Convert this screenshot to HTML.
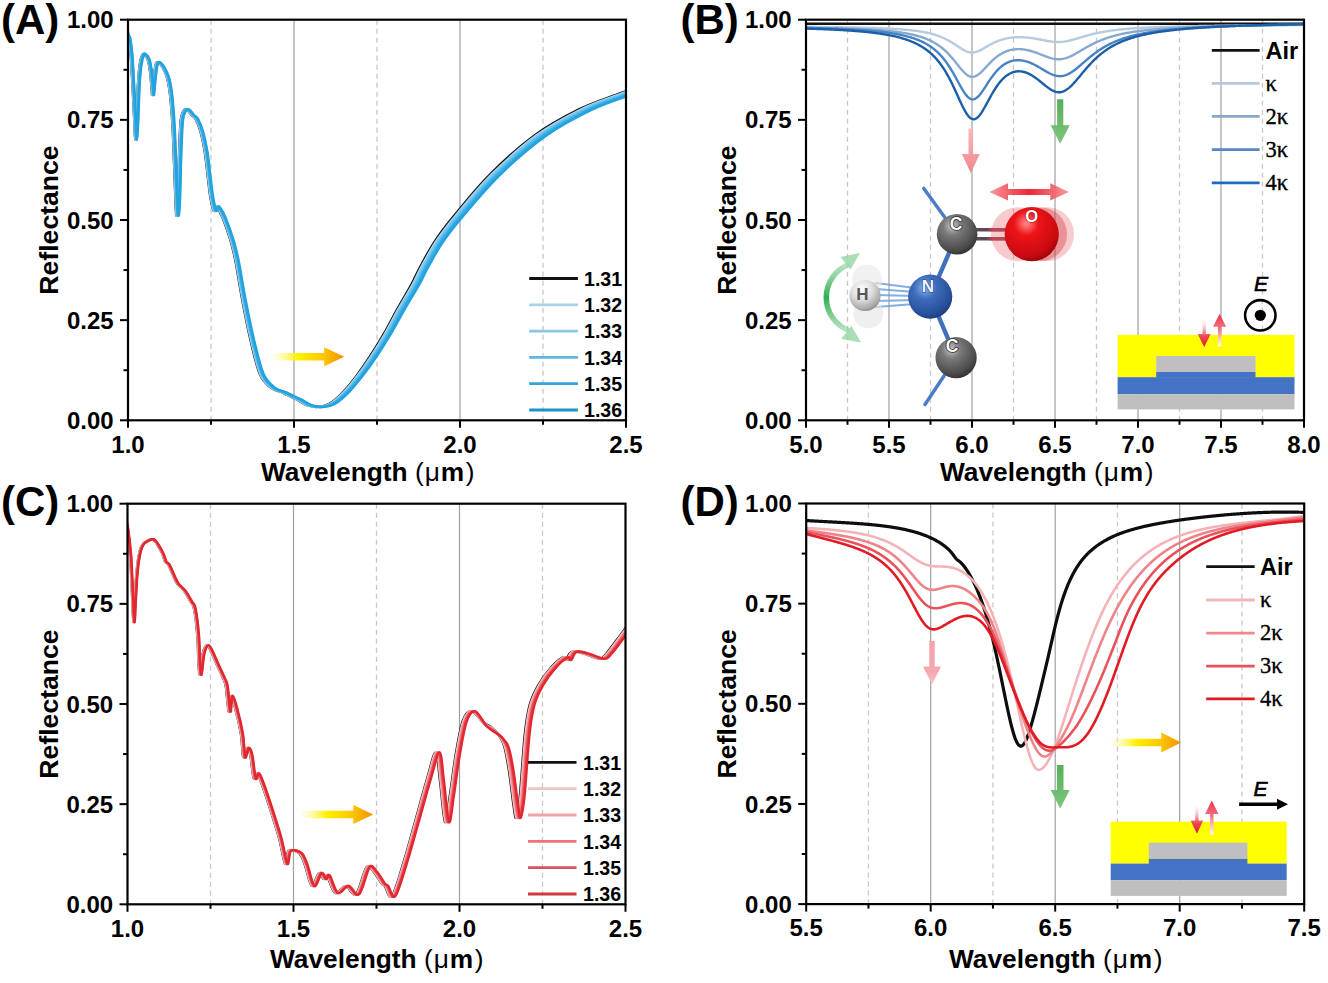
<!DOCTYPE html>
<html><head><meta charset="utf-8"><style>
html,body{margin:0;padding:0;background:#fff;}
svg{display:block;font-family:"Liberation Sans", sans-serif;}
</style></head><body>
<svg width="1328" height="983" viewBox="0 0 1328 983">
<rect width="1328" height="983" fill="#fff"/>
<line x1="211.00" y1="19.7" x2="211.00" y2="420.3" stroke="#c8c8c8" stroke-width="1.3" stroke-dasharray="5,4"/>
<line x1="377.00" y1="19.7" x2="377.00" y2="420.3" stroke="#c8c8c8" stroke-width="1.3" stroke-dasharray="5,4"/>
<line x1="543.00" y1="19.7" x2="543.00" y2="420.3" stroke="#c8c8c8" stroke-width="1.3" stroke-dasharray="5,4"/>
<line x1="294.00" y1="19.7" x2="294.00" y2="420.3" stroke="#a0a0a0" stroke-width="1.2"/>
<line x1="460.00" y1="19.7" x2="460.00" y2="420.3" stroke="#a0a0a0" stroke-width="1.2"/>
<line x1="847.50" y1="19.7" x2="847.50" y2="420.3" stroke="#c8c8c8" stroke-width="1.3" stroke-dasharray="5,4"/>
<line x1="930.50" y1="19.7" x2="930.50" y2="420.3" stroke="#c8c8c8" stroke-width="1.3" stroke-dasharray="5,4"/>
<line x1="1013.50" y1="19.7" x2="1013.50" y2="420.3" stroke="#c8c8c8" stroke-width="1.3" stroke-dasharray="5,4"/>
<line x1="1096.50" y1="19.7" x2="1096.50" y2="420.3" stroke="#c8c8c8" stroke-width="1.3" stroke-dasharray="5,4"/>
<line x1="1179.50" y1="19.7" x2="1179.50" y2="420.3" stroke="#c8c8c8" stroke-width="1.3" stroke-dasharray="5,4"/>
<line x1="1262.50" y1="19.7" x2="1262.50" y2="420.3" stroke="#c8c8c8" stroke-width="1.3" stroke-dasharray="5,4"/>
<line x1="889.00" y1="19.7" x2="889.00" y2="420.3" stroke="#a0a0a0" stroke-width="1.2"/>
<line x1="972.00" y1="19.7" x2="972.00" y2="420.3" stroke="#a0a0a0" stroke-width="1.2"/>
<line x1="1055.00" y1="19.7" x2="1055.00" y2="420.3" stroke="#a0a0a0" stroke-width="1.2"/>
<line x1="1138.00" y1="19.7" x2="1138.00" y2="420.3" stroke="#a0a0a0" stroke-width="1.2"/>
<line x1="1221.00" y1="19.7" x2="1221.00" y2="420.3" stroke="#a0a0a0" stroke-width="1.2"/>
<line x1="210.50" y1="503.7" x2="210.50" y2="904.3" stroke="#c8c8c8" stroke-width="1.3" stroke-dasharray="5,4"/>
<line x1="376.50" y1="503.7" x2="376.50" y2="904.3" stroke="#c8c8c8" stroke-width="1.3" stroke-dasharray="5,4"/>
<line x1="542.50" y1="503.7" x2="542.50" y2="904.3" stroke="#c8c8c8" stroke-width="1.3" stroke-dasharray="5,4"/>
<line x1="293.50" y1="503.7" x2="293.50" y2="904.3" stroke="#a0a0a0" stroke-width="1.2"/>
<line x1="459.50" y1="503.7" x2="459.50" y2="904.3" stroke="#a0a0a0" stroke-width="1.2"/>
<line x1="868.45" y1="503.5" x2="868.45" y2="904.1" stroke="#c8c8c8" stroke-width="1.3" stroke-dasharray="5,4"/>
<line x1="992.95" y1="503.5" x2="992.95" y2="904.1" stroke="#c8c8c8" stroke-width="1.3" stroke-dasharray="5,4"/>
<line x1="1117.45" y1="503.5" x2="1117.45" y2="904.1" stroke="#c8c8c8" stroke-width="1.3" stroke-dasharray="5,4"/>
<line x1="1241.95" y1="503.5" x2="1241.95" y2="904.1" stroke="#c8c8c8" stroke-width="1.3" stroke-dasharray="5,4"/>
<line x1="930.70" y1="503.5" x2="930.70" y2="904.1" stroke="#a0a0a0" stroke-width="1.2"/>
<line x1="1055.20" y1="503.5" x2="1055.20" y2="904.1" stroke="#a0a0a0" stroke-width="1.2"/>
<line x1="1179.70" y1="503.5" x2="1179.70" y2="904.1" stroke="#a0a0a0" stroke-width="1.2"/>
<defs><clipPath id="cA"><rect x="128" y="19.7" width="498" height="400.6"/></clipPath><clipPath id="cB"><rect x="806" y="19.7" width="498" height="400.6"/></clipPath><clipPath id="cC"><rect x="127.5" y="503.7" width="498" height="400.6"/></clipPath><clipPath id="cD"><rect x="806.2" y="503.5" width="498" height="400.6"/></clipPath></defs>
<g clip-path="url(#cA)" fill="none" stroke-linejoin="round" stroke-linecap="round">
<path d="M124.34,22.00 C124.81,24.33 126.46,33.35 127.14,36.00 C127.83,38.65 127.88,34.83 128.44,37.90 C129.01,40.97 129.89,46.57 130.54,54.40 C131.18,62.23 131.71,73.72 132.33,84.90 C132.94,96.08 133.76,112.35 134.22,121.50 C134.68,130.65 134.75,139.80 135.12,139.80 C135.48,139.80 135.96,130.65 136.41,121.50 C136.86,112.35 137.26,94.47 137.80,84.90 C138.35,75.33 138.98,69.08 139.69,64.10 C140.40,59.12 141.32,56.62 142.08,55.00 C142.84,53.38 143.35,53.68 144.26,54.40 C145.17,55.12 146.60,56.45 147.54,59.30 C148.48,62.15 149.26,66.63 149.92,71.50 C150.59,76.37 151.15,84.65 151.51,88.50 C151.88,92.35 151.76,96.22 152.11,94.60 C152.45,92.98 153.05,83.67 153.60,78.80 C154.14,73.93 154.69,68.15 155.38,65.40 C156.08,62.65 156.56,61.90 157.76,62.30 C158.97,62.70 161.10,65.25 162.62,67.80 C164.14,70.35 165.66,73.07 166.88,77.60 C168.10,82.13 169.04,87.10 169.95,95.00 C170.86,102.90 171.65,113.33 172.33,125.00 C173.01,136.67 173.48,151.67 174.01,165.00 C174.54,178.33 175.09,196.60 175.50,205.00 C175.91,213.40 176.11,216.63 176.49,215.40 C176.87,214.17 177.38,207.35 177.78,197.60 C178.17,187.85 178.40,169.65 178.86,156.90 C179.33,144.15 179.74,128.82 180.55,121.10 C181.35,113.38 182.64,112.48 183.71,110.60 C184.79,108.72 185.63,109.00 186.98,109.80 C188.33,110.60 190.36,113.78 191.82,115.40 C193.29,117.02 194.31,116.65 195.78,119.50 C197.25,122.35 199.14,127.08 200.62,132.50 C202.11,137.92 203.47,144.42 204.67,152.00 C205.88,159.58 206.90,170.40 207.84,178.00 C208.77,185.60 209.37,192.17 210.31,197.60 C211.24,203.03 212.54,209.12 213.47,210.60 C214.39,212.08 214.77,206.23 215.84,206.50 C216.90,206.77 218.40,209.35 219.88,212.20 C221.36,215.05 222.84,218.45 224.72,223.60 C226.59,228.75 229.31,236.58 231.13,243.10 C232.96,249.62 233.81,253.10 235.67,262.70 C237.53,272.30 239.70,287.27 242.28,300.70 C244.86,314.13 248.21,330.98 251.15,343.30 C254.09,355.62 256.62,367.15 259.92,374.60 C263.22,382.05 267.27,385.02 270.95,388.00 C274.63,390.98 279.40,391.37 281.98,392.50 C284.55,393.63 283.93,393.62 286.40,394.80 C288.88,395.98 293.46,397.85 296.83,399.60 C300.21,401.35 303.23,404.07 306.67,405.30 C310.11,406.53 313.71,407.25 317.48,407.00 C321.25,406.75 325.10,406.22 329.27,403.80 C333.45,401.38 338.15,397.00 342.53,392.50 C346.92,388.00 351.09,382.73 355.59,376.80 C360.09,370.87 364.87,364.02 369.53,356.90 C374.19,349.78 378.89,342.17 383.55,334.10 C388.21,326.03 392.84,316.80 397.47,308.50 C402.11,300.20 407.70,291.10 411.39,284.30 C415.08,277.50 415.82,274.75 419.62,267.70 C423.43,260.65 428.63,250.48 434.22,242.00 C439.80,233.52 443.85,228.05 453.11,216.80 C462.37,205.55 476.25,188.07 489.79,174.50 C503.33,160.93 519.51,146.27 534.36,135.40 C549.20,124.53 565.28,116.08 578.87,109.30 C592.47,102.52 606.67,98.17 615.93,94.70 C625.20,91.23 628.12,90.45 634.46,88.50 C640.79,86.55 650.70,83.92 653.94,83.00" stroke="#111111" stroke-width="2.2"/>
<path d="M124.66,22.00 C125.13,24.33 126.78,33.35 127.46,36.00 C128.14,38.65 128.19,34.83 128.76,37.90 C129.32,40.97 130.20,46.57 130.85,54.40 C131.50,62.23 132.03,73.72 132.65,84.90 C133.26,96.08 134.08,112.35 134.54,121.50 C135.01,130.65 135.07,139.80 135.44,139.80 C135.80,139.80 136.29,130.65 136.73,121.50 C137.18,112.35 137.58,94.47 138.13,84.90 C138.68,75.33 139.31,69.08 140.02,64.10 C140.73,59.12 141.65,56.62 142.41,55.00 C143.17,53.38 143.69,53.68 144.60,54.40 C145.51,55.12 146.94,56.45 147.88,59.30 C148.83,62.15 149.61,66.63 150.27,71.50 C150.93,76.37 151.50,84.65 151.86,88.50 C152.23,92.35 152.11,96.22 152.46,94.60 C152.81,92.98 153.40,83.67 153.95,78.80 C154.50,73.93 155.04,68.15 155.74,65.40 C156.44,62.65 156.92,61.90 158.13,62.30 C159.34,62.70 161.47,65.25 163.00,67.80 C164.52,70.35 166.04,73.07 167.27,77.60 C168.49,82.13 169.44,87.10 170.35,95.00 C171.26,102.90 172.05,113.33 172.73,125.00 C173.41,136.67 173.89,151.67 174.42,165.00 C174.95,178.33 175.49,196.60 175.91,205.00 C176.32,213.40 176.52,216.63 176.90,215.40 C177.28,214.17 177.79,207.35 178.19,197.60 C178.59,187.85 178.82,169.65 179.28,156.90 C179.75,144.15 180.16,128.82 180.97,121.10 C181.78,113.38 183.07,112.48 184.15,110.60 C185.22,108.72 186.06,109.00 187.42,109.80 C188.78,110.60 190.81,113.78 192.28,115.40 C193.75,117.02 194.78,116.65 196.25,119.50 C197.72,122.35 199.62,127.08 201.11,132.50 C202.59,137.92 203.97,144.42 205.17,152.00 C206.38,159.58 207.40,170.40 208.34,178.00 C209.29,185.60 209.88,192.17 210.82,197.60 C211.76,203.03 213.07,209.12 213.99,210.60 C214.92,212.08 215.30,206.23 216.37,206.50 C217.44,206.77 218.95,209.35 220.43,212.20 C221.92,215.05 223.41,218.45 225.29,223.60 C227.17,228.75 229.89,236.58 231.72,243.10 C233.56,249.62 234.41,253.10 236.28,262.70 C238.14,272.30 240.32,287.27 242.91,300.70 C245.50,314.13 248.87,330.98 251.82,343.30 C254.77,355.62 257.31,367.15 260.62,374.60 C263.94,382.05 268.01,385.02 271.70,388.00 C275.39,390.98 280.19,391.37 282.77,392.50 C285.36,393.63 284.73,393.62 287.22,394.80 C289.71,395.98 294.30,397.85 297.70,399.60 C301.09,401.35 304.12,404.07 307.58,405.30 C311.03,406.53 314.66,407.25 318.44,407.00 C322.23,406.75 326.09,406.22 330.29,403.80 C334.49,401.38 339.21,397.00 343.62,392.50 C348.02,388.00 352.22,382.73 356.74,376.80 C361.26,370.87 366.06,364.02 370.75,356.90 C375.43,349.78 380.16,342.17 384.85,334.10 C389.53,326.03 394.18,316.80 398.85,308.50 C403.51,300.20 409.13,291.10 412.84,284.30 C416.55,277.50 417.29,274.75 421.12,267.70 C424.94,260.65 430.18,250.48 435.79,242.00 C441.41,233.52 445.48,228.05 454.80,216.80 C464.12,205.55 478.08,188.07 491.70,174.50 C505.33,160.93 521.61,146.27 536.55,135.40 C551.49,124.53 567.67,116.08 581.36,109.30 C595.05,102.52 609.35,98.17 618.68,94.70 C628.01,91.23 630.95,90.45 637.33,88.50 C643.71,86.55 653.69,83.92 656.96,83.00" stroke="#9fd2ee" stroke-width="2.6"/>
<path d="M125.01,22.00 C125.48,24.33 127.13,33.35 127.81,36.00 C128.49,38.65 128.54,34.83 129.11,37.90 C129.67,40.97 130.56,46.57 131.21,54.40 C131.86,62.23 132.39,73.72 133.00,84.90 C133.62,96.08 134.43,112.35 134.90,121.50 C135.37,130.65 135.43,139.80 135.80,139.80 C136.16,139.80 136.65,130.65 137.09,121.50 C137.54,112.35 137.94,94.47 138.49,84.90 C139.04,75.33 139.67,69.08 140.39,64.10 C141.10,59.12 142.02,56.62 142.78,55.00 C143.55,53.38 144.06,53.68 144.98,54.40 C145.89,55.12 147.32,56.45 148.27,59.30 C149.21,62.15 149.99,66.63 150.66,71.50 C151.32,76.37 151.89,84.65 152.25,88.50 C152.62,92.35 152.50,96.22 152.85,94.60 C153.20,92.98 153.80,83.67 154.35,78.80 C154.89,73.93 155.44,68.15 156.14,65.40 C156.84,62.65 157.32,61.90 158.53,62.30 C159.74,62.70 161.89,65.25 163.41,67.80 C164.94,70.35 166.47,73.07 167.70,77.60 C168.93,82.13 169.87,87.10 170.79,95.00 C171.70,102.90 172.50,113.33 173.18,125.00 C173.86,136.67 174.34,151.67 174.87,165.00 C175.40,178.33 175.95,196.60 176.36,205.00 C176.78,213.40 176.98,216.63 177.36,215.40 C177.74,214.17 178.25,207.35 178.65,197.60 C179.05,187.85 179.28,169.65 179.75,156.90 C180.21,144.15 180.63,128.82 181.44,121.10 C182.25,113.38 183.55,112.48 184.63,110.60 C185.71,108.72 186.55,109.00 187.91,109.80 C189.27,110.60 191.31,113.78 192.79,115.40 C194.27,117.02 195.29,116.65 196.77,119.50 C198.25,122.35 200.15,127.08 201.65,132.50 C203.14,137.92 204.51,144.42 205.73,152.00 C206.94,159.58 207.96,170.40 208.91,178.00 C209.85,185.60 210.45,192.17 211.40,197.60 C212.34,203.03 213.65,209.12 214.58,210.60 C215.51,212.08 215.89,206.23 216.97,206.50 C218.04,206.77 219.55,209.35 221.04,212.20 C222.54,215.05 224.03,218.45 225.92,223.60 C227.81,228.75 230.54,236.58 232.38,243.10 C234.22,249.62 235.08,253.10 236.95,262.70 C238.83,272.30 241.01,287.27 243.61,300.70 C246.22,314.13 249.60,330.98 252.56,343.30 C255.53,355.62 258.08,367.15 261.41,374.60 C264.73,382.05 268.82,385.02 272.53,388.00 C276.24,390.98 281.06,391.37 283.66,392.50 C286.26,393.63 285.63,393.62 288.13,394.80 C290.63,395.98 295.25,397.85 298.66,399.60 C302.07,401.35 305.11,404.07 308.59,405.30 C312.06,406.53 315.70,407.25 319.51,407.00 C323.31,406.75 327.20,406.22 331.42,403.80 C335.64,401.38 340.38,397.00 344.82,392.50 C349.25,388.00 353.47,382.73 358.01,376.80 C362.56,370.87 367.39,364.02 372.10,356.90 C376.81,349.78 381.57,342.17 386.29,334.10 C391.00,326.03 395.67,316.80 400.37,308.50 C405.06,300.20 410.71,291.10 414.45,284.30 C418.18,277.50 418.93,274.75 422.78,267.70 C426.63,260.65 431.90,250.48 437.55,242.00 C443.20,233.52 447.29,228.05 456.67,216.80 C466.05,205.55 480.11,188.07 493.83,174.50 C507.55,160.93 523.94,146.27 538.99,135.40 C554.04,124.53 570.34,116.08 584.13,109.30 C597.92,102.52 612.33,98.17 621.73,94.70 C631.13,91.23 634.10,90.45 640.53,88.50 C646.96,86.55 657.01,83.92 660.31,83.00" stroke="#7cc6ec" stroke-width="2.6"/>
<path d="M125.36,22.00 C125.83,24.33 127.48,33.35 128.16,36.00 C128.84,38.65 128.89,34.83 129.46,37.90 C130.03,40.97 130.91,46.57 131.56,54.40 C132.21,62.23 132.74,73.72 133.36,84.90 C133.97,96.08 134.79,112.35 135.26,121.50 C135.72,130.65 135.79,139.80 136.16,139.80 C136.52,139.80 137.01,130.65 137.46,121.50 C137.91,112.35 138.31,94.47 138.85,84.90 C139.40,75.33 140.04,69.08 140.75,64.10 C141.47,59.12 142.39,56.62 143.15,55.00 C143.92,53.38 144.43,53.68 145.35,54.40 C146.27,55.12 147.70,56.45 148.65,59.30 C149.60,62.15 150.38,66.63 151.05,71.50 C151.71,76.37 152.28,84.65 152.64,88.50 C153.01,92.35 152.89,96.22 153.24,94.60 C153.59,92.98 154.19,83.67 154.74,78.80 C155.29,73.93 155.84,68.15 156.54,65.40 C157.24,62.65 157.72,61.90 158.94,62.30 C160.15,62.70 162.30,65.25 163.83,67.80 C165.36,70.35 166.90,73.07 168.13,77.60 C169.36,82.13 170.31,87.10 171.22,95.00 C172.14,102.90 172.94,113.33 173.62,125.00 C174.30,136.67 174.79,151.67 175.32,165.00 C175.85,178.33 176.40,196.60 176.82,205.00 C177.23,213.40 177.43,216.63 177.82,215.40 C178.20,214.17 178.72,207.35 179.12,197.60 C179.51,187.85 179.75,169.65 180.21,156.90 C180.68,144.15 181.10,128.82 181.91,121.10 C182.73,113.38 184.03,112.48 185.11,110.60 C186.19,108.72 187.04,109.00 188.40,109.80 C189.77,110.60 191.82,113.78 193.30,115.40 C194.78,117.02 195.81,116.65 197.29,119.50 C198.77,122.35 200.69,127.08 202.18,132.50 C203.68,137.92 205.06,144.42 206.28,152.00 C207.49,159.58 208.53,170.40 209.47,178.00 C210.42,185.60 211.02,192.17 211.97,197.60 C212.92,203.03 214.23,209.12 215.17,210.60 C216.10,212.08 216.48,206.23 217.56,206.50 C218.64,206.77 220.16,209.35 221.66,212.20 C223.15,215.05 224.65,218.45 226.55,223.60 C228.44,228.75 231.19,236.58 233.04,243.10 C234.88,249.62 235.75,253.10 237.63,262.70 C239.51,272.30 241.71,287.27 244.32,300.70 C246.93,314.13 250.32,330.98 253.30,343.30 C256.28,355.62 258.84,367.15 262.19,374.60 C265.53,382.05 269.64,385.02 273.37,388.00 C277.09,390.98 281.93,391.37 284.55,392.50 C287.16,393.63 286.53,393.62 289.04,394.80 C291.55,395.98 296.19,397.85 299.62,399.60 C303.04,401.35 306.10,404.07 309.60,405.30 C313.09,406.53 316.75,407.25 320.57,407.00 C324.40,406.75 328.31,406.22 332.55,403.80 C336.79,401.38 341.56,397.00 346.02,392.50 C350.48,388.00 354.72,382.73 359.29,376.80 C363.86,370.87 368.72,364.02 373.46,356.90 C378.20,349.78 382.99,342.17 387.72,334.10 C392.46,326.03 397.17,316.80 401.89,308.50 C406.61,300.20 412.30,291.10 416.06,284.30 C419.81,277.50 420.56,274.75 424.44,267.70 C428.31,260.65 433.61,250.48 439.30,242.00 C444.98,233.52 449.11,228.05 458.55,216.80 C467.99,205.55 482.14,188.07 495.95,174.50 C509.76,160.93 526.27,146.27 541.42,135.40 C556.58,124.53 573.00,116.08 586.89,109.30 C600.79,102.52 615.31,98.17 624.78,94.70 C634.25,91.23 637.24,90.45 643.72,88.50 C650.20,86.55 660.34,83.92 663.66,83.00" stroke="#55b8e8" stroke-width="2.6"/>
<path d="M125.71,22.00 C126.18,24.33 127.83,33.35 128.51,36.00 C129.19,38.65 129.24,34.83 129.81,37.90 C130.38,40.97 131.26,46.57 131.91,54.40 C132.56,62.23 133.10,73.72 133.71,84.90 C134.33,96.08 135.15,112.35 135.61,121.50 C136.08,130.65 136.15,139.80 136.52,139.80 C136.88,139.80 137.37,130.65 137.82,121.50 C138.27,112.35 138.67,94.47 139.22,84.90 C139.77,75.33 140.40,69.08 141.12,64.10 C141.84,59.12 142.75,56.62 143.52,55.00 C144.29,53.38 144.81,53.68 145.72,54.40 C146.64,55.12 148.08,56.45 149.03,59.30 C149.98,62.15 150.76,66.63 151.43,71.50 C152.10,76.37 152.67,84.65 153.03,88.50 C153.40,92.35 153.28,96.22 153.64,94.60 C153.99,92.98 154.59,83.67 155.14,78.80 C155.69,73.93 156.24,68.15 156.94,65.40 C157.64,62.65 158.12,61.90 159.34,62.30 C160.56,62.70 162.72,65.25 164.25,67.80 C165.79,70.35 167.32,73.07 168.56,77.60 C169.79,82.13 170.74,87.10 171.66,95.00 C172.58,102.90 173.38,113.33 174.07,125.00 C174.75,136.67 175.24,151.67 175.77,165.00 C176.30,178.33 176.86,196.60 177.27,205.00 C177.69,213.40 177.89,216.63 178.27,215.40 C178.66,214.17 179.18,207.35 179.58,197.60 C179.98,187.85 180.21,169.65 180.68,156.90 C181.15,144.15 181.56,128.82 182.38,121.10 C183.20,113.38 184.50,112.48 185.59,110.60 C186.67,108.72 187.53,109.00 188.89,109.80 C190.26,110.60 192.32,113.78 193.80,115.40 C195.29,117.02 196.33,116.65 197.81,119.50 C199.30,122.35 201.22,127.08 202.72,132.50 C204.23,137.92 205.61,144.42 206.83,152.00 C208.05,159.58 209.09,170.40 210.04,178.00 C210.99,185.60 211.59,192.17 212.54,197.60 C213.50,203.03 214.82,209.12 215.75,210.60 C216.69,212.08 217.07,206.23 218.16,206.50 C219.24,206.77 220.76,209.35 222.27,212.20 C223.77,215.05 225.27,218.45 227.18,223.60 C229.08,228.75 231.84,236.58 233.69,243.10 C235.55,249.62 236.42,253.10 238.31,262.70 C240.19,272.30 242.40,287.27 245.02,300.70 C247.65,314.13 251.05,330.98 254.05,343.30 C257.04,355.62 259.61,367.15 262.97,374.60 C266.33,382.05 270.46,385.02 274.20,388.00 C277.94,390.98 282.81,391.37 285.43,392.50 C288.06,393.63 287.42,393.62 289.94,394.80 C292.47,395.98 297.13,397.85 300.58,399.60 C304.02,401.35 307.10,404.07 310.61,405.30 C314.12,406.53 317.79,407.25 321.64,407.00 C325.49,406.75 329.41,406.22 333.68,403.80 C337.94,401.38 342.74,397.00 347.22,392.50 C351.70,388.00 355.97,382.73 360.57,376.80 C365.16,370.87 370.05,364.02 374.81,356.90 C379.58,349.78 384.40,342.17 389.16,334.10 C393.93,326.03 398.66,316.80 403.41,308.50 C408.16,300.20 413.88,291.10 417.67,284.30 C421.45,277.50 422.20,274.75 426.10,267.70 C429.99,260.65 435.33,250.48 441.05,242.00 C446.77,233.52 450.92,228.05 460.43,216.80 C469.93,205.55 484.17,188.07 498.07,174.50 C511.98,160.93 528.60,146.27 543.86,135.40 C559.13,124.53 575.67,116.08 589.66,109.30 C603.65,102.52 618.29,98.17 627.83,94.70 C637.37,91.23 640.39,90.45 646.92,88.50 C653.45,86.55 663.66,83.92 667.01,83.00" stroke="#35ace6" stroke-width="2.6"/>
<path d="M126.06,22.00 C126.53,24.33 128.18,33.35 128.86,36.00 C129.54,38.65 129.59,34.83 130.16,37.90 C130.73,40.97 131.61,46.57 132.26,54.40 C132.92,62.23 133.45,73.72 134.07,84.90 C134.69,96.08 135.50,112.35 135.97,121.50 C136.44,130.65 136.51,139.80 136.87,139.80 C137.24,139.80 137.73,130.65 138.18,121.50 C138.63,112.35 139.03,94.47 139.58,84.90 C140.13,75.33 140.77,69.08 141.49,64.10 C142.20,59.12 143.12,56.62 143.89,55.00 C144.66,53.38 145.18,53.68 146.10,54.40 C147.02,55.12 148.46,56.45 149.41,59.30 C150.36,62.15 151.15,66.63 151.82,71.50 C152.49,76.37 153.06,84.65 153.42,88.50 C153.79,92.35 153.68,96.22 154.03,94.60 C154.38,92.98 154.98,83.67 155.53,78.80 C156.08,73.93 156.64,68.15 157.34,65.40 C158.04,62.65 158.53,61.90 159.75,62.30 C160.97,62.70 163.13,65.25 164.67,67.80 C166.21,70.35 167.75,73.07 168.99,77.60 C170.23,82.13 171.18,87.10 172.10,95.00 C173.02,102.90 173.83,113.33 174.51,125.00 C175.20,136.67 175.69,151.67 176.22,165.00 C176.76,178.33 177.31,196.60 177.73,205.00 C178.15,213.40 178.35,216.63 178.73,215.40 C179.12,214.17 179.64,207.35 180.04,197.60 C180.44,187.85 180.68,169.65 181.14,156.90 C181.61,144.15 182.03,128.82 182.85,121.10 C183.67,113.38 184.98,112.48 186.07,110.60 C187.16,108.72 188.01,109.00 189.39,109.80 C190.76,110.60 192.82,113.78 194.31,115.40 C195.80,117.02 196.84,116.65 198.33,119.50 C199.83,122.35 201.75,127.08 203.26,132.50 C204.77,137.92 206.16,144.42 207.39,152.00 C208.61,159.58 209.65,170.40 210.60,178.00 C211.56,185.60 212.16,192.17 213.12,197.60 C214.07,203.03 215.40,209.12 216.34,210.60 C217.28,212.08 217.66,206.23 218.75,206.50 C219.84,206.77 221.37,209.35 222.88,212.20 C224.39,215.05 225.90,218.45 227.81,223.60 C229.72,228.75 232.49,236.58 234.35,243.10 C236.21,249.62 237.09,253.10 238.98,262.70 C240.88,272.30 243.09,287.27 245.73,300.70 C248.36,314.13 251.78,330.98 254.79,343.30 C257.79,355.62 260.38,367.15 263.75,374.60 C267.13,382.05 271.27,385.02 275.03,388.00 C278.79,390.98 283.68,391.37 286.32,392.50 C288.95,393.63 288.32,393.62 290.85,394.80 C293.39,395.98 298.07,397.85 301.54,399.60 C305.00,401.35 308.09,404.07 311.62,405.30 C315.14,406.53 318.84,407.25 322.71,407.00 C326.57,406.75 330.52,406.22 334.81,403.80 C339.09,401.38 343.92,397.00 348.42,392.50 C352.93,388.00 357.22,382.73 361.84,376.80 C366.47,370.87 371.38,364.02 376.17,356.90 C380.96,349.78 385.81,342.17 390.60,334.10 C395.40,326.03 400.16,316.80 404.94,308.50 C409.72,300.20 415.47,291.10 419.27,284.30 C423.08,277.50 423.83,274.75 427.76,267.70 C431.68,260.65 437.05,250.48 442.80,242.00 C448.56,233.52 452.74,228.05 462.30,216.80 C471.87,205.55 486.20,188.07 500.20,174.50 C514.20,160.93 530.93,146.27 546.30,135.40 C561.67,124.53 578.33,116.08 592.43,109.30 C606.52,102.52 621.27,98.17 630.88,94.70 C640.49,91.23 643.53,90.45 650.11,88.50 C656.69,86.55 666.99,83.92 670.36,83.00" stroke="#22a3e0" stroke-width="2.6"/>
</g>
<g clip-path="url(#cC)" fill="none" stroke-linejoin="round" stroke-linecap="round">
<path d="M124.17,516.00 C124.64,518.17 126.03,522.53 126.97,529.00 C127.92,535.47 129.08,544.63 129.86,554.80 C130.64,564.97 131.08,578.82 131.65,590.00 C132.21,601.18 132.74,620.23 133.24,621.90 C133.73,623.57 134.18,607.45 134.63,600.00 C135.07,592.55 135.34,584.20 135.92,577.20 C136.50,570.20 137.18,563.23 138.11,558.00 C139.03,552.77 139.81,548.77 141.48,545.80 C143.16,542.83 146.11,541.13 148.14,540.20 C150.18,539.27 151.49,538.15 153.71,540.20 C155.93,542.25 159.60,548.95 161.46,552.50 C163.31,556.05 163.73,559.45 164.84,561.50 C165.95,563.55 166.82,562.57 168.12,564.80 C169.41,567.03 171.10,571.72 172.59,574.90 C174.08,578.08 175.20,581.28 177.06,583.90 C178.91,586.52 181.50,587.62 183.72,590.60 C185.94,593.58 188.70,598.82 190.37,601.80 C192.05,604.78 192.63,602.90 193.75,608.50 C194.88,614.10 196.39,626.45 197.13,635.40 C197.88,644.35 197.79,655.68 198.22,662.20 C198.66,668.72 198.99,675.98 199.72,674.50 C200.44,673.02 201.37,658.15 202.60,653.30 C203.82,648.45 205.40,645.03 207.07,645.40 C208.74,645.77 211.14,652.52 212.63,655.50 C214.12,658.48 214.34,659.57 216.01,663.30 C217.68,667.03 221.08,674.12 222.67,677.90 C224.26,681.68 224.59,680.40 225.55,686.00 C226.51,691.60 227.64,709.83 228.43,711.50 C229.23,713.17 229.25,696.57 230.32,696.00 C231.40,695.43 233.17,701.80 234.89,708.10 C236.62,714.40 239.30,725.62 240.66,733.80 C242.01,741.98 242.06,754.85 243.04,757.20 C244.02,759.55 245.36,748.28 246.52,747.90 C247.68,747.52 248.84,749.83 250.00,754.90 C251.16,759.97 252.32,775.18 253.47,778.30 C254.63,781.42 255.40,772.03 256.95,773.60 C258.51,775.17 260.30,780.67 262.82,787.70 C265.33,794.73 269.34,807.22 272.06,815.80 C274.77,824.38 276.98,831.20 279.11,839.20 C281.25,847.20 283.34,861.85 284.88,863.80 C286.42,865.75 286.02,852.67 288.35,850.90 C290.69,849.13 296.17,850.87 298.89,853.20 C301.60,855.53 302.53,859.43 304.65,864.90 C306.77,870.37 309.27,884.63 311.61,886.00 C313.94,887.37 316.72,874.27 318.66,873.10 C320.60,871.93 321.89,878.60 323.23,879.00 C324.57,879.40 324.77,873.17 326.71,875.50 C328.65,877.83 331.75,891.25 334.86,893.00 C337.97,894.75 341.90,885.80 345.39,886.00 C348.89,886.20 352.35,897.32 355.83,894.20 C359.30,891.08 363.30,871.00 366.26,867.30 C369.22,863.60 371.08,869.27 373.61,872.00 C376.15,874.73 379.63,881.35 381.46,883.70 C383.30,886.05 382.94,884.03 384.64,886.10 C386.35,888.17 388.64,899.88 391.70,896.10 C394.76,892.32 399.25,875.50 403.03,863.40 C406.80,851.30 410.35,837.73 414.36,823.50 C418.36,809.27 423.55,789.85 427.08,778.00 C430.60,766.15 433.40,751.93 435.52,752.40 C437.64,752.87 438.24,769.18 439.79,780.80 C441.35,792.42 443.21,819.73 444.86,822.10 C446.52,824.47 447.98,806.15 449.73,795.00 C451.49,783.85 453.28,767.52 455.40,755.20 C457.52,742.88 459.87,728.49 462.45,721.10 C465.03,713.71 467.60,710.80 470.90,710.88 C474.19,710.97 478.93,718.97 482.23,721.60 C485.52,724.22 488.07,724.57 490.67,726.62 C493.27,728.68 495.62,730.75 497.83,733.94 C500.03,737.13 502.07,739.62 503.89,745.78 C505.71,751.93 507.13,760.55 508.76,770.87 C510.38,781.19 512.42,799.95 513.63,807.70 C514.84,815.45 515.00,819.43 516.01,817.40 C517.02,815.37 518.26,809.33 519.69,795.50 C521.11,781.67 522.93,749.48 524.56,734.40 C526.18,719.32 527.21,713.15 529.43,705.00 C531.65,696.85 534.44,691.60 537.87,685.50 C541.30,679.40 545.91,673.07 550.00,668.40 C554.09,663.73 559.77,658.90 562.42,657.50 C565.07,656.10 564.74,660.67 565.90,660.00 C567.06,659.33 568.13,654.92 569.37,653.50 C570.62,652.08 570.91,651.45 573.35,651.50 C575.78,651.55 579.77,652.62 583.98,653.80 C588.19,654.98 594.94,658.60 598.59,658.60 C602.23,658.60 601.93,658.15 605.84,653.80 C609.75,649.45 617.02,639.13 622.04,632.50 C627.06,625.87 631.15,620.25 635.95,614.00 C640.75,607.75 648.37,598.17 650.86,595.00" stroke="#111111" stroke-width="2.0"/>
<path d="M124.40,516.00 C124.87,518.17 126.25,522.53 127.20,529.00 C128.15,535.47 129.31,544.63 130.09,554.80 C130.87,564.97 131.32,578.82 131.88,590.00 C132.44,601.18 132.97,620.23 133.47,621.90 C133.97,623.57 134.42,607.45 134.87,600.00 C135.31,592.55 135.58,584.20 136.16,577.20 C136.74,570.20 137.42,563.23 138.35,558.00 C139.28,552.77 140.06,548.77 141.73,545.80 C143.41,542.83 146.36,541.13 148.40,540.20 C150.44,539.27 151.75,538.15 153.98,540.20 C156.20,542.25 159.88,548.95 161.74,552.50 C163.60,556.05 164.01,559.45 165.13,561.50 C166.24,563.55 167.12,562.57 168.41,564.80 C169.71,567.03 171.40,571.72 172.89,574.90 C174.38,578.08 175.51,581.28 177.37,583.90 C179.23,586.52 181.82,587.62 184.04,590.60 C186.26,593.58 189.03,598.82 190.71,601.80 C192.38,604.78 192.97,602.90 194.09,608.50 C195.22,614.10 196.73,626.45 197.48,635.40 C198.22,644.35 198.14,655.68 198.57,662.20 C199.00,668.72 199.34,675.98 200.07,674.50 C200.80,673.02 201.72,658.15 202.95,653.30 C204.18,648.45 205.76,645.03 207.43,645.40 C209.11,645.77 211.51,652.52 213.01,655.50 C214.50,658.48 214.72,659.57 216.39,663.30 C218.07,667.03 221.47,674.12 223.06,677.90 C224.65,681.68 224.98,680.40 225.95,686.00 C226.91,691.60 228.04,709.83 228.83,711.50 C229.63,713.17 229.65,696.57 230.72,696.00 C231.80,695.43 233.58,701.80 235.30,708.10 C237.03,714.40 239.72,725.62 241.08,733.80 C242.44,741.98 242.49,754.85 243.47,757.20 C244.44,759.55 245.79,748.28 246.95,747.90 C248.11,747.52 249.27,749.83 250.43,754.90 C251.60,759.97 252.76,775.18 253.92,778.30 C255.08,781.42 255.84,772.03 257.40,773.60 C258.96,775.17 260.75,780.67 263.28,787.70 C265.80,794.73 269.81,807.22 272.53,815.80 C275.25,824.38 277.46,831.20 279.60,839.20 C281.74,847.20 283.83,861.85 285.37,863.80 C286.92,865.75 286.52,852.67 288.86,850.90 C291.20,849.13 296.69,850.87 299.41,853.20 C302.13,855.53 303.06,859.43 305.18,864.90 C307.31,870.37 309.81,884.63 312.15,886.00 C314.49,887.37 317.28,874.27 319.22,873.10 C321.16,871.93 322.45,878.60 323.80,879.00 C325.14,879.40 325.34,873.17 327.28,875.50 C329.22,877.83 332.32,891.25 335.44,893.00 C338.56,894.75 342.49,885.80 345.99,886.00 C349.50,886.20 352.96,897.32 356.45,894.20 C359.93,891.08 363.93,871.00 366.90,867.30 C369.87,863.60 371.73,869.27 374.26,872.00 C376.80,874.73 380.29,881.35 382.13,883.70 C383.97,886.05 383.60,884.03 385.31,886.10 C387.02,888.17 389.31,899.88 392.38,896.10 C395.45,892.32 399.95,875.50 403.73,863.40 C407.51,851.30 411.06,837.73 415.08,823.50 C419.09,809.27 424.28,789.85 427.82,778.00 C431.35,766.15 434.16,751.93 436.28,752.40 C438.40,752.87 439.00,769.18 440.56,780.80 C442.12,792.42 443.98,819.73 445.64,822.10 C447.30,824.47 448.76,806.15 450.51,795.00 C452.27,783.85 454.06,767.52 456.19,755.20 C458.31,742.88 460.67,728.47 463.26,721.10 C465.84,713.73 468.41,710.73 471.72,710.97 C475.02,711.21 479.76,719.71 483.06,722.52 C486.37,725.33 488.92,725.77 491.53,727.81 C494.13,729.86 496.49,731.71 498.69,734.76 C500.90,737.81 502.94,740.08 504.76,746.11 C506.59,752.13 508.02,760.66 509.64,770.92 C511.27,781.19 513.31,799.95 514.52,807.70 C515.73,815.45 515.90,819.43 516.91,817.40 C517.92,815.37 519.16,809.33 520.59,795.50 C522.02,781.67 523.84,749.48 525.47,734.40 C527.09,719.32 528.12,713.15 530.35,705.00 C532.57,696.85 535.37,691.60 538.81,685.50 C542.24,679.40 546.85,673.07 550.95,668.40 C555.05,663.73 560.74,658.90 563.39,657.50 C566.05,656.10 565.72,660.67 566.88,660.00 C568.04,659.33 569.12,654.92 570.36,653.50 C571.61,652.08 571.91,651.45 574.34,651.50 C576.78,651.55 580.78,652.62 585.00,653.80 C589.21,654.98 595.98,658.60 599.63,658.60 C603.28,658.60 602.98,658.15 606.89,653.80 C610.81,649.45 618.09,639.13 623.12,632.50 C628.15,625.87 632.24,620.25 637.06,614.00 C641.87,607.75 649.50,598.17 651.99,595.00" stroke="#f2c2c4" stroke-width="2.4"/>
<path d="M124.65,516.00 C125.12,518.17 126.50,522.53 127.45,529.00 C128.40,535.47 129.56,544.63 130.34,554.80 C131.12,564.97 131.57,578.82 132.14,590.00 C132.70,601.18 133.24,620.23 133.73,621.90 C134.23,623.57 134.68,607.45 135.13,600.00 C135.58,592.55 135.84,584.20 136.43,577.20 C137.01,570.20 137.69,563.23 138.62,558.00 C139.55,552.77 140.33,548.77 142.01,545.80 C143.69,542.83 146.65,541.13 148.69,540.20 C150.74,539.27 152.05,538.15 154.28,540.20 C156.51,542.25 160.20,548.95 162.06,552.50 C163.92,556.05 164.34,559.45 165.45,561.50 C166.56,563.55 167.44,562.57 168.74,564.80 C170.04,567.03 171.73,571.72 173.23,574.90 C174.72,578.08 175.85,581.28 177.72,583.90 C179.58,586.52 182.17,587.62 184.40,590.60 C186.63,593.58 189.40,598.82 191.08,601.80 C192.76,604.78 193.34,602.90 194.47,608.50 C195.60,614.10 197.11,626.45 197.86,635.40 C198.61,644.35 198.53,655.68 198.96,662.20 C199.39,668.72 199.72,675.98 200.46,674.50 C201.19,673.02 202.12,658.15 203.35,653.30 C204.58,648.45 206.16,645.03 207.84,645.40 C209.51,645.77 211.92,652.52 213.42,655.50 C214.92,658.48 215.13,659.57 216.81,663.30 C218.49,667.03 221.90,674.12 223.49,677.90 C225.09,681.68 225.42,680.40 226.39,686.00 C227.35,691.60 228.48,709.83 229.28,711.50 C230.08,713.17 230.09,696.57 231.17,696.00 C232.25,695.43 234.03,701.80 235.76,708.10 C237.49,714.40 240.18,725.62 241.55,733.80 C242.91,741.98 242.96,754.85 243.94,757.20 C244.92,759.55 246.27,748.28 247.43,747.90 C248.59,747.52 249.76,749.83 250.92,754.90 C252.08,759.97 253.25,775.18 254.41,778.30 C255.57,781.42 256.34,772.03 257.90,773.60 C259.46,775.17 261.26,780.67 263.79,787.70 C266.31,794.73 270.33,807.22 273.06,815.80 C275.79,824.38 278.00,831.20 280.14,839.20 C282.29,847.20 284.38,861.85 285.93,863.80 C287.47,865.75 287.07,852.67 289.42,850.90 C291.76,849.13 297.26,850.87 299.99,853.20 C302.71,855.53 303.65,859.43 305.77,864.90 C307.90,870.37 310.41,884.63 312.75,886.00 C315.10,887.37 317.89,874.27 319.84,873.10 C321.78,871.93 323.08,878.60 324.42,879.00 C325.77,879.40 325.97,873.17 327.91,875.50 C329.86,877.83 332.97,891.25 336.09,893.00 C339.22,894.75 343.16,885.80 346.66,886.00 C350.17,886.20 353.64,897.32 357.14,894.20 C360.63,891.08 364.63,871.00 367.61,867.30 C370.58,863.60 372.44,869.27 374.99,872.00 C377.53,874.73 381.02,881.35 382.87,883.70 C384.71,886.05 384.35,884.03 386.06,886.10 C387.77,888.17 390.06,899.88 393.14,896.10 C396.21,892.32 400.72,875.50 404.51,863.40 C408.30,851.30 411.86,837.73 415.88,823.50 C419.90,809.27 425.10,789.85 428.64,778.00 C432.18,766.15 434.99,751.93 437.12,752.40 C439.25,752.87 439.85,769.18 441.41,780.80 C442.97,792.42 444.83,819.73 446.50,822.10 C448.16,824.47 449.62,806.15 451.38,795.00 C453.15,783.85 454.94,767.52 457.07,755.20 C459.20,742.88 461.56,728.46 464.15,721.10 C466.74,713.74 469.32,710.67 472.63,711.06 C475.93,711.45 480.69,720.45 484.00,723.44 C487.30,726.43 489.86,726.98 492.47,729.00 C495.08,731.03 497.44,732.68 499.65,735.59 C501.86,738.49 503.91,740.54 505.74,746.44 C507.57,752.33 509.00,760.76 510.62,770.97 C512.25,781.18 514.30,799.96 515.51,807.70 C516.72,815.44 516.89,819.43 517.90,817.40 C518.92,815.37 520.17,809.33 521.60,795.50 C523.02,781.67 524.85,749.48 526.48,734.40 C528.11,719.32 529.14,713.15 531.37,705.00 C533.60,696.85 536.41,691.60 539.85,685.50 C543.29,679.40 547.91,673.07 552.01,668.40 C556.12,663.73 561.82,658.90 564.48,657.50 C567.14,656.10 566.81,660.67 567.97,660.00 C569.13,659.33 570.21,654.92 571.46,653.50 C572.71,652.08 573.01,651.45 575.45,651.50 C577.89,651.55 581.90,652.62 586.12,653.80 C590.34,654.98 597.13,658.60 600.78,658.60 C604.44,658.60 604.14,658.15 608.06,653.80 C611.99,649.45 619.28,639.13 624.32,632.50 C629.36,625.87 633.46,620.25 638.28,614.00 C643.10,607.75 650.75,598.17 653.24,595.00" stroke="#f3a0a6" stroke-width="2.4"/>
<path d="M124.90,516.00 C125.37,518.17 126.75,522.53 127.70,529.00 C128.65,535.47 129.82,544.63 130.60,554.80 C131.38,564.97 131.83,578.82 132.40,590.00 C132.96,601.18 133.50,620.23 134.00,621.90 C134.49,623.57 134.94,607.45 135.39,600.00 C135.84,592.55 136.11,584.20 136.69,577.20 C137.28,570.20 137.96,563.23 138.89,558.00 C139.82,552.77 140.61,548.77 142.29,545.80 C143.97,542.83 146.94,541.13 148.98,540.20 C151.03,539.27 152.35,538.15 154.58,540.20 C156.81,542.25 160.51,548.95 162.37,552.50 C164.24,556.05 164.66,559.45 165.77,561.50 C166.89,563.55 167.77,562.57 169.07,564.80 C170.37,567.03 172.07,571.72 173.57,574.90 C175.06,578.08 176.20,581.28 178.06,583.90 C179.93,586.52 182.52,587.62 184.76,590.60 C186.99,593.58 189.77,598.82 191.45,601.80 C193.13,604.78 193.72,602.90 194.85,608.50 C195.98,614.10 197.50,626.45 198.25,635.40 C199.00,644.35 198.91,655.68 199.35,662.20 C199.78,668.72 200.11,675.98 200.84,674.50 C201.58,673.02 202.51,658.15 203.74,653.30 C204.97,648.45 206.56,645.03 208.24,645.40 C209.92,645.77 212.34,652.52 213.83,655.50 C215.33,658.48 215.55,659.57 217.23,663.30 C218.91,667.03 222.33,674.12 223.93,677.90 C225.53,681.68 225.86,680.40 226.82,686.00 C227.79,691.60 228.92,709.83 229.72,711.50 C230.52,713.17 230.54,696.57 231.62,696.00 C232.70,695.43 234.49,701.80 236.22,708.10 C237.95,714.40 240.65,725.62 242.01,733.80 C243.38,741.98 243.43,754.85 244.41,757.20 C245.39,759.55 246.74,748.28 247.91,747.90 C249.07,747.52 250.24,749.83 251.41,754.90 C252.57,759.97 253.74,775.18 254.90,778.30 C256.07,781.42 256.83,772.03 258.40,773.60 C259.97,775.17 261.76,780.67 264.30,787.70 C266.83,794.73 270.86,807.22 273.59,815.80 C276.32,824.38 278.53,831.20 280.68,839.20 C282.83,847.20 284.93,861.85 286.48,863.80 C288.03,865.75 287.63,852.67 289.98,850.90 C292.32,849.13 297.84,850.87 300.57,853.20 C303.30,855.53 304.23,859.43 306.36,864.90 C308.50,870.37 311.01,884.63 313.36,886.00 C315.71,887.37 318.50,874.27 320.45,873.10 C322.40,871.93 323.70,878.60 325.05,879.00 C326.40,879.40 326.60,873.17 328.55,875.50 C330.50,877.83 333.61,891.25 336.74,893.00 C339.87,894.75 343.82,885.80 347.33,886.00 C350.85,886.20 354.33,897.32 357.82,894.20 C361.32,891.08 365.34,871.00 368.32,867.30 C371.30,863.60 373.16,869.27 375.71,872.00 C378.26,874.73 381.76,881.35 383.60,883.70 C385.45,886.05 385.09,884.03 386.80,886.10 C388.52,888.17 390.82,899.88 393.90,896.10 C396.98,892.32 401.49,875.50 405.29,863.40 C409.09,851.30 412.65,837.73 416.68,823.50 C420.71,809.27 425.92,789.85 429.47,778.00 C433.02,766.15 435.83,751.93 437.96,752.40 C440.09,752.87 440.69,769.18 442.26,780.80 C443.83,792.42 445.69,819.73 447.36,822.10 C449.02,824.47 450.49,806.15 452.25,795.00 C454.02,783.85 455.82,767.52 457.95,755.20 C460.08,742.88 462.44,728.44 465.04,721.10 C467.64,713.76 470.22,710.60 473.54,711.14 C476.85,711.69 481.61,721.19 484.93,724.36 C488.24,727.54 490.81,728.19 493.42,730.20 C496.04,732.20 498.40,733.65 500.62,736.41 C502.83,739.17 504.88,741.00 506.71,746.76 C508.54,752.53 509.97,760.87 511.61,771.03 C513.24,781.18 515.29,799.97 516.50,807.70 C517.72,815.43 517.89,819.43 518.90,817.40 C519.92,815.37 521.17,809.33 522.60,795.50 C524.03,781.67 525.86,749.48 527.49,734.40 C529.13,719.32 530.16,713.15 532.39,705.00 C534.62,696.85 537.44,691.60 540.88,685.50 C544.33,679.40 548.96,673.07 553.08,668.40 C557.19,663.73 562.90,658.90 565.57,657.50 C568.23,656.10 567.90,660.67 569.06,660.00 C570.23,659.33 571.31,654.92 572.56,653.50 C573.81,652.08 574.11,651.45 576.56,651.50 C579.01,651.55 583.02,652.62 587.25,653.80 C591.48,654.98 598.27,658.60 601.94,658.60 C605.60,658.60 605.30,658.15 609.23,653.80 C613.16,649.45 620.47,639.13 625.52,632.50 C630.57,625.87 634.68,620.25 639.51,614.00 C644.34,607.75 652.00,598.17 654.50,595.00" stroke="#ef7379" stroke-width="2.4"/>
<path d="M125.15,516.00 C125.62,518.17 127.00,522.53 127.95,529.00 C128.90,535.47 130.07,544.63 130.85,554.80 C131.64,564.97 132.09,578.82 132.66,590.00 C133.22,601.18 133.76,620.23 134.26,621.90 C134.76,623.57 135.21,607.45 135.66,600.00 C136.11,592.55 136.38,584.20 136.96,577.20 C137.54,570.20 138.23,563.23 139.16,558.00 C140.10,552.77 140.88,548.77 142.57,545.80 C144.25,542.83 147.22,541.13 149.27,540.20 C151.33,539.27 152.64,538.15 154.88,540.20 C157.12,542.25 160.82,548.95 162.69,552.50 C164.56,556.05 164.98,559.45 166.09,561.50 C167.21,563.55 168.10,562.57 169.40,564.80 C170.70,567.03 172.40,571.72 173.90,574.90 C175.40,578.08 176.54,581.28 178.41,583.90 C180.28,586.52 182.88,587.62 185.12,590.60 C187.35,593.58 190.14,598.82 191.82,601.80 C193.51,604.78 194.09,602.90 195.23,608.50 C196.36,614.10 197.88,626.45 198.63,635.40 C199.38,644.35 199.30,655.68 199.73,662.20 C200.17,668.72 200.50,675.98 201.23,674.50 C201.97,673.02 202.90,658.15 204.14,653.30 C205.37,648.45 206.96,645.03 208.64,645.40 C210.33,645.77 212.75,652.52 214.25,655.50 C215.75,658.48 215.97,659.57 217.65,663.30 C219.34,667.03 222.76,674.12 224.36,677.90 C225.96,681.68 226.30,680.40 227.26,686.00 C228.23,691.60 229.37,709.83 230.17,711.50 C230.97,713.17 230.98,696.57 232.07,696.00 C233.15,695.43 234.94,701.80 236.67,708.10 C238.41,714.40 241.11,725.62 242.48,733.80 C243.85,741.98 243.90,754.85 244.88,757.20 C245.87,759.55 247.22,748.28 248.39,747.90 C249.56,747.52 250.72,749.83 251.89,754.90 C253.06,759.97 254.23,775.18 255.40,778.30 C256.56,781.42 257.33,772.03 258.90,773.60 C260.47,775.17 262.27,780.67 264.81,787.70 C267.34,794.73 271.38,807.22 274.12,815.80 C276.85,824.38 279.07,831.20 281.23,839.20 C283.38,847.20 285.48,861.85 287.03,863.80 C288.58,865.75 288.18,852.67 290.54,850.90 C292.89,849.13 298.41,850.87 301.15,853.20 C303.88,855.53 304.82,859.43 306.95,864.90 C309.09,870.37 311.61,884.63 313.96,886.00 C316.32,887.37 319.12,874.27 321.07,873.10 C323.02,871.93 324.32,878.60 325.68,879.00 C327.03,879.40 327.23,873.17 329.18,875.50 C331.13,877.83 334.25,891.25 337.39,893.00 C340.53,894.75 344.48,885.80 348.00,886.00 C351.52,886.20 355.01,897.32 358.51,894.20 C362.02,891.08 366.04,871.00 369.03,867.30 C372.01,863.60 373.88,869.27 376.43,872.00 C378.99,874.73 382.49,881.35 384.34,883.70 C386.20,886.05 385.83,884.03 387.55,886.10 C389.27,888.17 391.57,899.88 394.65,896.10 C397.74,892.32 402.26,875.50 406.07,863.40 C409.87,851.30 413.44,837.73 417.48,823.50 C421.52,809.27 426.74,789.85 430.30,778.00 C433.85,766.15 436.67,751.93 438.81,752.40 C440.94,752.87 441.54,769.18 443.11,780.80 C444.68,792.42 446.55,819.73 448.22,822.10 C449.88,824.47 451.35,806.15 453.12,795.00 C454.89,783.85 456.69,767.52 458.83,755.20 C460.96,742.88 463.33,728.43 465.94,721.10 C468.54,713.77 471.13,710.53 474.45,711.23 C477.77,711.93 482.54,721.92 485.86,725.28 C489.18,728.64 491.75,729.39 494.37,731.39 C496.99,733.38 499.36,734.62 501.58,737.24 C503.80,739.86 505.85,741.45 507.68,747.09 C509.52,752.73 510.95,760.98 512.59,771.08 C514.22,781.18 516.28,799.98 517.50,807.70 C518.71,815.42 518.88,819.43 519.90,817.40 C520.92,815.37 522.17,809.33 523.60,795.50 C525.04,781.67 526.87,749.48 528.51,734.40 C530.14,719.32 531.18,713.15 533.41,705.00 C535.65,696.85 538.47,691.60 541.92,685.50 C545.38,679.40 550.02,673.07 554.14,668.40 C558.26,663.73 563.98,658.90 566.65,657.50 C569.32,656.10 568.99,660.67 570.16,660.00 C571.32,659.33 572.41,654.92 573.66,653.50 C574.91,652.08 575.21,651.45 577.66,651.50 C580.12,651.55 584.14,652.62 588.38,653.80 C592.61,654.98 599.42,658.60 603.09,658.60 C606.76,658.60 606.46,658.15 610.40,653.80 C614.34,649.45 621.66,639.13 626.72,632.50 C631.78,625.87 635.90,620.25 640.74,614.00 C645.57,607.75 653.25,598.17 655.75,595.00" stroke="#e5474f" stroke-width="2.4"/>
<path d="M125.40,516.00 C125.87,518.17 127.25,522.53 128.20,529.00 C129.15,535.47 130.32,544.63 131.11,554.80 C131.89,564.97 132.35,578.82 132.91,590.00 C133.48,601.18 134.02,620.23 134.52,621.90 C135.02,623.57 135.47,607.45 135.92,600.00 C136.37,592.55 136.64,584.20 137.23,577.20 C137.81,570.20 138.50,563.23 139.43,558.00 C140.37,552.77 141.16,548.77 142.84,545.80 C144.53,542.83 147.51,541.13 149.56,540.20 C151.62,539.27 152.94,538.15 155.18,540.20 C157.42,542.25 161.13,548.95 163.01,552.50 C164.88,556.05 165.30,559.45 166.42,561.50 C167.54,563.55 168.42,562.57 169.73,564.80 C171.03,567.03 172.73,571.72 174.24,574.90 C175.74,578.08 176.88,581.28 178.75,583.90 C180.63,586.52 183.23,587.62 185.47,590.60 C187.71,593.58 190.51,598.82 192.19,601.80 C193.88,604.78 194.47,602.90 195.60,608.50 C196.74,614.10 198.26,626.45 199.01,635.40 C199.77,644.35 199.68,655.68 200.12,662.20 C200.55,668.72 200.89,675.98 201.62,674.50 C202.36,673.02 203.29,658.15 204.53,653.30 C205.77,648.45 207.36,645.03 209.05,645.40 C210.73,645.77 213.16,652.52 214.66,655.50 C216.17,658.48 216.38,659.57 218.07,663.30 C219.76,667.03 223.19,674.12 224.79,677.90 C226.40,681.68 226.73,680.40 227.70,686.00 C228.67,691.60 229.81,709.83 230.61,711.50 C231.41,713.17 231.43,696.57 232.52,696.00 C233.60,695.43 235.39,701.80 237.13,708.10 C238.87,714.40 241.58,725.62 242.95,733.80 C244.32,741.98 244.37,754.85 245.36,757.20 C246.34,759.55 247.70,748.28 248.87,747.90 C250.04,747.52 251.21,749.83 252.38,754.90 C253.55,759.97 254.72,775.18 255.89,778.30 C257.06,781.42 257.83,772.03 259.40,773.60 C260.97,775.17 262.78,780.67 265.32,787.70 C267.86,794.73 271.90,807.22 274.65,815.80 C277.39,824.38 279.61,831.20 281.77,839.20 C283.92,847.20 286.03,861.85 287.58,863.80 C289.14,865.75 288.74,852.67 291.10,850.90 C293.45,849.13 298.99,850.87 301.73,853.20 C304.47,855.53 305.41,859.43 307.55,864.90 C309.68,870.37 312.21,884.63 314.57,886.00 C316.92,887.37 319.73,874.27 321.69,873.10 C323.64,871.93 324.95,878.60 326.30,879.00 C327.66,879.40 327.86,873.17 329.81,875.50 C331.77,877.83 334.90,891.25 338.04,893.00 C341.18,894.75 345.14,885.80 348.67,886.00 C352.20,886.20 355.69,897.32 359.20,894.20 C362.71,891.08 366.74,871.00 369.73,867.30 C372.73,863.60 374.60,869.27 377.16,872.00 C379.71,874.73 383.23,881.35 385.08,883.70 C386.94,886.05 386.57,884.03 388.29,886.10 C390.01,888.17 392.32,899.88 395.41,896.10 C398.51,892.32 403.04,875.50 406.85,863.40 C410.66,851.30 414.24,837.73 418.28,823.50 C422.33,809.27 427.56,789.85 431.12,778.00 C434.68,766.15 437.51,751.93 439.65,752.40 C441.79,752.87 442.39,769.18 443.96,780.80 C445.53,792.42 447.40,819.73 449.08,822.10 C450.75,824.47 452.22,806.15 453.99,795.00 C455.76,783.85 457.57,767.52 459.71,755.20 C461.85,742.88 464.22,728.41 466.83,721.10 C469.44,713.79 472.03,710.47 475.36,711.32 C478.68,712.17 483.46,722.66 486.79,726.20 C490.12,729.75 492.69,730.60 495.32,732.58 C497.94,734.55 500.32,735.59 502.54,738.06 C504.76,740.54 506.82,741.91 508.66,747.42 C510.50,752.93 511.93,761.08 513.57,771.13 C515.21,781.18 517.27,799.99 518.49,807.70 C519.71,815.41 519.87,819.43 520.89,817.40 C521.91,815.37 523.17,809.33 524.61,795.50 C526.04,781.67 527.88,749.48 529.52,734.40 C531.16,719.32 532.20,713.15 534.44,705.00 C536.68,696.85 539.50,691.60 542.96,685.50 C546.42,679.40 551.07,673.07 555.20,668.40 C559.33,663.73 565.06,658.90 567.74,657.50 C570.41,656.10 570.08,660.67 571.25,660.00 C572.42,659.33 573.50,654.92 574.76,653.50 C576.01,652.08 576.31,651.45 578.77,651.50 C581.23,651.55 585.26,652.62 589.50,653.80 C593.75,654.98 600.57,658.60 604.25,658.60 C607.93,658.60 607.62,658.15 611.57,653.80 C615.52,649.45 622.85,639.13 627.92,632.50 C632.99,625.87 637.11,620.25 641.96,614.00 C646.81,607.75 654.50,598.17 657.01,595.00" stroke="#e32730" stroke-width="2.4"/>
</g>
<g clip-path="url(#cB)" fill="none" stroke-linejoin="round">
<line x1="806" y1="23.8" x2="1304" y2="23.8" stroke="#111" stroke-width="2.4"/>
<path d="M806.00,27.00 L807.00,27.01 L808.00,27.01 L809.00,27.02 L810.00,27.02 L811.00,27.03 L812.00,27.04 L813.00,27.04 L814.00,27.05 L815.00,27.06 L816.00,27.06 L817.00,27.07 L818.00,27.08 L819.00,27.09 L820.00,27.09 L821.00,27.10 L822.00,27.11 L823.00,27.12 L824.00,27.13 L825.00,27.13 L826.00,27.14 L827.00,27.15 L828.00,27.16 L829.00,27.17 L830.00,27.18 L831.00,27.19 L832.00,27.20 L833.00,27.21 L834.00,27.22 L835.00,27.24 L836.00,27.25 L837.00,27.26 L838.00,27.27 L839.00,27.28 L840.00,27.30 L841.00,27.31 L842.00,27.32 L843.00,27.34 L844.00,27.35 L845.00,27.37 L846.00,27.38 L847.00,27.40 L848.00,27.41 L849.00,27.43 L850.00,27.44 L851.00,27.46 L852.00,27.48 L853.00,27.50 L854.00,27.51 L855.00,27.53 L856.00,27.55 L857.00,27.57 L858.00,27.59 L859.00,27.61 L860.00,27.63 L861.00,27.66 L862.00,27.68 L863.00,27.70 L864.00,27.72 L865.00,27.75 L866.00,27.77 L867.00,27.80 L868.00,27.83 L869.00,27.85 L870.00,27.88 L871.00,27.91 L872.00,27.94 L873.00,27.97 L874.00,28.00 L875.00,28.03 L876.00,28.07 L877.00,28.10 L878.00,28.14 L879.00,28.17 L880.00,28.21 L881.00,28.25 L882.00,28.29 L883.00,28.33 L884.00,28.37 L885.00,28.42 L886.00,28.46 L887.00,28.51 L888.00,28.56 L889.00,28.61 L890.00,28.66 L891.00,28.71 L892.00,28.77 L893.00,28.82 L894.00,28.88 L895.00,28.94 L896.00,29.00 L897.00,29.07 L898.00,29.13 L899.00,29.20 L900.00,29.28 L901.00,29.35 L902.00,29.43 L903.00,29.51 L904.00,29.59 L905.00,29.68 L906.00,29.76 L907.00,29.86 L908.00,29.95 L909.00,30.05 L910.00,30.16 L911.00,30.26 L912.00,30.38 L913.00,30.49 L914.00,30.61 L915.00,30.74 L916.00,30.87 L917.00,31.01 L918.00,31.15 L919.00,31.30 L920.00,31.45 L921.00,31.62 L922.00,31.78 L923.00,31.96 L924.00,32.15 L925.00,32.34 L926.00,32.54 L927.00,32.75 L928.00,32.97 L929.00,33.20 L930.00,33.44 L931.00,33.69 L932.00,33.95 L933.00,34.23 L934.00,34.52 L935.00,34.82 L936.00,35.14 L937.00,35.47 L938.00,35.81 L939.00,36.18 L940.00,36.56 L941.00,36.95 L942.00,37.37 L943.00,37.80 L944.00,38.26 L945.00,38.73 L946.00,39.22 L947.00,39.73 L948.00,40.27 L949.00,40.82 L950.00,41.39 L951.00,41.98 L952.00,42.59 L953.00,43.21 L954.00,43.85 L955.00,44.50 L956.00,45.15 L957.00,45.82 L958.00,46.48 L959.00,47.14 L960.00,47.79 L961.00,48.42 L962.00,49.04 L963.00,49.62 L964.00,50.17 L965.00,50.68 L966.00,51.13 L967.00,51.53 L968.00,51.87 L969.00,52.14 L970.00,52.34 L971.00,52.46 L972.00,52.50 L973.00,52.47 L974.00,52.36 L975.00,52.18 L976.00,51.93 L977.00,51.62 L978.00,51.25 L979.00,50.83 L980.00,50.36 L981.00,49.86 L982.00,49.33 L983.00,48.77 L984.00,48.20 L985.00,47.62 L986.00,47.04 L987.00,46.46 L988.00,45.88 L989.00,45.31 L990.00,44.75 L991.00,44.21 L992.00,43.69 L993.00,43.18 L994.00,42.70 L995.00,42.23 L996.00,41.79 L997.00,41.37 L998.00,40.97 L999.00,40.60 L1000.00,40.24 L1001.00,39.91 L1002.00,39.60 L1003.00,39.31 L1004.00,39.04 L1005.00,38.80 L1006.00,38.57 L1007.00,38.36 L1008.00,38.17 L1009.00,37.99 L1010.00,37.84 L1011.00,37.70 L1012.00,37.58 L1013.00,37.48 L1014.00,37.39 L1015.00,37.31 L1016.00,37.26 L1017.00,37.21 L1018.00,37.18 L1019.00,37.17 L1020.00,37.17 L1021.00,37.18 L1022.00,37.21 L1023.00,37.25 L1024.00,37.30 L1025.00,37.36 L1026.00,37.44 L1027.00,37.52 L1028.00,37.62 L1029.00,37.73 L1030.00,37.85 L1031.00,37.98 L1032.00,38.12 L1033.00,38.27 L1034.00,38.43 L1035.00,38.60 L1036.00,38.77 L1037.00,38.95 L1038.00,39.14 L1039.00,39.33 L1040.00,39.53 L1041.00,39.73 L1042.00,39.93 L1043.00,40.13 L1044.00,40.33 L1045.00,40.52 L1046.00,40.71 L1047.00,40.90 L1048.00,41.08 L1049.00,41.25 L1050.00,41.40 L1051.00,41.55 L1052.00,41.68 L1053.00,41.79 L1054.00,41.89 L1055.00,41.97 L1056.00,42.02 L1057.00,42.06 L1058.00,42.07 L1059.00,42.06 L1060.00,42.03 L1061.00,41.98 L1062.00,41.90 L1063.00,41.80 L1064.00,41.67 L1065.00,41.52 L1066.00,41.36 L1067.00,41.17 L1068.00,40.97 L1069.00,40.75 L1070.00,40.51 L1071.00,40.26 L1072.00,40.00 L1073.00,39.73 L1074.00,39.45 L1075.00,39.16 L1076.00,38.86 L1077.00,38.57 L1078.00,38.27 L1079.00,37.96 L1080.00,37.66 L1081.00,37.36 L1082.00,37.06 L1083.00,36.76 L1084.00,36.46 L1085.00,36.17 L1086.00,35.89 L1087.00,35.60 L1088.00,35.33 L1089.00,35.06 L1090.00,34.79 L1091.00,34.53 L1092.00,34.28 L1093.00,34.03 L1094.00,33.79 L1095.00,33.56 L1096.00,33.33 L1097.00,33.11 L1098.00,32.90 L1099.00,32.69 L1100.00,32.49 L1101.00,32.30 L1102.00,32.11 L1103.00,31.92 L1104.00,31.75 L1105.00,31.57 L1106.00,31.41 L1107.00,31.25 L1108.00,31.09 L1109.00,30.94 L1110.00,30.79 L1111.00,30.65 L1112.00,30.51 L1113.00,30.38 L1114.00,30.25 L1115.00,30.13 L1116.00,30.01 L1117.00,29.89 L1118.00,29.78 L1119.00,29.67 L1120.00,29.56 L1121.00,29.46 L1122.00,29.36 L1123.00,29.26 L1124.00,29.17 L1125.00,29.07 L1126.00,28.99 L1127.00,28.90 L1128.00,28.82 L1129.00,28.74 L1130.00,28.66 L1131.00,28.58 L1132.00,28.51 L1133.00,28.43 L1134.00,28.36 L1135.00,28.30 L1136.00,28.23 L1137.00,28.16 L1138.00,28.10 L1139.00,28.04 L1140.00,27.98 L1141.00,27.92 L1142.00,27.87 L1143.00,27.81 L1144.00,27.76 L1145.00,27.70 L1146.00,27.65 L1147.00,27.60 L1148.00,27.56 L1149.00,27.51 L1150.00,27.46 L1151.00,27.42 L1152.00,27.37 L1153.00,27.33 L1154.00,27.29 L1155.00,27.25 L1156.00,27.21 L1157.00,27.17 L1158.00,27.13 L1159.00,27.09 L1160.00,27.06 L1161.00,27.02 L1162.00,26.99 L1163.00,26.95 L1164.00,26.92 L1165.00,26.89 L1166.00,26.85 L1167.00,26.82 L1168.00,26.79 L1169.00,26.76 L1170.00,26.73 L1171.00,26.70 L1172.00,26.67 L1173.00,26.65 L1174.00,26.62 L1175.00,26.59 L1176.00,26.57 L1177.00,26.54 L1178.00,26.51 L1179.00,26.49 L1180.00,26.47 L1181.00,26.44 L1182.00,26.42 L1183.00,26.39 L1184.00,26.37 L1185.00,26.35 L1186.00,26.33 L1187.00,26.31 L1188.00,26.29 L1189.00,26.26 L1190.00,26.24 L1191.00,26.22 L1192.00,26.20 L1193.00,26.18 L1194.00,26.17 L1195.00,26.15 L1196.00,26.13 L1197.00,26.11 L1198.00,26.09 L1199.00,26.07 L1200.00,26.06 L1201.00,26.04 L1202.00,26.02 L1203.00,26.01 L1204.00,25.99 L1205.00,25.97 L1206.00,25.96 L1207.00,25.94 L1208.00,25.93 L1209.00,25.91 L1210.00,25.90 L1211.00,25.88 L1212.00,25.87 L1213.00,25.85 L1214.00,25.84 L1215.00,25.82 L1216.00,25.81 L1217.00,25.80 L1218.00,25.78 L1219.00,25.77 L1220.00,25.76 L1221.00,25.74 L1222.00,25.73 L1223.00,25.72 L1224.00,25.70 L1225.00,25.69 L1226.00,25.68 L1227.00,25.67 L1228.00,25.65 L1229.00,25.64 L1230.00,25.63 L1231.00,25.62 L1232.00,25.61 L1233.00,25.60 L1234.00,25.59 L1235.00,25.57 L1236.00,25.56 L1237.00,25.55 L1238.00,25.54 L1239.00,25.53 L1240.00,25.52 L1241.00,25.51 L1242.00,25.50 L1243.00,25.49 L1244.00,25.48 L1245.00,25.47 L1246.00,25.46 L1247.00,25.45 L1248.00,25.44 L1249.00,25.43 L1250.00,25.42 L1251.00,25.41 L1252.00,25.40 L1253.00,25.39 L1254.00,25.38 L1255.00,25.37 L1256.00,25.36 L1257.00,25.36 L1258.00,25.35 L1259.00,25.34 L1260.00,25.33 L1261.00,25.32 L1262.00,25.31 L1263.00,25.30 L1264.00,25.30 L1265.00,25.29 L1266.00,25.28 L1267.00,25.27 L1268.00,25.26 L1269.00,25.25 L1270.00,25.25 L1271.00,25.24 L1272.00,25.23 L1273.00,25.22 L1274.00,25.21 L1275.00,25.21 L1276.00,25.20 L1277.00,25.19 L1278.00,25.18 L1279.00,25.18 L1280.00,25.17 L1281.00,25.16 L1282.00,25.15 L1283.00,25.15 L1284.00,25.14 L1285.00,25.13 L1286.00,25.12 L1287.00,25.12 L1288.00,25.11 L1289.00,25.10 L1290.00,25.10 L1291.00,25.09 L1292.00,25.08 L1293.00,25.08 L1294.00,25.07 L1295.00,25.06 L1296.00,25.06 L1297.00,25.05 L1298.00,25.04 L1299.00,25.04 L1300.00,25.03 L1301.00,25.02 L1302.00,25.02 L1303.00,25.01 L1304.00,25.00" stroke="#b6cbe0" stroke-width="2.4"/>
<path d="M806.00,27.69 L807.00,27.70 L808.00,27.72 L809.00,27.73 L810.00,27.74 L811.00,27.76 L812.00,27.77 L813.00,27.79 L814.00,27.80 L815.00,27.82 L816.00,27.84 L817.00,27.85 L818.00,27.87 L819.00,27.89 L820.00,27.90 L821.00,27.92 L822.00,27.94 L823.00,27.96 L824.00,27.98 L825.00,28.00 L826.00,28.02 L827.00,28.04 L828.00,28.06 L829.00,28.08 L830.00,28.10 L831.00,28.12 L832.00,28.15 L833.00,28.17 L834.00,28.19 L835.00,28.22 L836.00,28.24 L837.00,28.27 L838.00,28.30 L839.00,28.32 L840.00,28.35 L841.00,28.38 L842.00,28.41 L843.00,28.44 L844.00,28.47 L845.00,28.50 L846.00,28.53 L847.00,28.56 L848.00,28.59 L849.00,28.63 L850.00,28.66 L851.00,28.70 L852.00,28.73 L853.00,28.77 L854.00,28.81 L855.00,28.85 L856.00,28.89 L857.00,28.93 L858.00,28.97 L859.00,29.01 L860.00,29.06 L861.00,29.10 L862.00,29.15 L863.00,29.20 L864.00,29.25 L865.00,29.30 L866.00,29.35 L867.00,29.40 L868.00,29.45 L869.00,29.51 L870.00,29.57 L871.00,29.63 L872.00,29.69 L873.00,29.75 L874.00,29.81 L875.00,29.88 L876.00,29.95 L877.00,30.01 L878.00,30.09 L879.00,30.16 L880.00,30.24 L881.00,30.31 L882.00,30.39 L883.00,30.48 L884.00,30.56 L885.00,30.65 L886.00,30.74 L887.00,30.83 L888.00,30.93 L889.00,31.03 L890.00,31.13 L891.00,31.23 L892.00,31.34 L893.00,31.45 L894.00,31.57 L895.00,31.69 L896.00,31.81 L897.00,31.94 L898.00,32.07 L899.00,32.21 L900.00,32.35 L901.00,32.50 L902.00,32.65 L903.00,32.81 L904.00,32.97 L905.00,33.14 L906.00,33.31 L907.00,33.49 L908.00,33.68 L909.00,33.88 L910.00,34.08 L911.00,34.29 L912.00,34.51 L913.00,34.74 L914.00,34.97 L915.00,35.22 L916.00,35.47 L917.00,35.74 L918.00,36.02 L919.00,36.30 L920.00,36.61 L921.00,36.92 L922.00,37.25 L923.00,37.59 L924.00,37.94 L925.00,38.31 L926.00,38.70 L927.00,39.11 L928.00,39.53 L929.00,39.97 L930.00,40.43 L931.00,40.92 L932.00,41.42 L933.00,41.95 L934.00,42.51 L935.00,43.08 L936.00,43.69 L937.00,44.32 L938.00,44.99 L939.00,45.68 L940.00,46.40 L941.00,47.16 L942.00,47.95 L943.00,48.78 L944.00,49.64 L945.00,50.54 L946.00,51.48 L947.00,52.45 L948.00,53.46 L949.00,54.51 L950.00,55.59 L951.00,56.71 L952.00,57.86 L953.00,59.04 L954.00,60.25 L955.00,61.48 L956.00,62.72 L957.00,63.98 L958.00,65.23 L959.00,66.48 L960.00,67.72 L961.00,68.92 L962.00,70.09 L963.00,71.20 L964.00,72.25 L965.00,73.22 L966.00,74.11 L967.00,74.88 L968.00,75.54 L969.00,76.08 L970.00,76.49 L971.00,76.75 L972.00,76.87 L973.00,76.85 L974.00,76.69 L975.00,76.40 L976.00,75.97 L977.00,75.43 L978.00,74.77 L979.00,74.02 L980.00,73.18 L981.00,72.27 L982.00,71.30 L983.00,70.29 L984.00,69.25 L985.00,68.18 L986.00,67.11 L987.00,66.03 L988.00,64.97 L989.00,63.92 L990.00,62.89 L991.00,61.88 L992.00,60.91 L993.00,59.97 L994.00,59.07 L995.00,58.21 L996.00,57.39 L997.00,56.62 L998.00,55.88 L999.00,55.19 L1000.00,54.53 L1001.00,53.92 L1002.00,53.35 L1003.00,52.83 L1004.00,52.34 L1005.00,51.89 L1006.00,51.47 L1007.00,51.10 L1008.00,50.76 L1009.00,50.45 L1010.00,50.18 L1011.00,49.94 L1012.00,49.74 L1013.00,49.57 L1014.00,49.42 L1015.00,49.31 L1016.00,49.22 L1017.00,49.17 L1018.00,49.14 L1019.00,49.14 L1020.00,49.16 L1021.00,49.22 L1022.00,49.29 L1023.00,49.39 L1024.00,49.52 L1025.00,49.67 L1026.00,49.84 L1027.00,50.03 L1028.00,50.25 L1029.00,50.48 L1030.00,50.74 L1031.00,51.01 L1032.00,51.30 L1033.00,51.61 L1034.00,51.94 L1035.00,52.28 L1036.00,52.63 L1037.00,53.00 L1038.00,53.37 L1039.00,53.75 L1040.00,54.14 L1041.00,54.53 L1042.00,54.93 L1043.00,55.32 L1044.00,55.71 L1045.00,56.10 L1046.00,56.47 L1047.00,56.84 L1048.00,57.19 L1049.00,57.52 L1050.00,57.83 L1051.00,58.12 L1052.00,58.38 L1053.00,58.61 L1054.00,58.81 L1055.00,58.97 L1056.00,59.10 L1057.00,59.19 L1058.00,59.23 L1059.00,59.24 L1060.00,59.20 L1061.00,59.12 L1062.00,58.99 L1063.00,58.82 L1064.00,58.61 L1065.00,58.36 L1066.00,58.07 L1067.00,57.74 L1068.00,57.38 L1069.00,56.98 L1070.00,56.55 L1071.00,56.09 L1072.00,55.61 L1073.00,55.10 L1074.00,54.58 L1075.00,54.03 L1076.00,53.48 L1077.00,52.91 L1078.00,52.33 L1079.00,51.75 L1080.00,51.16 L1081.00,50.57 L1082.00,49.98 L1083.00,49.39 L1084.00,48.80 L1085.00,48.22 L1086.00,47.65 L1087.00,47.08 L1088.00,46.52 L1089.00,45.97 L1090.00,45.43 L1091.00,44.91 L1092.00,44.39 L1093.00,43.88 L1094.00,43.38 L1095.00,42.90 L1096.00,42.43 L1097.00,41.97 L1098.00,41.52 L1099.00,41.09 L1100.00,40.66 L1101.00,40.25 L1102.00,39.85 L1103.00,39.46 L1104.00,39.09 L1105.00,38.72 L1106.00,38.37 L1107.00,38.02 L1108.00,37.69 L1109.00,37.36 L1110.00,37.05 L1111.00,36.74 L1112.00,36.45 L1113.00,36.16 L1114.00,35.88 L1115.00,35.61 L1116.00,35.35 L1117.00,35.10 L1118.00,34.85 L1119.00,34.62 L1120.00,34.38 L1121.00,34.16 L1122.00,33.94 L1123.00,33.73 L1124.00,33.53 L1125.00,33.33 L1126.00,33.13 L1127.00,32.95 L1128.00,32.76 L1129.00,32.59 L1130.00,32.42 L1131.00,32.25 L1132.00,32.09 L1133.00,31.93 L1134.00,31.77 L1135.00,31.63 L1136.00,31.48 L1137.00,31.34 L1138.00,31.20 L1139.00,31.07 L1140.00,30.94 L1141.00,30.81 L1142.00,30.69 L1143.00,30.57 L1144.00,30.45 L1145.00,30.34 L1146.00,30.23 L1147.00,30.12 L1148.00,30.01 L1149.00,29.91 L1150.00,29.81 L1151.00,29.71 L1152.00,29.62 L1153.00,29.52 L1154.00,29.43 L1155.00,29.34 L1156.00,29.26 L1157.00,29.17 L1158.00,29.09 L1159.00,29.01 L1160.00,28.93 L1161.00,28.85 L1162.00,28.78 L1163.00,28.70 L1164.00,28.63 L1165.00,28.56 L1166.00,28.49 L1167.00,28.42 L1168.00,28.36 L1169.00,28.29 L1170.00,28.23 L1171.00,28.17 L1172.00,28.10 L1173.00,28.04 L1174.00,27.99 L1175.00,27.93 L1176.00,27.87 L1177.00,27.82 L1178.00,27.76 L1179.00,27.71 L1180.00,27.66 L1181.00,27.61 L1182.00,27.56 L1183.00,27.51 L1184.00,27.46 L1185.00,27.41 L1186.00,27.37 L1187.00,27.32 L1188.00,27.28 L1189.00,27.23 L1190.00,27.19 L1191.00,27.15 L1192.00,27.11 L1193.00,27.07 L1194.00,27.03 L1195.00,26.99 L1196.00,26.95 L1197.00,26.91 L1198.00,26.87 L1199.00,26.84 L1200.00,26.80 L1201.00,26.76 L1202.00,26.73 L1203.00,26.69 L1204.00,26.66 L1205.00,26.63 L1206.00,26.59 L1207.00,26.56 L1208.00,26.53 L1209.00,26.50 L1210.00,26.47 L1211.00,26.43 L1212.00,26.40 L1213.00,26.38 L1214.00,26.35 L1215.00,26.32 L1216.00,26.29 L1217.00,26.26 L1218.00,26.23 L1219.00,26.21 L1220.00,26.18 L1221.00,26.15 L1222.00,26.13 L1223.00,26.10 L1224.00,26.08 L1225.00,26.05 L1226.00,26.03 L1227.00,26.00 L1228.00,25.98 L1229.00,25.95 L1230.00,25.93 L1231.00,25.91 L1232.00,25.88 L1233.00,25.86 L1234.00,25.84 L1235.00,25.82 L1236.00,25.79 L1237.00,25.77 L1238.00,25.75 L1239.00,25.73 L1240.00,25.71 L1241.00,25.69 L1242.00,25.67 L1243.00,25.65 L1244.00,25.63 L1245.00,25.61 L1246.00,25.59 L1247.00,25.57 L1248.00,25.55 L1249.00,25.53 L1250.00,25.51 L1251.00,25.50 L1252.00,25.48 L1253.00,25.46 L1254.00,25.44 L1255.00,25.42 L1256.00,25.41 L1257.00,25.39 L1258.00,25.37 L1259.00,25.36 L1260.00,25.34 L1261.00,25.32 L1262.00,25.31 L1263.00,25.29 L1264.00,25.27 L1265.00,25.26 L1266.00,25.24 L1267.00,25.23 L1268.00,25.21 L1269.00,25.20 L1270.00,25.18 L1271.00,25.16 L1272.00,25.15 L1273.00,25.13 L1274.00,25.12 L1275.00,25.11 L1276.00,25.09 L1277.00,25.08 L1278.00,25.06 L1279.00,25.05 L1280.00,25.03 L1281.00,25.02 L1282.00,25.01 L1283.00,24.99 L1284.00,24.98 L1285.00,24.97 L1286.00,24.95 L1287.00,24.94 L1288.00,24.93 L1289.00,24.91 L1290.00,24.90 L1291.00,24.89 L1292.00,24.88 L1293.00,24.86 L1294.00,24.85 L1295.00,24.84 L1296.00,24.83 L1297.00,24.81 L1298.00,24.80 L1299.00,24.79 L1300.00,24.78 L1301.00,24.77 L1302.00,24.76 L1303.00,24.74 L1304.00,24.73" stroke="#86a9cf" stroke-width="2.4"/>
<path d="M806.00,27.93 L807.00,27.95 L808.00,27.97 L809.00,27.99 L810.00,28.02 L811.00,28.04 L812.00,28.06 L813.00,28.08 L814.00,28.11 L815.00,28.13 L816.00,28.16 L817.00,28.18 L818.00,28.21 L819.00,28.23 L820.00,28.26 L821.00,28.29 L822.00,28.32 L823.00,28.34 L824.00,28.37 L825.00,28.40 L826.00,28.43 L827.00,28.46 L828.00,28.50 L829.00,28.53 L830.00,28.56 L831.00,28.60 L832.00,28.63 L833.00,28.66 L834.00,28.70 L835.00,28.74 L836.00,28.77 L837.00,28.81 L838.00,28.85 L839.00,28.89 L840.00,28.93 L841.00,28.97 L842.00,29.02 L843.00,29.06 L844.00,29.11 L845.00,29.15 L846.00,29.20 L847.00,29.24 L848.00,29.29 L849.00,29.34 L850.00,29.39 L851.00,29.45 L852.00,29.50 L853.00,29.56 L854.00,29.61 L855.00,29.67 L856.00,29.73 L857.00,29.79 L858.00,29.85 L859.00,29.91 L860.00,29.98 L861.00,30.04 L862.00,30.11 L863.00,30.18 L864.00,30.25 L865.00,30.33 L866.00,30.40 L867.00,30.48 L868.00,30.56 L869.00,30.64 L870.00,30.72 L871.00,30.81 L872.00,30.89 L873.00,30.98 L874.00,31.08 L875.00,31.17 L876.00,31.27 L877.00,31.37 L878.00,31.47 L879.00,31.58 L880.00,31.69 L881.00,31.80 L882.00,31.92 L883.00,32.04 L884.00,32.16 L885.00,32.28 L886.00,32.41 L887.00,32.55 L888.00,32.69 L889.00,32.83 L890.00,32.97 L891.00,33.13 L892.00,33.28 L893.00,33.44 L894.00,33.61 L895.00,33.78 L896.00,33.96 L897.00,34.14 L898.00,34.33 L899.00,34.52 L900.00,34.73 L901.00,34.94 L902.00,35.15 L903.00,35.38 L904.00,35.61 L905.00,35.85 L906.00,36.10 L907.00,36.36 L908.00,36.62 L909.00,36.90 L910.00,37.19 L911.00,37.49 L912.00,37.80 L913.00,38.12 L914.00,38.46 L915.00,38.81 L916.00,39.17 L917.00,39.55 L918.00,39.94 L919.00,40.35 L920.00,40.78 L921.00,41.22 L922.00,41.69 L923.00,42.17 L924.00,42.67 L925.00,43.20 L926.00,43.75 L927.00,44.32 L928.00,44.92 L929.00,45.55 L930.00,46.20 L931.00,46.89 L932.00,47.60 L933.00,48.35 L934.00,49.14 L935.00,49.96 L936.00,50.82 L937.00,51.71 L938.00,52.65 L939.00,53.64 L940.00,54.67 L941.00,55.74 L942.00,56.87 L943.00,58.04 L944.00,59.27 L945.00,60.55 L946.00,61.88 L947.00,63.27 L948.00,64.71 L949.00,66.21 L950.00,67.76 L951.00,69.37 L952.00,71.02 L953.00,72.72 L954.00,74.46 L955.00,76.24 L956.00,78.04 L957.00,79.86 L958.00,81.70 L959.00,83.53 L960.00,85.34 L961.00,87.12 L962.00,88.84 L963.00,90.50 L964.00,92.08 L965.00,93.54 L966.00,94.88 L967.00,96.08 L968.00,97.11 L969.00,97.96 L970.00,98.63 L971.00,99.09 L972.00,99.35 L973.00,99.39 L974.00,99.23 L975.00,98.87 L976.00,98.31 L977.00,97.58 L978.00,96.68 L979.00,95.63 L980.00,94.45 L981.00,93.17 L982.00,91.79 L983.00,90.35 L984.00,88.86 L985.00,87.33 L986.00,85.78 L987.00,84.24 L988.00,82.70 L989.00,81.18 L990.00,79.70 L991.00,78.25 L992.00,76.85 L993.00,75.50 L994.00,74.21 L995.00,72.97 L996.00,71.79 L997.00,70.67 L998.00,69.61 L999.00,68.62 L1000.00,67.69 L1001.00,66.81 L1002.00,66.00 L1003.00,65.25 L1004.00,64.56 L1005.00,63.92 L1006.00,63.34 L1007.00,62.81 L1008.00,62.33 L1009.00,61.91 L1010.00,61.53 L1011.00,61.21 L1012.00,60.93 L1013.00,60.69 L1014.00,60.50 L1015.00,60.36 L1016.00,60.26 L1017.00,60.19 L1018.00,60.17 L1019.00,60.19 L1020.00,60.24 L1021.00,60.34 L1022.00,60.47 L1023.00,60.63 L1024.00,60.83 L1025.00,61.06 L1026.00,61.33 L1027.00,61.63 L1028.00,61.96 L1029.00,62.31 L1030.00,62.70 L1031.00,63.12 L1032.00,63.56 L1033.00,64.02 L1034.00,64.51 L1035.00,65.02 L1036.00,65.55 L1037.00,66.10 L1038.00,66.66 L1039.00,67.23 L1040.00,67.82 L1041.00,68.41 L1042.00,69.01 L1043.00,69.61 L1044.00,70.20 L1045.00,70.79 L1046.00,71.37 L1047.00,71.93 L1048.00,72.48 L1049.00,73.01 L1050.00,73.51 L1051.00,73.97 L1052.00,74.41 L1053.00,74.80 L1054.00,75.15 L1055.00,75.46 L1056.00,75.71 L1057.00,75.92 L1058.00,76.06 L1059.00,76.15 L1060.00,76.18 L1061.00,76.14 L1062.00,76.04 L1063.00,75.89 L1064.00,75.66 L1065.00,75.38 L1066.00,75.04 L1067.00,74.64 L1068.00,74.19 L1069.00,73.68 L1070.00,73.12 L1071.00,72.51 L1072.00,71.87 L1073.00,71.18 L1074.00,70.46 L1075.00,69.71 L1076.00,68.93 L1077.00,68.12 L1078.00,67.30 L1079.00,66.46 L1080.00,65.61 L1081.00,64.75 L1082.00,63.89 L1083.00,63.02 L1084.00,62.15 L1085.00,61.29 L1086.00,60.43 L1087.00,59.57 L1088.00,58.73 L1089.00,57.89 L1090.00,57.07 L1091.00,56.26 L1092.00,55.46 L1093.00,54.68 L1094.00,53.91 L1095.00,53.16 L1096.00,52.43 L1097.00,51.71 L1098.00,51.01 L1099.00,50.33 L1100.00,49.66 L1101.00,49.02 L1102.00,48.38 L1103.00,47.77 L1104.00,47.17 L1105.00,46.59 L1106.00,46.03 L1107.00,45.48 L1108.00,44.95 L1109.00,44.43 L1110.00,43.93 L1111.00,43.44 L1112.00,42.97 L1113.00,42.51 L1114.00,42.06 L1115.00,41.63 L1116.00,41.21 L1117.00,40.80 L1118.00,40.40 L1119.00,40.02 L1120.00,39.65 L1121.00,39.29 L1122.00,38.94 L1123.00,38.59 L1124.00,38.26 L1125.00,37.94 L1126.00,37.63 L1127.00,37.33 L1128.00,37.03 L1129.00,36.75 L1130.00,36.47 L1131.00,36.20 L1132.00,35.94 L1133.00,35.68 L1134.00,35.44 L1135.00,35.20 L1136.00,34.96 L1137.00,34.73 L1138.00,34.51 L1139.00,34.30 L1140.00,34.09 L1141.00,33.88 L1142.00,33.68 L1143.00,33.49 L1144.00,33.30 L1145.00,33.12 L1146.00,32.94 L1147.00,32.76 L1148.00,32.59 L1149.00,32.43 L1150.00,32.26 L1151.00,32.11 L1152.00,31.95 L1153.00,31.80 L1154.00,31.66 L1155.00,31.51 L1156.00,31.37 L1157.00,31.24 L1158.00,31.10 L1159.00,30.98 L1160.00,30.85 L1161.00,30.72 L1162.00,30.60 L1163.00,30.48 L1164.00,30.37 L1165.00,30.26 L1166.00,30.15 L1167.00,30.04 L1168.00,29.93 L1169.00,29.83 L1170.00,29.73 L1171.00,29.63 L1172.00,29.53 L1173.00,29.43 L1174.00,29.34 L1175.00,29.25 L1176.00,29.16 L1177.00,29.07 L1178.00,28.99 L1179.00,28.90 L1180.00,28.82 L1181.00,28.74 L1182.00,28.66 L1183.00,28.58 L1184.00,28.51 L1185.00,28.43 L1186.00,28.36 L1187.00,28.29 L1188.00,28.22 L1189.00,28.15 L1190.00,28.08 L1191.00,28.01 L1192.00,27.95 L1193.00,27.88 L1194.00,27.82 L1195.00,27.76 L1196.00,27.70 L1197.00,27.64 L1198.00,27.58 L1199.00,27.52 L1200.00,27.46 L1201.00,27.41 L1202.00,27.35 L1203.00,27.30 L1204.00,27.25 L1205.00,27.19 L1206.00,27.14 L1207.00,27.09 L1208.00,27.04 L1209.00,26.99 L1210.00,26.94 L1211.00,26.90 L1212.00,26.85 L1213.00,26.80 L1214.00,26.76 L1215.00,26.71 L1216.00,26.67 L1217.00,26.63 L1218.00,26.58 L1219.00,26.54 L1220.00,26.50 L1221.00,26.46 L1222.00,26.42 L1223.00,26.38 L1224.00,26.34 L1225.00,26.30 L1226.00,26.26 L1227.00,26.23 L1228.00,26.19 L1229.00,26.15 L1230.00,26.12 L1231.00,26.08 L1232.00,26.05 L1233.00,26.01 L1234.00,25.98 L1235.00,25.94 L1236.00,25.91 L1237.00,25.88 L1238.00,25.85 L1239.00,25.81 L1240.00,25.78 L1241.00,25.75 L1242.00,25.72 L1243.00,25.69 L1244.00,25.66 L1245.00,25.63 L1246.00,25.60 L1247.00,25.57 L1248.00,25.54 L1249.00,25.52 L1250.00,25.49 L1251.00,25.46 L1252.00,25.43 L1253.00,25.41 L1254.00,25.38 L1255.00,25.35 L1256.00,25.33 L1257.00,25.30 L1258.00,25.28 L1259.00,25.25 L1260.00,25.23 L1261.00,25.20 L1262.00,25.18 L1263.00,25.15 L1264.00,25.13 L1265.00,25.10 L1266.00,25.08 L1267.00,25.06 L1268.00,25.03 L1269.00,25.01 L1270.00,24.99 L1271.00,24.97 L1272.00,24.95 L1273.00,24.92 L1274.00,24.90 L1275.00,24.88 L1276.00,24.86 L1277.00,24.84 L1278.00,24.82 L1279.00,24.80 L1280.00,24.78 L1281.00,24.76 L1282.00,24.74 L1283.00,24.72 L1284.00,24.70 L1285.00,24.68 L1286.00,24.66 L1287.00,24.64 L1288.00,24.62 L1289.00,24.60 L1290.00,24.58 L1291.00,24.56 L1292.00,24.55 L1293.00,24.53 L1294.00,24.51 L1295.00,24.49 L1296.00,24.47 L1297.00,24.46 L1298.00,24.44 L1299.00,24.42 L1300.00,24.40 L1301.00,24.39 L1302.00,24.37 L1303.00,24.35 L1304.00,24.34" stroke="#4a83c2" stroke-width="2.4"/>
<path d="M806.00,28.60 L807.00,28.63 L808.00,28.66 L809.00,28.69 L810.00,28.72 L811.00,28.75 L812.00,28.78 L813.00,28.81 L814.00,28.84 L815.00,28.88 L816.00,28.91 L817.00,28.94 L818.00,28.98 L819.00,29.01 L820.00,29.05 L821.00,29.09 L822.00,29.12 L823.00,29.16 L824.00,29.20 L825.00,29.24 L826.00,29.28 L827.00,29.33 L828.00,29.37 L829.00,29.41 L830.00,29.46 L831.00,29.50 L832.00,29.55 L833.00,29.59 L834.00,29.64 L835.00,29.69 L836.00,29.74 L837.00,29.79 L838.00,29.85 L839.00,29.90 L840.00,29.95 L841.00,30.01 L842.00,30.07 L843.00,30.13 L844.00,30.19 L845.00,30.25 L846.00,30.31 L847.00,30.37 L848.00,30.44 L849.00,30.51 L850.00,30.57 L851.00,30.64 L852.00,30.72 L853.00,30.79 L854.00,30.86 L855.00,30.94 L856.00,31.02 L857.00,31.10 L858.00,31.18 L859.00,31.27 L860.00,31.36 L861.00,31.44 L862.00,31.53 L863.00,31.63 L864.00,31.72 L865.00,31.82 L866.00,31.92 L867.00,32.03 L868.00,32.13 L869.00,32.24 L870.00,32.35 L871.00,32.47 L872.00,32.58 L873.00,32.70 L874.00,32.83 L875.00,32.95 L876.00,33.08 L877.00,33.22 L878.00,33.36 L879.00,33.50 L880.00,33.64 L881.00,33.79 L882.00,33.95 L883.00,34.11 L884.00,34.27 L885.00,34.44 L886.00,34.61 L887.00,34.79 L888.00,34.97 L889.00,35.16 L890.00,35.36 L891.00,35.56 L892.00,35.77 L893.00,35.98 L894.00,36.20 L895.00,36.43 L896.00,36.66 L897.00,36.91 L898.00,37.16 L899.00,37.42 L900.00,37.69 L901.00,37.96 L902.00,38.25 L903.00,38.55 L904.00,38.85 L905.00,39.17 L906.00,39.50 L907.00,39.84 L908.00,40.19 L909.00,40.56 L910.00,40.94 L911.00,41.33 L912.00,41.74 L913.00,42.17 L914.00,42.61 L915.00,43.06 L916.00,43.54 L917.00,44.03 L918.00,44.55 L919.00,45.08 L920.00,45.64 L921.00,46.22 L922.00,46.82 L923.00,47.45 L924.00,48.10 L925.00,48.78 L926.00,49.49 L927.00,50.23 L928.00,51.01 L929.00,51.81 L930.00,52.65 L931.00,53.53 L932.00,54.45 L933.00,55.40 L934.00,56.40 L935.00,57.45 L936.00,58.54 L937.00,59.67 L938.00,60.86 L939.00,62.10 L940.00,63.39 L941.00,64.74 L942.00,66.15 L943.00,67.61 L944.00,69.14 L945.00,70.73 L946.00,72.38 L947.00,74.09 L948.00,75.87 L949.00,77.71 L950.00,79.61 L951.00,81.57 L952.00,83.59 L953.00,85.65 L954.00,87.77 L955.00,89.92 L956.00,92.11 L957.00,94.31 L958.00,96.53 L959.00,98.74 L960.00,100.94 L961.00,103.10 L962.00,105.21 L963.00,107.24 L964.00,109.18 L965.00,111.01 L966.00,112.70 L967.00,114.24 L968.00,115.60 L969.00,116.76 L970.00,117.72 L971.00,118.45 L972.00,118.95 L973.00,119.21 L974.00,119.23 L975.00,119.01 L976.00,118.57 L977.00,117.90 L978.00,117.03 L979.00,115.97 L980.00,114.73 L981.00,113.35 L982.00,111.84 L983.00,110.22 L984.00,108.51 L985.00,106.74 L986.00,104.93 L987.00,103.09 L988.00,101.23 L989.00,99.38 L990.00,97.55 L991.00,95.75 L992.00,93.99 L993.00,92.28 L994.00,90.62 L995.00,89.02 L996.00,87.49 L997.00,86.02 L998.00,84.62 L999.00,83.30 L1000.00,82.05 L1001.00,80.87 L1002.00,79.77 L1003.00,78.74 L1004.00,77.78 L1005.00,76.90 L1006.00,76.08 L1007.00,75.34 L1008.00,74.66 L1009.00,74.05 L1010.00,73.50 L1011.00,73.02 L1012.00,72.60 L1013.00,72.24 L1014.00,71.94 L1015.00,71.70 L1016.00,71.51 L1017.00,71.39 L1018.00,71.32 L1019.00,71.30 L1020.00,71.33 L1021.00,71.42 L1022.00,71.56 L1023.00,71.74 L1024.00,71.98 L1025.00,72.26 L1026.00,72.59 L1027.00,72.97 L1028.00,73.39 L1029.00,73.85 L1030.00,74.36 L1031.00,74.90 L1032.00,75.49 L1033.00,76.11 L1034.00,76.76 L1035.00,77.44 L1036.00,78.16 L1037.00,78.90 L1038.00,79.66 L1039.00,80.45 L1040.00,81.25 L1041.00,82.06 L1042.00,82.88 L1043.00,83.70 L1044.00,84.51 L1045.00,85.32 L1046.00,86.11 L1047.00,86.88 L1048.00,87.63 L1049.00,88.34 L1050.00,89.01 L1051.00,89.64 L1052.00,90.21 L1053.00,90.72 L1054.00,91.16 L1055.00,91.54 L1056.00,91.84 L1057.00,92.05 L1058.00,92.19 L1059.00,92.23 L1060.00,92.19 L1061.00,92.05 L1062.00,91.83 L1063.00,91.51 L1064.00,91.10 L1065.00,90.61 L1066.00,90.03 L1067.00,89.37 L1068.00,88.63 L1069.00,87.83 L1070.00,86.96 L1071.00,86.03 L1072.00,85.04 L1073.00,84.01 L1074.00,82.93 L1075.00,81.83 L1076.00,80.69 L1077.00,79.52 L1078.00,78.34 L1079.00,77.15 L1080.00,75.95 L1081.00,74.74 L1082.00,73.54 L1083.00,72.34 L1084.00,71.15 L1085.00,69.97 L1086.00,68.80 L1087.00,67.65 L1088.00,66.52 L1089.00,65.41 L1090.00,64.32 L1091.00,63.25 L1092.00,62.21 L1093.00,61.19 L1094.00,60.19 L1095.00,59.22 L1096.00,58.27 L1097.00,57.35 L1098.00,56.46 L1099.00,55.59 L1100.00,54.74 L1101.00,53.92 L1102.00,53.13 L1103.00,52.35 L1104.00,51.61 L1105.00,50.88 L1106.00,50.18 L1107.00,49.49 L1108.00,48.83 L1109.00,48.19 L1110.00,47.57 L1111.00,46.97 L1112.00,46.39 L1113.00,45.82 L1114.00,45.28 L1115.00,44.75 L1116.00,44.24 L1117.00,43.74 L1118.00,43.26 L1119.00,42.79 L1120.00,42.34 L1121.00,41.90 L1122.00,41.47 L1123.00,41.06 L1124.00,40.66 L1125.00,40.28 L1126.00,39.90 L1127.00,39.53 L1128.00,39.18 L1129.00,38.84 L1130.00,38.50 L1131.00,38.18 L1132.00,37.86 L1133.00,37.56 L1134.00,37.26 L1135.00,36.97 L1136.00,36.69 L1137.00,36.42 L1138.00,36.16 L1139.00,35.90 L1140.00,35.65 L1141.00,35.40 L1142.00,35.17 L1143.00,34.93 L1144.00,34.71 L1145.00,34.49 L1146.00,34.28 L1147.00,34.07 L1148.00,33.87 L1149.00,33.67 L1150.00,33.48 L1151.00,33.29 L1152.00,33.11 L1153.00,32.93 L1154.00,32.75 L1155.00,32.58 L1156.00,32.42 L1157.00,32.25 L1158.00,32.10 L1159.00,31.94 L1160.00,31.79 L1161.00,31.64 L1162.00,31.50 L1163.00,31.36 L1164.00,31.22 L1165.00,31.09 L1166.00,30.96 L1167.00,30.83 L1168.00,30.70 L1169.00,30.58 L1170.00,30.46 L1171.00,30.34 L1172.00,30.23 L1173.00,30.11 L1174.00,30.00 L1175.00,29.89 L1176.00,29.79 L1177.00,29.68 L1178.00,29.58 L1179.00,29.48 L1180.00,29.38 L1181.00,29.29 L1182.00,29.19 L1183.00,29.10 L1184.00,29.01 L1185.00,28.92 L1186.00,28.84 L1187.00,28.75 L1188.00,28.67 L1189.00,28.58 L1190.00,28.50 L1191.00,28.42 L1192.00,28.35 L1193.00,28.27 L1194.00,28.19 L1195.00,28.12 L1196.00,28.05 L1197.00,27.98 L1198.00,27.91 L1199.00,27.84 L1200.00,27.77 L1201.00,27.70 L1202.00,27.64 L1203.00,27.57 L1204.00,27.51 L1205.00,27.45 L1206.00,27.39 L1207.00,27.33 L1208.00,27.27 L1209.00,27.21 L1210.00,27.15 L1211.00,27.09 L1212.00,27.04 L1213.00,26.98 L1214.00,26.93 L1215.00,26.88 L1216.00,26.82 L1217.00,26.77 L1218.00,26.72 L1219.00,26.67 L1220.00,26.62 L1221.00,26.57 L1222.00,26.52 L1223.00,26.48 L1224.00,26.43 L1225.00,26.38 L1226.00,26.34 L1227.00,26.29 L1228.00,26.25 L1229.00,26.21 L1230.00,26.16 L1231.00,26.12 L1232.00,26.08 L1233.00,26.04 L1234.00,26.00 L1235.00,25.96 L1236.00,25.92 L1237.00,25.88 L1238.00,25.84 L1239.00,25.80 L1240.00,25.76 L1241.00,25.73 L1242.00,25.69 L1243.00,25.65 L1244.00,25.62 L1245.00,25.58 L1246.00,25.55 L1247.00,25.51 L1248.00,25.48 L1249.00,25.44 L1250.00,25.41 L1251.00,25.38 L1252.00,25.34 L1253.00,25.31 L1254.00,25.28 L1255.00,25.25 L1256.00,25.22 L1257.00,25.19 L1258.00,25.15 L1259.00,25.12 L1260.00,25.09 L1261.00,25.06 L1262.00,25.04 L1263.00,25.01 L1264.00,24.98 L1265.00,24.95 L1266.00,24.92 L1267.00,24.89 L1268.00,24.87 L1269.00,24.84 L1270.00,24.81 L1271.00,24.78 L1272.00,24.76 L1273.00,24.73 L1274.00,24.71 L1275.00,24.68 L1276.00,24.65 L1277.00,24.63 L1278.00,24.60 L1279.00,24.58 L1280.00,24.56 L1281.00,24.53 L1282.00,24.51 L1283.00,24.48 L1284.00,24.46 L1285.00,24.44 L1286.00,24.41 L1287.00,24.39 L1288.00,24.37 L1289.00,24.34 L1290.00,24.32 L1291.00,24.30 L1292.00,24.28 L1293.00,24.26 L1294.00,24.23 L1295.00,24.21 L1296.00,24.19 L1297.00,24.17 L1298.00,24.15 L1299.00,24.13 L1300.00,24.11 L1301.00,24.09 L1302.00,24.07 L1303.00,24.05 L1304.00,24.03" stroke="#1b5fa8" stroke-width="2.4"/>
</g>
<g clip-path="url(#cD)" fill="none" stroke-linejoin="round">
<path d="M806.00,520.57 L806.50,520.58 L807.00,520.60 L807.50,520.63 L808.00,520.65 L808.50,520.68 L809.00,520.71 L809.50,520.74 L810.00,520.77 L810.50,520.80 L811.00,520.82 L811.50,520.85 L812.00,520.88 L812.50,520.91 L813.00,520.94 L813.50,520.96 L814.00,520.99 L814.50,521.02 L815.00,521.05 L815.50,521.07 L816.00,521.10 L816.50,521.13 L817.00,521.16 L817.50,521.18 L818.00,521.21 L818.50,521.24 L819.00,521.27 L819.50,521.29 L820.00,521.32 L820.50,521.35 L821.00,521.37 L821.50,521.40 L822.00,521.43 L822.50,521.46 L823.00,521.48 L823.50,521.51 L824.00,521.54 L824.50,521.56 L825.00,521.59 L825.50,521.62 L826.00,521.64 L826.50,521.67 L827.00,521.70 L827.50,521.73 L828.00,521.75 L828.50,521.78 L829.00,521.81 L829.50,521.83 L830.00,521.86 L830.50,521.89 L831.00,521.92 L831.50,521.94 L832.00,521.97 L832.50,522.00 L833.00,522.03 L833.50,522.05 L834.00,522.08 L834.50,522.11 L835.00,522.14 L835.50,522.16 L836.00,522.19 L836.50,522.22 L837.00,522.25 L837.50,522.28 L838.00,522.30 L838.50,522.33 L839.00,522.36 L839.50,522.39 L840.00,522.42 L840.50,522.45 L841.00,522.48 L841.50,522.50 L842.00,522.53 L842.50,522.56 L843.00,522.59 L843.50,522.62 L844.00,522.65 L844.50,522.68 L845.00,522.71 L845.50,522.74 L846.00,522.77 L846.50,522.80 L847.00,522.83 L847.50,522.87 L848.00,522.90 L848.50,522.93 L849.00,522.96 L849.50,522.99 L850.00,523.02 L850.50,523.06 L851.00,523.09 L851.50,523.12 L852.00,523.15 L852.50,523.19 L853.00,523.22 L853.50,523.25 L854.00,523.29 L854.50,523.32 L855.00,523.36 L855.50,523.39 L856.00,523.43 L856.50,523.46 L857.00,523.50 L857.50,523.53 L858.00,523.57 L858.50,523.61 L859.00,523.64 L859.50,523.68 L860.00,523.72 L860.50,523.76 L861.00,523.79 L861.50,523.83 L862.00,523.87 L862.50,523.91 L863.00,523.95 L863.50,523.99 L864.00,524.03 L864.50,524.07 L865.00,524.11 L865.50,524.15 L866.00,524.20 L866.50,524.24 L867.00,524.28 L867.50,524.32 L868.00,524.37 L868.50,524.41 L869.00,524.46 L869.50,524.50 L870.00,524.55 L870.50,524.59 L871.00,524.64 L871.50,524.69 L872.00,524.73 L872.50,524.78 L873.00,524.83 L873.50,524.88 L874.00,524.93 L874.50,524.98 L875.00,525.03 L875.50,525.08 L876.00,525.13 L876.50,525.19 L877.00,525.24 L877.50,525.29 L878.00,525.35 L878.50,525.40 L879.00,525.46 L879.50,525.51 L880.00,525.57 L880.50,525.63 L881.00,525.69 L881.50,525.75 L882.00,525.81 L882.50,525.87 L883.00,525.93 L883.50,525.99 L884.00,526.05 L884.50,526.12 L885.00,526.18 L885.50,526.24 L886.00,526.31 L886.50,526.38 L887.00,526.44 L887.50,526.51 L888.00,526.58 L888.50,526.65 L889.00,526.72 L889.50,526.79 L890.00,526.87 L890.50,526.94 L891.00,527.02 L891.50,527.09 L892.00,527.17 L892.50,527.24 L893.00,527.32 L893.50,527.40 L894.00,527.48 L894.50,527.56 L895.00,527.65 L895.50,527.73 L896.00,527.82 L896.50,527.90 L897.00,527.99 L897.50,528.08 L898.00,528.17 L898.50,528.26 L899.00,528.35 L899.50,528.44 L900.00,528.54 L900.50,528.63 L901.00,528.73 L901.50,528.83 L902.00,528.93 L902.50,529.03 L903.00,529.13 L903.50,529.23 L904.00,529.34 L904.50,529.44 L905.00,529.55 L905.50,529.66 L906.00,529.77 L906.50,529.89 L907.00,530.00 L907.50,530.11 L908.00,530.23 L908.50,530.35 L909.00,530.47 L909.50,530.59 L910.00,530.72 L910.50,530.84 L911.00,530.97 L911.50,531.10 L912.00,531.23 L912.50,531.36 L913.00,531.50 L913.50,531.64 L914.00,531.78 L914.50,531.92 L915.00,532.06 L915.50,532.20 L916.00,532.35 L916.50,532.50 L917.00,532.65 L917.50,532.81 L918.00,532.96 L918.50,533.12 L919.00,533.28 L919.50,533.44 L920.00,533.61 L920.50,533.78 L921.00,533.95 L921.50,534.12 L922.00,534.30 L922.50,534.47 L923.00,534.65 L923.50,534.84 L924.00,535.02 L924.50,535.21 L925.00,535.41 L925.50,535.60 L926.00,535.80 L926.50,536.00 L927.00,536.20 L927.50,536.41 L928.00,536.62 L928.50,536.84 L929.00,537.05 L929.50,537.28 L930.00,537.50 L930.50,537.73 L931.00,537.96 L931.50,538.20 L932.00,538.43 L932.50,538.68 L933.00,538.93 L933.50,539.18 L934.00,539.43 L934.50,539.69 L935.00,539.96 L935.50,540.23 L936.00,540.50 L936.50,540.78 L937.00,541.06 L937.50,541.35 L938.00,541.64 L938.50,541.94 L939.00,542.24 L939.50,542.55 L940.00,542.87 L940.50,543.19 L941.00,543.51 L941.50,543.85 L942.00,544.19 L942.50,544.53 L943.00,544.89 L943.50,545.25 L944.00,545.62 L944.50,546.00 L945.00,546.39 L945.50,546.78 L946.00,547.19 L946.50,547.61 L947.00,548.03 L947.50,548.47 L948.00,548.93 L948.50,549.40 L949.00,549.88 L949.50,550.39 L950.00,550.91 L950.50,551.46 L951.00,552.02 L951.50,552.62 L952.00,553.24 L952.50,553.88 L953.00,554.55 L953.50,555.25 L954.00,555.95 L954.50,556.65 L955.00,557.34 L955.50,557.98 L956.00,558.57 L956.50,559.10 L957.00,559.56 L957.50,559.97 L958.00,560.35 L958.50,560.71 L959.00,561.08 L959.50,561.47 L960.00,561.88 L960.50,562.31 L961.00,562.78 L961.50,563.28 L962.00,563.81 L962.50,564.36 L963.00,564.95 L963.50,565.55 L964.00,566.18 L964.50,566.83 L965.00,567.51 L965.50,568.20 L966.00,568.91 L966.50,569.65 L967.00,570.40 L967.50,571.17 L968.00,571.96 L968.50,572.77 L969.00,573.59 L969.50,574.44 L970.00,575.30 L970.50,576.18 L971.00,577.09 L971.50,578.01 L972.00,578.95 L972.50,579.91 L973.00,580.89 L973.50,581.89 L974.00,582.91 L974.50,583.95 L975.00,585.01 L975.50,586.09 L976.00,587.20 L976.50,588.33 L977.00,589.48 L977.50,590.65 L978.00,591.85 L978.50,593.07 L979.00,594.31 L979.50,595.58 L980.00,596.88 L980.50,598.20 L981.00,599.55 L981.50,600.92 L982.00,602.32 L982.50,603.74 L983.00,605.20 L983.50,606.68 L984.00,608.19 L984.50,609.73 L985.00,611.29 L985.50,612.89 L986.00,614.51 L986.50,616.17 L987.00,617.85 L987.50,619.57 L988.00,621.32 L988.50,623.09 L989.00,624.90 L989.50,626.73 L990.00,628.60 L990.50,630.50 L991.00,632.43 L991.50,634.39 L992.00,636.38 L992.50,638.41 L993.00,640.46 L993.50,642.54 L994.00,644.65 L994.50,646.79 L995.00,648.96 L995.50,651.16 L996.00,653.39 L996.50,655.64 L997.00,657.92 L997.50,660.22 L998.00,662.54 L998.50,664.89 L999.00,667.26 L999.50,669.65 L1000.00,672.05 L1000.50,674.48 L1001.00,676.91 L1001.50,679.36 L1002.00,681.81 L1002.50,684.28 L1003.00,686.74 L1003.50,689.21 L1004.00,691.68 L1004.50,694.15 L1005.00,696.60 L1005.50,699.05 L1006.00,701.48 L1006.50,703.89 L1007.00,706.28 L1007.50,708.65 L1008.00,710.98 L1008.50,713.28 L1009.00,715.54 L1009.50,717.75 L1010.00,719.92 L1010.50,722.03 L1011.00,724.08 L1011.50,726.08 L1012.00,728.00 L1012.50,729.85 L1013.00,731.63 L1013.50,733.32 L1014.00,734.93 L1014.50,736.44 L1015.00,737.86 L1015.50,739.18 L1016.00,740.39 L1016.50,741.50 L1017.00,742.50 L1017.50,743.38 L1018.00,744.15 L1018.50,744.79 L1019.00,745.31 L1019.50,745.71 L1020.00,745.98 L1020.50,746.13 L1021.00,746.14 L1021.50,746.03 L1022.00,745.81 L1022.50,745.47 L1023.00,745.02 L1023.50,744.47 L1024.00,743.80 L1024.50,743.04 L1025.00,742.18 L1025.50,741.23 L1026.00,740.19 L1026.50,739.06 L1027.00,737.85 L1027.50,736.56 L1028.00,735.20 L1028.50,733.78 L1029.00,732.29 L1029.50,730.75 L1030.00,729.16 L1030.50,727.53 L1031.00,725.85 L1031.50,724.13 L1032.00,722.38 L1032.50,720.60 L1033.00,718.78 L1033.50,716.93 L1034.00,715.06 L1034.50,713.16 L1035.00,711.24 L1035.50,709.30 L1036.00,707.34 L1036.50,705.36 L1037.00,703.36 L1037.50,701.36 L1038.00,699.34 L1038.50,697.31 L1039.00,695.27 L1039.50,693.22 L1040.00,691.16 L1040.50,689.10 L1041.00,687.03 L1041.50,684.96 L1042.00,682.88 L1042.50,680.80 L1043.00,678.71 L1043.50,676.62 L1044.00,674.53 L1044.50,672.42 L1045.00,670.32 L1045.50,668.21 L1046.00,666.09 L1046.50,663.97 L1047.00,661.84 L1047.50,659.70 L1048.00,657.55 L1048.50,655.39 L1049.00,653.22 L1049.50,651.03 L1050.00,648.84 L1050.50,646.64 L1051.00,644.43 L1051.50,642.23 L1052.00,640.03 L1052.50,637.83 L1053.00,635.64 L1053.50,633.47 L1054.00,631.31 L1054.50,629.17 L1055.00,627.06 L1055.50,624.97 L1056.00,622.90 L1056.50,620.87 L1057.00,618.87 L1057.50,616.91 L1058.00,614.99 L1058.50,613.11 L1059.00,611.28 L1059.50,609.49 L1060.00,607.74 L1060.50,606.03 L1061.00,604.37 L1061.50,602.74 L1062.00,601.15 L1062.50,599.59 L1063.00,598.08 L1063.50,596.59 L1064.00,595.14 L1064.50,593.73 L1065.00,592.34 L1065.50,590.99 L1066.00,589.66 L1066.50,588.37 L1067.00,587.11 L1067.50,585.87 L1068.00,584.66 L1068.50,583.48 L1069.00,582.33 L1069.50,581.20 L1070.00,580.10 L1070.50,579.02 L1071.00,577.97 L1071.50,576.94 L1072.00,575.94 L1072.50,574.96 L1073.00,574.00 L1073.50,573.07 L1074.00,572.15 L1074.50,571.26 L1075.00,570.39 L1075.50,569.54 L1076.00,568.71 L1076.50,567.89 L1077.00,567.10 L1077.50,566.32 L1078.00,565.57 L1078.50,564.82 L1079.00,564.10 L1079.50,563.39 L1080.00,562.70 L1080.50,562.02 L1081.00,561.36 L1081.50,560.71 L1082.00,560.08 L1082.50,559.46 L1083.00,558.85 L1083.50,558.26 L1084.00,557.68 L1084.50,557.11 L1085.00,556.55 L1085.50,556.01 L1086.00,555.47 L1086.50,554.94 L1087.00,554.43 L1087.50,553.92 L1088.00,553.43 L1088.50,552.94 L1089.00,552.46 L1089.50,551.99 L1090.00,551.52 L1090.50,551.07 L1091.00,550.62 L1091.50,550.18 L1092.00,549.75 L1092.50,549.32 L1093.00,548.90 L1093.50,548.49 L1094.00,548.08 L1094.50,547.69 L1095.00,547.29 L1095.50,546.91 L1096.00,546.53 L1096.50,546.15 L1097.00,545.79 L1097.50,545.43 L1098.00,545.07 L1098.50,544.72 L1099.00,544.37 L1099.50,544.03 L1100.00,543.70 L1100.50,543.37 L1101.00,543.05 L1101.50,542.73 L1102.00,542.41 L1102.50,542.10 L1103.00,541.80 L1103.50,541.50 L1104.00,541.20 L1104.50,540.91 L1105.00,540.62 L1105.50,540.34 L1106.00,540.06 L1106.50,539.78 L1107.00,539.51 L1107.50,539.25 L1108.00,538.98 L1108.50,538.72 L1109.00,538.47 L1109.50,538.21 L1110.00,537.96 L1110.50,537.72 L1111.00,537.48 L1111.50,537.24 L1112.00,537.00 L1112.50,536.77 L1113.00,536.54 L1113.50,536.31 L1114.00,536.09 L1114.50,535.87 L1115.00,535.65 L1115.50,535.44 L1116.00,535.22 L1116.50,535.02 L1117.00,534.81 L1117.50,534.60 L1118.00,534.40 L1118.50,534.20 L1119.00,534.01 L1119.50,533.81 L1120.00,533.62 L1120.50,533.43 L1121.00,533.25 L1121.50,533.06 L1122.00,532.88 L1122.50,532.70 L1123.00,532.52 L1123.50,532.34 L1124.00,532.17 L1124.50,532.00 L1125.00,531.83 L1125.50,531.66 L1126.00,531.49 L1126.50,531.33 L1127.00,531.17 L1127.50,531.00 L1128.00,530.85 L1128.50,530.69 L1129.00,530.53 L1129.50,530.38 L1130.00,530.23 L1130.50,530.08 L1131.00,529.93 L1131.50,529.78 L1132.00,529.63 L1132.50,529.49 L1133.00,529.35 L1133.50,529.20 L1134.00,529.06 L1134.50,528.92 L1135.00,528.79 L1135.50,528.65 L1136.00,528.52 L1136.50,528.38 L1137.00,528.25 L1137.50,528.12 L1138.00,527.99 L1138.50,527.86 L1139.00,527.73 L1139.50,527.61 L1140.00,527.48 L1140.50,527.36 L1141.00,527.24 L1141.50,527.12 L1142.00,527.00 L1142.50,526.88 L1143.00,526.76 L1143.50,526.64 L1144.00,526.52 L1144.50,526.41 L1145.00,526.29 L1145.50,526.18 L1146.00,526.07 L1146.50,525.96 L1147.00,525.85 L1147.50,525.74 L1148.00,525.63 L1148.50,525.52 L1149.00,525.41 L1149.50,525.31 L1150.00,525.20 L1150.50,525.10 L1151.00,524.99 L1151.50,524.89 L1152.00,524.79 L1152.50,524.69 L1153.00,524.59 L1153.50,524.49 L1154.00,524.39 L1154.50,524.29 L1155.00,524.19 L1155.50,524.09 L1156.00,524.00 L1156.50,523.90 L1157.00,523.81 L1157.50,523.71 L1158.00,523.62 L1158.50,523.53 L1159.00,523.43 L1159.50,523.34 L1160.00,523.25 L1160.50,523.16 L1161.00,523.07 L1161.50,522.98 L1162.00,522.89 L1162.50,522.81 L1163.00,522.72 L1163.50,522.63 L1164.00,522.55 L1164.50,522.46 L1165.00,522.37 L1165.50,522.29 L1166.00,522.21 L1166.50,522.12 L1167.00,522.04 L1167.50,521.96 L1168.00,521.87 L1168.50,521.79 L1169.00,521.71 L1169.50,521.63 L1170.00,521.55 L1170.50,521.47 L1171.00,521.39 L1171.50,521.31 L1172.00,521.23 L1172.50,521.16 L1173.00,521.08 L1173.50,521.00 L1174.00,520.92 L1174.50,520.85 L1175.00,520.77 L1175.50,520.70 L1176.00,520.62 L1176.50,520.55 L1177.00,520.47 L1177.50,520.40 L1178.00,520.33 L1178.50,520.25 L1179.00,520.18 L1179.50,520.11 L1180.00,520.04 L1180.50,519.97 L1181.00,519.90 L1181.50,519.83 L1182.00,519.76 L1182.50,519.69 L1183.00,519.62 L1183.50,519.55 L1184.00,519.48 L1184.50,519.41 L1185.00,519.34 L1185.50,519.27 L1186.00,519.21 L1186.50,519.14 L1187.00,519.07 L1187.50,519.01 L1188.00,518.94 L1188.50,518.88 L1189.00,518.81 L1189.50,518.75 L1190.00,518.68 L1190.50,518.62 L1191.00,518.55 L1191.50,518.49 L1192.00,518.43 L1192.50,518.36 L1193.00,518.30 L1193.50,518.24 L1194.00,518.18 L1194.50,518.11 L1195.00,518.05 L1195.50,517.99 L1196.00,517.93 L1196.50,517.87 L1197.00,517.81 L1197.50,517.75 L1198.00,517.69 L1198.50,517.63 L1199.00,517.57 L1199.50,517.51 L1200.00,517.46 L1200.50,517.40 L1201.00,517.34 L1201.50,517.28 L1202.00,517.22 L1202.50,517.17 L1203.00,517.11 L1203.50,517.06 L1204.00,517.00 L1204.50,516.94 L1205.00,516.89 L1205.50,516.83 L1206.00,516.78 L1206.50,516.72 L1207.00,516.67 L1207.50,516.62 L1208.00,516.56 L1208.50,516.51 L1209.00,516.46 L1209.50,516.40 L1210.00,516.35 L1210.50,516.30 L1211.00,516.25 L1211.50,516.19 L1212.00,516.14 L1212.50,516.09 L1213.00,516.04 L1213.50,515.99 L1214.00,515.94 L1214.50,515.89 L1215.00,515.84 L1215.50,515.79 L1216.00,515.74 L1216.50,515.69 L1217.00,515.64 L1217.50,515.60 L1218.00,515.55 L1218.50,515.50 L1219.00,515.45 L1219.50,515.41 L1220.00,515.36 L1220.50,515.31 L1221.00,515.27 L1221.50,515.22 L1222.00,515.17 L1222.50,515.13 L1223.00,515.08 L1223.50,515.04 L1224.00,514.99 L1224.50,514.95 L1225.00,514.91 L1225.50,514.86 L1226.00,514.82 L1226.50,514.78 L1227.00,514.73 L1227.50,514.69 L1228.00,514.65 L1228.50,514.61 L1229.00,514.57 L1229.50,514.52 L1230.00,514.48 L1230.50,514.44 L1231.00,514.40 L1231.50,514.36 L1232.00,514.32 L1232.50,514.28 L1233.00,514.24 L1233.50,514.20 L1234.00,514.17 L1234.50,514.13 L1235.00,514.09 L1235.50,514.05 L1236.00,514.01 L1236.50,513.98 L1237.00,513.94 L1237.50,513.90 L1238.00,513.87 L1238.50,513.83 L1239.00,513.80 L1239.50,513.76 L1240.00,513.73 L1240.50,513.69 L1241.00,513.66 L1241.50,513.62 L1242.00,513.59 L1242.50,513.56 L1243.00,513.52 L1243.50,513.49 L1244.00,513.46 L1244.50,513.43 L1245.00,513.40 L1245.50,513.36 L1246.00,513.33 L1246.50,513.30 L1247.00,513.27 L1247.50,513.24 L1248.00,513.21 L1248.50,513.18 L1249.00,513.15 L1249.50,513.13 L1250.00,513.10 L1250.50,513.07 L1251.00,513.04 L1251.50,513.01 L1252.00,512.99 L1252.50,512.96 L1253.00,512.94 L1253.50,512.91 L1254.00,512.88 L1254.50,512.86 L1255.00,512.83 L1255.50,512.81 L1256.00,512.79 L1256.50,512.76 L1257.00,512.74 L1257.50,512.72 L1258.00,512.69 L1258.50,512.67 L1259.00,512.65 L1259.50,512.63 L1260.00,512.61 L1260.50,512.58 L1261.00,512.56 L1261.50,512.54 L1262.00,512.52 L1262.50,512.51 L1263.00,512.49 L1263.50,512.47 L1264.00,512.45 L1264.50,512.43 L1265.00,512.41 L1265.50,512.40 L1266.00,512.38 L1266.50,512.36 L1267.00,512.35 L1267.50,512.33 L1268.00,512.32 L1268.50,512.30 L1269.00,512.29 L1269.50,512.27 L1270.00,512.26 L1270.50,512.25 L1271.00,512.24 L1271.50,512.22 L1272.00,512.21 L1272.50,512.20 L1273.00,512.19 L1273.50,512.18 L1274.00,512.17 L1274.50,512.16 L1275.00,512.15 L1275.50,512.14 L1276.00,512.13 L1276.50,512.12 L1277.00,512.12 L1277.50,512.11 L1278.00,512.10 L1278.50,512.10 L1279.00,512.09 L1279.50,512.08 L1280.00,512.08 L1280.50,512.07 L1281.00,512.07 L1281.50,512.07 L1282.00,512.06 L1282.50,512.06 L1283.00,512.06 L1283.50,512.06 L1284.00,512.05 L1284.50,512.05 L1285.00,512.05 L1285.50,512.05 L1286.00,512.05 L1286.50,512.05 L1287.00,512.05 L1287.50,512.06 L1288.00,512.06 L1288.50,512.06 L1289.00,512.06 L1289.50,512.07 L1290.00,512.07 L1290.50,512.08 L1291.00,512.08 L1291.50,512.09 L1292.00,512.09 L1292.50,512.10 L1293.00,512.11 L1293.50,512.11 L1294.00,512.12 L1294.50,512.13 L1295.00,512.14 L1295.50,512.15 L1296.00,512.16 L1296.50,512.17 L1297.00,512.18 L1297.50,512.19 L1298.00,512.20 L1298.50,512.22 L1299.00,512.23 L1299.50,512.24 L1300.00,512.26 L1300.50,512.27 L1301.00,512.29 L1301.50,512.30 L1302.00,512.32 L1302.50,512.33 L1303.00,512.35 L1303.50,512.37 L1304.00,512.39 L1304.50,512.40" stroke="#0d0d0d" stroke-width="3.2"/>
<path d="M806.00,528.00 L806.50,528.02 L807.00,528.04 L807.50,528.07 L808.00,528.09 L808.50,528.12 L809.00,528.15 L809.50,528.18 L810.00,528.20 L810.50,528.23 L811.00,528.26 L811.50,528.29 L812.00,528.32 L812.50,528.35 L813.00,528.38 L813.50,528.41 L814.00,528.44 L814.50,528.47 L815.00,528.50 L815.50,528.54 L816.00,528.57 L816.50,528.60 L817.00,528.63 L817.50,528.67 L818.00,528.70 L818.50,528.73 L819.00,528.77 L819.50,528.80 L820.00,528.84 L820.50,528.87 L821.00,528.91 L821.50,528.94 L822.00,528.98 L822.50,529.02 L823.00,529.06 L823.50,529.09 L824.00,529.13 L824.50,529.17 L825.00,529.21 L825.50,529.25 L826.00,529.29 L826.50,529.33 L827.00,529.37 L827.50,529.41 L828.00,529.46 L828.50,529.50 L829.00,529.54 L829.50,529.58 L830.00,529.63 L830.50,529.67 L831.00,529.72 L831.50,529.76 L832.00,529.81 L832.50,529.86 L833.00,529.90 L833.50,529.95 L834.00,530.00 L834.50,530.05 L835.00,530.10 L835.50,530.15 L836.00,530.20 L836.50,530.25 L837.00,530.30 L837.50,530.36 L838.00,530.41 L838.50,530.46 L839.00,530.52 L839.50,530.57 L840.00,530.63 L840.50,530.69 L841.00,530.74 L841.50,530.80 L842.00,530.86 L842.50,530.92 L843.00,530.98 L843.50,531.04 L844.00,531.11 L844.50,531.17 L845.00,531.23 L845.50,531.30 L846.00,531.36 L846.50,531.43 L847.00,531.50 L847.50,531.56 L848.00,531.63 L848.50,531.70 L849.00,531.77 L849.50,531.84 L850.00,531.92 L850.50,531.99 L851.00,532.06 L851.50,532.14 L852.00,532.22 L852.50,532.29 L853.00,532.37 L853.50,532.45 L854.00,532.53 L854.50,532.62 L855.00,532.70 L855.50,532.78 L856.00,532.87 L856.50,532.96 L857.00,533.04 L857.50,533.13 L858.00,533.22 L858.50,533.31 L859.00,533.41 L859.50,533.50 L860.00,533.60 L860.50,533.69 L861.00,533.79 L861.50,533.89 L862.00,533.99 L862.50,534.10 L863.00,534.20 L863.50,534.31 L864.00,534.41 L864.50,534.52 L865.00,534.63 L865.50,534.75 L866.00,534.86 L866.50,534.97 L867.00,535.09 L867.50,535.21 L868.00,535.33 L868.50,535.45 L869.00,535.58 L869.50,535.71 L870.00,535.83 L870.50,535.96 L871.00,536.10 L871.50,536.23 L872.00,536.37 L872.50,536.51 L873.00,536.65 L873.50,536.79 L874.00,536.93 L874.50,537.08 L875.00,537.23 L875.50,537.38 L876.00,537.54 L876.50,537.69 L877.00,537.85 L877.50,538.02 L878.00,538.18 L878.50,538.35 L879.00,538.52 L879.50,538.69 L880.00,538.86 L880.50,539.04 L881.00,539.22 L881.50,539.41 L882.00,539.59 L882.50,539.78 L883.00,539.97 L883.50,540.17 L884.00,540.37 L884.50,540.57 L885.00,540.77 L885.50,540.98 L886.00,541.19 L886.50,541.41 L887.00,541.63 L887.50,541.85 L888.00,542.07 L888.50,542.30 L889.00,542.53 L889.50,542.77 L890.00,543.01 L890.50,543.25 L891.00,543.49 L891.50,543.74 L892.00,544.00 L892.50,544.26 L893.00,544.52 L893.50,544.78 L894.00,545.05 L894.50,545.32 L895.00,545.60 L895.50,545.88 L896.00,546.16 L896.50,546.45 L897.00,546.74 L897.50,547.03 L898.00,547.33 L898.50,547.64 L899.00,547.94 L899.50,548.25 L900.00,548.56 L900.50,548.88 L901.00,549.20 L901.50,549.52 L902.00,549.85 L902.50,550.18 L903.00,550.51 L903.50,550.85 L904.00,551.18 L904.50,551.52 L905.00,551.87 L905.50,552.21 L906.00,552.56 L906.50,552.91 L907.00,553.26 L907.50,553.61 L908.00,553.96 L908.50,554.32 L909.00,554.67 L909.50,555.03 L910.00,555.38 L910.50,555.74 L911.00,556.09 L911.50,556.44 L912.00,556.79 L912.50,557.14 L913.00,557.49 L913.50,557.84 L914.00,558.18 L914.50,558.52 L915.00,558.86 L915.50,559.19 L916.00,559.52 L916.50,559.84 L917.00,560.16 L917.50,560.47 L918.00,560.78 L918.50,561.08 L919.00,561.38 L919.50,561.66 L920.00,561.94 L920.50,562.22 L921.00,562.48 L921.50,562.74 L922.00,562.99 L922.50,563.23 L923.00,563.46 L923.50,563.68 L924.00,563.89 L924.50,564.09 L925.00,564.29 L925.50,564.47 L926.00,564.65 L926.50,564.81 L927.00,564.97 L927.50,565.11 L928.00,565.25 L928.50,565.38 L929.00,565.50 L929.50,565.61 L930.00,565.71 L930.50,565.80 L931.00,565.89 L931.50,565.97 L932.00,566.04 L932.50,566.10 L933.00,566.16 L933.50,566.21 L934.00,566.25 L934.50,566.29 L935.00,566.33 L935.50,566.36 L936.00,566.38 L936.50,566.40 L937.00,566.42 L937.50,566.44 L938.00,566.45 L938.50,566.47 L939.00,566.48 L939.50,566.49 L940.00,566.50 L940.50,566.51 L941.00,566.52 L941.50,566.53 L942.00,566.54 L942.50,566.56 L943.00,566.58 L943.50,566.60 L944.00,566.62 L944.50,566.64 L945.00,566.67 L945.50,566.71 L946.00,566.74 L946.50,566.78 L947.00,566.83 L947.50,566.88 L948.00,566.94 L948.50,567.00 L949.00,567.07 L949.50,567.15 L950.00,567.23 L950.50,567.32 L951.00,567.41 L951.50,567.52 L952.00,567.63 L952.50,567.74 L953.00,567.87 L953.50,568.00 L954.00,568.14 L954.50,568.29 L955.00,568.45 L955.50,568.61 L956.00,568.79 L956.50,568.97 L957.00,569.16 L957.50,569.36 L958.00,569.57 L958.50,569.79 L959.00,570.02 L959.50,570.26 L960.00,570.51 L960.50,570.76 L961.00,571.03 L961.50,571.31 L962.00,571.60 L962.50,571.90 L963.00,572.21 L963.50,572.53 L964.00,572.86 L964.50,573.20 L965.00,573.55 L965.50,573.91 L966.00,574.29 L966.50,574.67 L967.00,575.07 L967.50,575.48 L968.00,575.90 L968.50,576.33 L969.00,576.78 L969.50,577.23 L970.00,577.70 L970.50,578.18 L971.00,578.68 L971.50,579.18 L972.00,579.70 L972.50,580.24 L973.00,580.78 L973.50,581.34 L974.00,581.91 L974.50,582.50 L975.00,583.10 L975.50,583.72 L976.00,584.34 L976.50,584.99 L977.00,585.65 L977.50,586.32 L978.00,587.01 L978.50,587.71 L979.00,588.43 L979.50,589.17 L980.00,589.92 L980.50,590.69 L981.00,591.47 L981.50,592.27 L982.00,593.09 L982.50,593.92 L983.00,594.78 L983.50,595.65 L984.00,596.53 L984.50,597.44 L985.00,598.37 L985.50,599.31 L986.00,600.27 L986.50,601.25 L987.00,602.25 L987.50,603.28 L988.00,604.32 L988.50,605.38 L989.00,606.46 L989.50,607.56 L990.00,608.69 L990.50,609.83 L991.00,611.00 L991.50,612.18 L992.00,613.39 L992.50,614.62 L993.00,615.88 L993.50,617.15 L994.00,618.45 L994.50,619.77 L995.00,621.12 L995.50,622.49 L996.00,623.88 L996.50,625.30 L997.00,626.74 L997.50,628.20 L998.00,629.69 L998.50,631.20 L999.00,632.74 L999.50,634.30 L1000.00,635.89 L1000.50,637.50 L1001.00,639.14 L1001.50,640.80 L1002.00,642.49 L1002.50,644.20 L1003.00,645.94 L1003.50,647.70 L1004.00,649.49 L1004.50,651.30 L1005.00,653.14 L1005.50,655.00 L1006.00,656.89 L1006.50,658.80 L1007.00,660.73 L1007.50,662.69 L1008.00,664.68 L1008.50,666.68 L1009.00,668.71 L1009.50,670.76 L1010.00,672.82 L1010.50,674.92 L1011.00,677.03 L1011.50,679.15 L1012.00,681.30 L1012.50,683.47 L1013.00,685.65 L1013.50,687.84 L1014.00,690.05 L1014.50,692.27 L1015.00,694.51 L1015.50,696.75 L1016.00,699.00 L1016.50,701.26 L1017.00,703.52 L1017.50,705.79 L1018.00,708.05 L1018.50,710.32 L1019.00,712.58 L1019.50,714.84 L1020.00,717.09 L1020.50,719.33 L1021.00,721.56 L1021.50,723.77 L1022.00,725.97 L1022.50,728.15 L1023.00,730.30 L1023.50,732.43 L1024.00,734.52 L1024.50,736.59 L1025.00,738.63 L1025.50,740.62 L1026.00,742.58 L1026.50,744.49 L1027.00,746.36 L1027.50,748.17 L1028.00,749.94 L1028.50,751.64 L1029.00,753.29 L1029.50,754.88 L1030.00,756.40 L1030.50,757.86 L1031.00,759.24 L1031.50,760.55 L1032.00,761.78 L1032.50,762.93 L1033.00,764.01 L1033.50,764.99 L1034.00,765.90 L1034.50,766.71 L1035.00,767.43 L1035.50,768.06 L1036.00,768.60 L1036.50,769.04 L1037.00,769.39 L1037.50,769.64 L1038.00,769.79 L1038.50,769.85 L1039.00,769.81 L1039.50,769.72 L1040.00,769.57 L1040.50,769.39 L1041.00,769.15 L1041.50,768.87 L1042.00,768.55 L1042.50,768.18 L1043.00,767.77 L1043.50,767.31 L1044.00,766.80 L1044.50,766.26 L1045.00,765.67 L1045.50,765.04 L1046.00,764.37 L1046.50,763.65 L1047.00,762.90 L1047.50,762.11 L1048.00,761.27 L1048.50,760.40 L1049.00,759.49 L1049.50,758.55 L1050.00,757.57 L1050.50,756.56 L1051.00,755.51 L1051.50,754.43 L1052.00,753.32 L1052.50,752.18 L1053.00,751.01 L1053.50,749.80 L1054.00,748.58 L1054.50,747.32 L1055.00,746.04 L1055.50,744.74 L1056.00,743.41 L1056.50,742.06 L1057.00,740.69 L1057.50,739.30 L1058.00,737.89 L1058.50,736.47 L1059.00,735.02 L1059.50,733.56 L1060.00,732.09 L1060.50,730.60 L1061.00,729.10 L1061.50,727.59 L1062.00,726.06 L1062.50,724.53 L1063.00,722.98 L1063.50,721.43 L1064.00,719.87 L1064.50,718.31 L1065.00,716.73 L1065.50,715.16 L1066.00,713.58 L1066.50,711.99 L1067.00,710.41 L1067.50,708.82 L1068.00,707.22 L1068.50,705.63 L1069.00,704.04 L1069.50,702.45 L1070.00,700.86 L1070.50,699.27 L1071.00,697.68 L1071.50,696.09 L1072.00,694.51 L1072.50,692.93 L1073.00,691.35 L1073.50,689.78 L1074.00,688.21 L1074.50,686.65 L1075.00,685.09 L1075.50,683.54 L1076.00,681.99 L1076.50,680.45 L1077.00,678.91 L1077.50,677.39 L1078.00,675.86 L1078.50,674.35 L1079.00,672.84 L1079.50,671.34 L1080.00,669.85 L1080.50,668.36 L1081.00,666.88 L1081.50,665.41 L1082.00,663.95 L1082.50,662.49 L1083.00,661.04 L1083.50,659.60 L1084.00,658.17 L1084.50,656.74 L1085.00,655.33 L1085.50,653.92 L1086.00,652.52 L1086.50,651.13 L1087.00,649.74 L1087.50,648.37 L1088.00,647.00 L1088.50,645.64 L1089.00,644.29 L1089.50,642.95 L1090.00,641.62 L1090.50,640.30 L1091.00,638.98 L1091.50,637.68 L1092.00,636.39 L1092.50,635.11 L1093.00,633.84 L1093.50,632.57 L1094.00,631.32 L1094.50,630.08 L1095.00,628.85 L1095.50,627.64 L1096.00,626.43 L1096.50,625.23 L1097.00,624.05 L1097.50,622.87 L1098.00,621.71 L1098.50,620.56 L1099.00,619.42 L1099.50,618.29 L1100.00,617.17 L1100.50,616.07 L1101.00,614.98 L1101.50,613.90 L1102.00,612.83 L1102.50,611.77 L1103.00,610.73 L1103.50,609.69 L1104.00,608.67 L1104.50,607.66 L1105.00,606.66 L1105.50,605.67 L1106.00,604.70 L1106.50,603.73 L1107.00,602.78 L1107.50,601.83 L1108.00,600.90 L1108.50,599.98 L1109.00,599.07 L1109.50,598.16 L1110.00,597.27 L1110.50,596.39 L1111.00,595.52 L1111.50,594.66 L1112.00,593.81 L1112.50,592.97 L1113.00,592.13 L1113.50,591.31 L1114.00,590.50 L1114.50,589.70 L1115.00,588.90 L1115.50,588.12 L1116.00,587.34 L1116.50,586.57 L1117.00,585.82 L1117.50,585.07 L1118.00,584.33 L1118.50,583.59 L1119.00,582.87 L1119.50,582.15 L1120.00,581.45 L1120.50,580.75 L1121.00,580.06 L1121.50,579.37 L1122.00,578.70 L1122.50,578.03 L1123.00,577.37 L1123.50,576.72 L1124.00,576.08 L1124.50,575.44 L1125.00,574.81 L1125.50,574.19 L1126.00,573.57 L1126.50,572.97 L1127.00,572.37 L1127.50,571.77 L1128.00,571.18 L1128.50,570.60 L1129.00,570.03 L1129.50,569.46 L1130.00,568.90 L1130.50,568.35 L1131.00,567.80 L1131.50,567.26 L1132.00,566.72 L1132.50,566.20 L1133.00,565.67 L1133.50,565.16 L1134.00,564.64 L1134.50,564.14 L1135.00,563.64 L1135.50,563.15 L1136.00,562.66 L1136.50,562.18 L1137.00,561.70 L1137.50,561.23 L1138.00,560.76 L1138.50,560.30 L1139.00,559.85 L1139.50,559.40 L1140.00,558.95 L1140.50,558.51 L1141.00,558.08 L1141.50,557.65 L1142.00,557.22 L1142.50,556.80 L1143.00,556.38 L1143.50,555.97 L1144.00,555.57 L1144.50,555.17 L1145.00,554.77 L1145.50,554.38 L1146.00,553.99 L1146.50,553.60 L1147.00,553.23 L1147.50,552.85 L1148.00,552.48 L1148.50,552.11 L1149.00,551.75 L1149.50,551.39 L1150.00,551.04 L1150.50,550.69 L1151.00,550.34 L1151.50,550.00 L1152.00,549.66 L1152.50,549.32 L1153.00,548.99 L1153.50,548.67 L1154.00,548.34 L1154.50,548.02 L1155.00,547.71 L1155.50,547.39 L1156.00,547.08 L1156.50,546.78 L1157.00,546.48 L1157.50,546.18 L1158.00,545.88 L1158.50,545.59 L1159.00,545.30 L1159.50,545.01 L1160.00,544.73 L1160.50,544.45 L1161.00,544.17 L1161.50,543.90 L1162.00,543.63 L1162.50,543.36 L1163.00,543.10 L1163.50,542.84 L1164.00,542.58 L1164.50,542.32 L1165.00,542.07 L1165.50,541.82 L1166.00,541.57 L1166.50,541.33 L1167.00,541.09 L1167.50,540.85 L1168.00,540.61 L1168.50,540.38 L1169.00,540.15 L1169.50,539.92 L1170.00,539.69 L1170.50,539.47 L1171.00,539.25 L1171.50,539.03 L1172.00,538.81 L1172.50,538.60 L1173.00,538.39 L1173.50,538.18 L1174.00,537.97 L1174.50,537.77 L1175.00,537.56 L1175.50,537.36 L1176.00,537.17 L1176.50,536.97 L1177.00,536.78 L1177.50,536.59 L1178.00,536.40 L1178.50,536.21 L1179.00,536.02 L1179.50,535.84 L1180.00,535.66 L1180.50,535.48 L1181.00,535.30 L1181.50,535.13 L1182.00,534.95 L1182.50,534.78 L1183.00,534.61 L1183.50,534.44 L1184.00,534.28 L1184.50,534.11 L1185.00,533.95 L1185.50,533.79 L1186.00,533.63 L1186.50,533.48 L1187.00,533.32 L1187.50,533.17 L1188.00,533.01 L1188.50,532.86 L1189.00,532.72 L1189.50,532.57 L1190.00,532.42 L1190.50,532.28 L1191.00,532.14 L1191.50,531.99 L1192.00,531.86 L1192.50,531.72 L1193.00,531.58 L1193.50,531.45 L1194.00,531.31 L1194.50,531.18 L1195.00,531.05 L1195.50,530.92 L1196.00,530.79 L1196.50,530.67 L1197.00,530.54 L1197.50,530.42 L1198.00,530.29 L1198.50,530.17 L1199.00,530.05 L1199.50,529.93 L1200.00,529.82 L1200.50,529.70 L1201.00,529.58 L1201.50,529.47 L1202.00,529.36 L1202.50,529.25 L1203.00,529.14 L1203.50,529.03 L1204.00,528.92 L1204.50,528.81 L1205.00,528.71 L1205.50,528.60 L1206.00,528.50 L1206.50,528.39 L1207.00,528.29 L1207.50,528.19 L1208.00,528.09 L1208.50,527.99 L1209.00,527.90 L1209.50,527.80 L1210.00,527.70 L1210.50,527.61 L1211.00,527.52 L1211.50,527.42 L1212.00,527.33 L1212.50,527.24 L1213.00,527.15 L1213.50,527.06 L1214.00,526.97 L1214.50,526.88 L1215.00,526.80 L1215.50,526.71 L1216.00,526.63 L1216.50,526.54 L1217.00,526.46 L1217.50,526.38 L1218.00,526.29 L1218.50,526.21 L1219.00,526.13 L1219.50,526.05 L1220.00,525.97 L1220.50,525.90 L1221.00,525.82 L1221.50,525.74 L1222.00,525.66 L1222.50,525.59 L1223.00,525.51 L1223.50,525.44 L1224.00,525.37 L1224.50,525.29 L1225.00,525.22 L1225.50,525.15 L1226.00,525.08 L1226.50,525.01 L1227.00,524.94 L1227.50,524.87 L1228.00,524.80 L1228.50,524.73 L1229.00,524.66 L1229.50,524.60 L1230.00,524.53 L1230.50,524.46 L1231.00,524.40 L1231.50,524.33 L1232.00,524.27 L1232.50,524.20 L1233.00,524.14 L1233.50,524.08 L1234.00,524.01 L1234.50,523.95 L1235.00,523.89 L1235.50,523.83 L1236.00,523.77 L1236.50,523.71 L1237.00,523.65 L1237.50,523.59 L1238.00,523.53 L1238.50,523.47 L1239.00,523.41 L1239.50,523.35 L1240.00,523.29 L1240.50,523.23 L1241.00,523.18 L1241.50,523.12 L1242.00,523.06 L1242.50,523.00 L1243.00,522.95 L1243.50,522.89 L1244.00,522.84 L1244.50,522.78 L1245.00,522.73 L1245.50,522.67 L1246.00,522.62 L1246.50,522.56 L1247.00,522.51 L1247.50,522.45 L1248.00,522.40 L1248.50,522.35 L1249.00,522.29 L1249.50,522.24 L1250.00,522.19 L1250.50,522.13 L1251.00,522.08 L1251.50,522.03 L1252.00,521.98 L1252.50,521.92 L1253.00,521.87 L1253.50,521.82 L1254.00,521.77 L1254.50,521.71 L1255.00,521.66 L1255.50,521.61 L1256.00,521.56 L1256.50,521.51 L1257.00,521.46 L1257.50,521.41 L1258.00,521.35 L1258.50,521.30 L1259.00,521.25 L1259.50,521.20 L1260.00,521.15 L1260.50,521.10 L1261.00,521.05 L1261.50,521.00 L1262.00,520.95 L1262.50,520.90 L1263.00,520.84 L1263.50,520.79 L1264.00,520.74 L1264.50,520.69 L1265.00,520.64 L1265.50,520.59 L1266.00,520.54 L1266.50,520.49 L1267.00,520.44 L1267.50,520.38 L1268.00,520.33 L1268.50,520.28 L1269.00,520.23 L1269.50,520.18 L1270.00,520.13 L1270.50,520.07 L1271.00,520.02 L1271.50,519.97 L1272.00,519.92 L1272.50,519.87 L1273.00,519.81 L1273.50,519.76 L1274.00,519.71 L1274.50,519.66 L1275.00,519.60 L1275.50,519.55 L1276.00,519.50 L1276.50,519.44 L1277.00,519.39 L1277.50,519.33 L1278.00,519.28 L1278.50,519.23 L1279.00,519.17 L1279.50,519.12 L1280.00,519.06 L1280.50,519.01 L1281.00,518.95 L1281.50,518.90 L1282.00,518.84 L1282.50,518.78 L1283.00,518.73 L1283.50,518.67 L1284.00,518.61 L1284.50,518.56 L1285.00,518.50 L1285.50,518.44 L1286.00,518.38 L1286.50,518.33 L1287.00,518.27 L1287.50,518.21 L1288.00,518.15 L1288.50,518.09 L1289.00,518.03 L1289.50,517.97 L1290.00,517.91 L1290.50,517.85 L1291.00,517.79 L1291.50,517.72 L1292.00,517.66 L1292.50,517.60 L1293.00,517.54 L1293.50,517.48 L1294.00,517.41 L1294.50,517.35 L1295.00,517.28 L1295.50,517.22 L1296.00,517.15 L1296.50,517.09 L1297.00,517.02 L1297.50,516.96 L1298.00,516.89 L1298.50,516.82 L1299.00,516.76 L1299.50,516.69 L1300.00,516.62 L1300.50,516.55 L1301.00,516.48 L1301.50,516.41 L1302.00,516.34 L1302.50,516.27 L1303.00,516.20 L1303.50,516.13 L1304.00,516.06 L1304.50,515.98" stroke="#f4b3b6" stroke-width="2.6"/>
<path d="M806.00,530.45 L806.50,530.48 L807.00,530.52 L807.50,530.58 L808.00,530.65 L808.50,530.72 L809.00,530.78 L809.50,530.85 L810.00,530.91 L810.50,530.98 L811.00,531.04 L811.50,531.11 L812.00,531.18 L812.50,531.24 L813.00,531.31 L813.50,531.38 L814.00,531.44 L814.50,531.51 L815.00,531.58 L815.50,531.65 L816.00,531.71 L816.50,531.78 L817.00,531.85 L817.50,531.92 L818.00,531.99 L818.50,532.06 L819.00,532.13 L819.50,532.20 L820.00,532.27 L820.50,532.34 L821.00,532.41 L821.50,532.48 L822.00,532.55 L822.50,532.62 L823.00,532.69 L823.50,532.76 L824.00,532.83 L824.50,532.90 L825.00,532.98 L825.50,533.05 L826.00,533.12 L826.50,533.20 L827.00,533.27 L827.50,533.35 L828.00,533.42 L828.50,533.50 L829.00,533.57 L829.50,533.65 L830.00,533.73 L830.50,533.80 L831.00,533.88 L831.50,533.96 L832.00,534.04 L832.50,534.12 L833.00,534.20 L833.50,534.28 L834.00,534.36 L834.50,534.44 L835.00,534.52 L835.50,534.60 L836.00,534.69 L836.50,534.77 L837.00,534.85 L837.50,534.94 L838.00,535.02 L838.50,535.11 L839.00,535.20 L839.50,535.29 L840.00,535.37 L840.50,535.46 L841.00,535.55 L841.50,535.64 L842.00,535.73 L842.50,535.83 L843.00,535.92 L843.50,536.01 L844.00,536.11 L844.50,536.20 L845.00,536.30 L845.50,536.40 L846.00,536.50 L846.50,536.59 L847.00,536.70 L847.50,536.80 L848.00,536.90 L848.50,537.00 L849.00,537.11 L849.50,537.21 L850.00,537.32 L850.50,537.43 L851.00,537.53 L851.50,537.64 L852.00,537.76 L852.50,537.87 L853.00,537.98 L853.50,538.10 L854.00,538.21 L854.50,538.33 L855.00,538.45 L855.50,538.57 L856.00,538.69 L856.50,538.81 L857.00,538.94 L857.50,539.06 L858.00,539.19 L858.50,539.32 L859.00,539.45 L859.50,539.58 L860.00,539.72 L860.50,539.85 L861.00,539.99 L861.50,540.13 L862.00,540.27 L862.50,540.42 L863.00,540.56 L863.50,540.71 L864.00,540.86 L864.50,541.01 L865.00,541.16 L865.50,541.32 L866.00,541.47 L866.50,541.63 L867.00,541.79 L867.50,541.96 L868.00,542.12 L868.50,542.29 L869.00,542.46 L869.50,542.64 L870.00,542.81 L870.50,542.99 L871.00,543.18 L871.50,543.36 L872.00,543.55 L872.50,543.74 L873.00,543.93 L873.50,544.13 L874.00,544.33 L874.50,544.53 L875.00,544.73 L875.50,544.94 L876.00,545.15 L876.50,545.37 L877.00,545.59 L877.50,545.81 L878.00,546.04 L878.50,546.27 L879.00,546.50 L879.50,546.74 L880.00,546.98 L880.50,547.23 L881.00,547.48 L881.50,547.73 L882.00,547.99 L882.50,548.25 L883.00,548.52 L883.50,548.79 L884.00,549.07 L884.50,549.35 L885.00,549.63 L885.50,549.92 L886.00,550.22 L886.50,550.52 L887.00,550.83 L887.50,551.14 L888.00,551.46 L888.50,551.78 L889.00,552.11 L889.50,552.44 L890.00,552.78 L890.50,553.13 L891.00,553.48 L891.50,553.84 L892.00,554.20 L892.50,554.57 L893.00,554.95 L893.50,555.33 L894.00,555.72 L894.50,556.12 L895.00,556.52 L895.50,556.94 L896.00,557.35 L896.50,557.78 L897.00,558.21 L897.50,558.65 L898.00,559.10 L898.50,559.55 L899.00,560.01 L899.50,560.48 L900.00,560.95 L900.50,561.44 L901.00,561.93 L901.50,562.42 L902.00,562.93 L902.50,563.44 L903.00,563.96 L903.50,564.48 L904.00,565.01 L904.50,565.55 L905.00,566.10 L905.50,566.65 L906.00,567.20 L906.50,567.77 L907.00,568.34 L907.50,568.91 L908.00,569.49 L908.50,570.07 L909.00,570.66 L909.50,571.25 L910.00,571.84 L910.50,572.44 L911.00,573.04 L911.50,573.64 L912.00,574.24 L912.50,574.84 L913.00,575.44 L913.50,576.04 L914.00,576.64 L914.50,577.24 L915.00,577.83 L915.50,578.42 L916.00,579.00 L916.50,579.57 L917.00,580.14 L917.50,580.70 L918.00,581.25 L918.50,581.79 L919.00,582.32 L919.50,582.84 L920.00,583.34 L920.50,583.84 L921.00,584.31 L921.50,584.77 L922.00,585.22 L922.50,585.64 L923.00,586.05 L923.50,586.44 L924.00,586.81 L924.50,587.16 L925.00,587.49 L925.50,587.80 L926.00,588.08 L926.50,588.35 L927.00,588.59 L927.50,588.81 L928.00,589.01 L928.50,589.19 L929.00,589.35 L929.50,589.48 L930.00,589.60 L930.50,589.69 L931.00,589.76 L931.50,589.82 L932.00,589.85 L932.50,589.87 L933.00,589.87 L933.50,589.85 L934.00,589.82 L934.50,589.77 L935.00,589.71 L935.50,589.63 L936.00,589.55 L936.50,589.45 L937.00,589.34 L937.50,589.23 L938.00,589.11 L938.50,588.98 L939.00,588.84 L939.50,588.70 L940.00,588.56 L940.50,588.41 L941.00,588.26 L941.50,588.12 L942.00,587.97 L942.50,587.82 L943.00,587.68 L943.50,587.53 L944.00,587.39 L944.50,587.26 L945.00,587.12 L945.50,587.00 L946.00,586.88 L946.50,586.76 L947.00,586.66 L947.50,586.56 L948.00,586.46 L948.50,586.38 L949.00,586.31 L949.50,586.24 L950.00,586.18 L950.50,586.13 L951.00,586.10 L951.50,586.07 L952.00,586.05 L952.50,586.04 L953.00,586.05 L953.50,586.06 L954.00,586.09 L954.50,586.12 L955.00,586.17 L955.50,586.23 L956.00,586.29 L956.50,586.37 L957.00,586.47 L957.50,586.57 L958.00,586.68 L958.50,586.81 L959.00,586.94 L959.50,587.09 L960.00,587.25 L960.50,587.42 L961.00,587.60 L961.50,587.79 L962.00,587.99 L962.50,588.20 L963.00,588.43 L963.50,588.66 L964.00,588.91 L964.50,589.17 L965.00,589.44 L965.50,589.72 L966.00,590.01 L966.50,590.31 L967.00,590.62 L967.50,590.94 L968.00,591.27 L968.50,591.62 L969.00,591.97 L969.50,592.34 L970.00,592.71 L970.50,593.10 L971.00,593.50 L971.50,593.91 L972.00,594.32 L972.50,594.75 L973.00,595.19 L973.50,595.64 L974.00,596.10 L974.50,596.57 L975.00,597.05 L975.50,597.55 L976.00,598.05 L976.50,598.57 L977.00,599.10 L977.50,599.64 L978.00,600.19 L978.50,600.76 L979.00,601.34 L979.50,601.94 L980.00,602.56 L980.50,603.19 L981.00,603.83 L981.50,604.49 L982.00,605.17 L982.50,605.87 L983.00,606.58 L983.50,607.32 L984.00,608.07 L984.50,608.84 L985.00,609.64 L985.50,610.45 L986.00,611.28 L986.50,612.14 L987.00,613.02 L987.50,613.92 L988.00,614.84 L988.50,615.79 L989.00,616.76 L989.50,617.76 L990.00,618.78 L990.50,619.83 L991.00,620.90 L991.50,622.00 L992.00,623.12 L992.50,624.28 L993.00,625.46 L993.50,626.67 L994.00,627.90 L994.50,629.17 L995.00,630.47 L995.50,631.79 L996.00,633.14 L996.50,634.52 L997.00,635.91 L997.50,637.34 L998.00,638.78 L998.50,640.25 L999.00,641.74 L999.50,643.25 L1000.00,644.78 L1000.50,646.32 L1001.00,647.88 L1001.50,649.46 L1002.00,651.05 L1002.50,652.66 L1003.00,654.28 L1003.50,655.91 L1004.00,657.55 L1004.50,659.20 L1005.00,660.85 L1005.50,662.52 L1006.00,664.19 L1006.50,665.87 L1007.00,667.55 L1007.50,669.23 L1008.00,670.91 L1008.50,672.60 L1009.00,674.28 L1009.50,675.96 L1010.00,677.63 L1010.50,679.30 L1011.00,680.97 L1011.50,682.63 L1012.00,684.27 L1012.50,685.91 L1013.00,687.54 L1013.50,689.16 L1014.00,690.76 L1014.50,692.36 L1015.00,693.95 L1015.50,695.53 L1016.00,697.10 L1016.50,698.66 L1017.00,700.20 L1017.50,701.75 L1018.00,703.28 L1018.50,704.80 L1019.00,706.31 L1019.50,707.81 L1020.00,709.30 L1020.50,710.78 L1021.00,712.25 L1021.50,713.71 L1022.00,715.16 L1022.50,716.60 L1023.00,718.03 L1023.50,719.44 L1024.00,720.84 L1024.50,722.23 L1025.00,723.60 L1025.50,724.96 L1026.00,726.31 L1026.50,727.64 L1027.00,728.95 L1027.50,730.25 L1028.00,731.53 L1028.50,732.79 L1029.00,734.04 L1029.50,735.27 L1030.00,736.47 L1030.50,737.66 L1031.00,738.83 L1031.50,739.97 L1032.00,741.09 L1032.50,742.18 L1033.00,743.24 L1033.50,744.27 L1034.00,745.27 L1034.50,746.24 L1035.00,747.17 L1035.50,748.07 L1036.00,748.93 L1036.50,749.75 L1037.00,750.53 L1037.50,751.27 L1038.00,751.97 L1038.50,752.62 L1039.00,753.22 L1039.50,753.78 L1040.00,754.29 L1040.50,754.75 L1041.00,755.16 L1041.50,755.52 L1042.00,755.82 L1042.50,756.07 L1043.00,756.27 L1043.50,756.41 L1044.00,756.50 L1044.50,756.53 L1045.00,756.51 L1045.50,756.42 L1046.00,756.28 L1046.50,756.09 L1047.00,755.85 L1047.50,755.58 L1048.00,755.28 L1048.50,754.93 L1049.00,754.56 L1049.50,754.15 L1050.00,753.72 L1050.50,753.25 L1051.00,752.75 L1051.50,752.23 L1052.00,751.68 L1052.50,751.10 L1053.00,750.50 L1053.50,749.88 L1054.00,749.23 L1054.50,748.57 L1055.00,747.88 L1055.50,747.18 L1056.00,746.46 L1056.50,745.73 L1057.00,744.98 L1057.50,744.22 L1058.00,743.46 L1058.50,742.68 L1059.00,741.89 L1059.50,741.09 L1060.00,740.29 L1060.50,739.47 L1061.00,738.65 L1061.50,737.81 L1062.00,736.97 L1062.50,736.11 L1063.00,735.24 L1063.50,734.36 L1064.00,733.47 L1064.50,732.56 L1065.00,731.64 L1065.50,730.71 L1066.00,729.76 L1066.50,728.80 L1067.00,727.82 L1067.50,726.83 L1068.00,725.82 L1068.50,724.80 L1069.00,723.76 L1069.50,722.71 L1070.00,721.64 L1070.50,720.55 L1071.00,719.45 L1071.50,718.32 L1072.00,717.18 L1072.50,716.03 L1073.00,714.86 L1073.50,713.68 L1074.00,712.48 L1074.50,711.27 L1075.00,710.05 L1075.50,708.82 L1076.00,707.58 L1076.50,706.32 L1077.00,705.06 L1077.50,703.79 L1078.00,702.51 L1078.50,701.22 L1079.00,699.93 L1079.50,698.63 L1080.00,697.32 L1080.50,696.01 L1081.00,694.69 L1081.50,693.37 L1082.00,692.04 L1082.50,690.71 L1083.00,689.38 L1083.50,688.05 L1084.00,686.71 L1084.50,685.37 L1085.00,684.03 L1085.50,682.69 L1086.00,681.35 L1086.50,680.01 L1087.00,678.67 L1087.50,677.33 L1088.00,675.99 L1088.50,674.66 L1089.00,673.32 L1089.50,671.99 L1090.00,670.66 L1090.50,669.33 L1091.00,668.00 L1091.50,666.68 L1092.00,665.37 L1092.50,664.05 L1093.00,662.74 L1093.50,661.44 L1094.00,660.14 L1094.50,658.84 L1095.00,657.55 L1095.50,656.27 L1096.00,654.99 L1096.50,653.71 L1097.00,652.44 L1097.50,651.18 L1098.00,649.93 L1098.50,648.68 L1099.00,647.44 L1099.50,646.20 L1100.00,644.97 L1100.50,643.75 L1101.00,642.54 L1101.50,641.33 L1102.00,640.13 L1102.50,638.94 L1103.00,637.75 L1103.50,636.58 L1104.00,635.41 L1104.50,634.25 L1105.00,633.09 L1105.50,631.95 L1106.00,630.81 L1106.50,629.69 L1107.00,628.57 L1107.50,627.46 L1108.00,626.36 L1108.50,625.26 L1109.00,624.18 L1109.50,623.10 L1110.00,622.04 L1110.50,620.98 L1111.00,619.93 L1111.50,618.89 L1112.00,617.86 L1112.50,616.84 L1113.00,615.83 L1113.50,614.82 L1114.00,613.83 L1114.50,612.85 L1115.00,611.87 L1115.50,610.91 L1116.00,609.95 L1116.50,609.01 L1117.00,608.07 L1117.50,607.14 L1118.00,606.22 L1118.50,605.31 L1119.00,604.41 L1119.50,603.52 L1120.00,602.64 L1120.50,601.77 L1121.00,600.90 L1121.50,600.05 L1122.00,599.20 L1122.50,598.36 L1123.00,597.53 L1123.50,596.71 L1124.00,595.89 L1124.50,595.09 L1125.00,594.29 L1125.50,593.50 L1126.00,592.72 L1126.50,591.95 L1127.00,591.18 L1127.50,590.43 L1128.00,589.68 L1128.50,588.94 L1129.00,588.20 L1129.50,587.48 L1130.00,586.76 L1130.50,586.05 L1131.00,585.34 L1131.50,584.64 L1132.00,583.96 L1132.50,583.27 L1133.00,582.60 L1133.50,581.93 L1134.00,581.27 L1134.50,580.61 L1135.00,579.97 L1135.50,579.33 L1136.00,578.69 L1136.50,578.06 L1137.00,577.44 L1137.50,576.83 L1138.00,576.22 L1138.50,575.62 L1139.00,575.02 L1139.50,574.43 L1140.00,573.85 L1140.50,573.28 L1141.00,572.70 L1141.50,572.14 L1142.00,571.58 L1142.50,571.03 L1143.00,570.48 L1143.50,569.94 L1144.00,569.40 L1144.50,568.87 L1145.00,568.35 L1145.50,567.83 L1146.00,567.32 L1146.50,566.81 L1147.00,566.31 L1147.50,565.81 L1148.00,565.32 L1148.50,564.83 L1149.00,564.35 L1149.50,563.87 L1150.00,563.40 L1150.50,562.93 L1151.00,562.47 L1151.50,562.01 L1152.00,561.56 L1152.50,561.11 L1153.00,560.67 L1153.50,560.23 L1154.00,559.80 L1154.50,559.37 L1155.00,558.94 L1155.50,558.52 L1156.00,558.11 L1156.50,557.70 L1157.00,557.29 L1157.50,556.89 L1158.00,556.49 L1158.50,556.10 L1159.00,555.71 L1159.50,555.32 L1160.00,554.94 L1160.50,554.56 L1161.00,554.19 L1161.50,553.82 L1162.00,553.45 L1162.50,553.09 L1163.00,552.73 L1163.50,552.38 L1164.00,552.02 L1164.50,551.68 L1165.00,551.33 L1165.50,550.99 L1166.00,550.66 L1166.50,550.32 L1167.00,549.99 L1167.50,549.67 L1168.00,549.35 L1168.50,549.03 L1169.00,548.71 L1169.50,548.40 L1170.00,548.09 L1170.50,547.78 L1171.00,547.48 L1171.50,547.18 L1172.00,546.89 L1172.50,546.59 L1173.00,546.30 L1173.50,546.02 L1174.00,545.73 L1174.50,545.45 L1175.00,545.17 L1175.50,544.90 L1176.00,544.62 L1176.50,544.35 L1177.00,544.09 L1177.50,543.82 L1178.00,543.56 L1178.50,543.30 L1179.00,543.05 L1179.50,542.80 L1180.00,542.54 L1180.50,542.30 L1181.00,542.05 L1181.50,541.81 L1182.00,541.57 L1182.50,541.33 L1183.00,541.10 L1183.50,540.86 L1184.00,540.63 L1184.50,540.41 L1185.00,540.18 L1185.50,539.96 L1186.00,539.74 L1186.50,539.52 L1187.00,539.30 L1187.50,539.09 L1188.00,538.88 L1188.50,538.67 L1189.00,538.46 L1189.50,538.25 L1190.00,538.05 L1190.50,537.85 L1191.00,537.65 L1191.50,537.45 L1192.00,537.26 L1192.50,537.07 L1193.00,536.88 L1193.50,536.69 L1194.00,536.50 L1194.50,536.32 L1195.00,536.13 L1195.50,535.95 L1196.00,535.77 L1196.50,535.59 L1197.00,535.42 L1197.50,535.25 L1198.00,535.07 L1198.50,534.90 L1199.00,534.74 L1199.50,534.57 L1200.00,534.40 L1200.50,534.24 L1201.00,534.08 L1201.50,533.92 L1202.00,533.76 L1202.50,533.60 L1203.00,533.45 L1203.50,533.30 L1204.00,533.14 L1204.50,532.99 L1205.00,532.84 L1205.50,532.70 L1206.00,532.55 L1206.50,532.41 L1207.00,532.26 L1207.50,532.12 L1208.00,531.98 L1208.50,531.84 L1209.00,531.71 L1209.50,531.57 L1210.00,531.44 L1210.50,531.30 L1211.00,531.17 L1211.50,531.04 L1212.00,530.91 L1212.50,530.78 L1213.00,530.66 L1213.50,530.53 L1214.00,530.41 L1214.50,530.28 L1215.00,530.16 L1215.50,530.04 L1216.00,529.92 L1216.50,529.80 L1217.00,529.69 L1217.50,529.57 L1218.00,529.46 L1218.50,529.34 L1219.00,529.23 L1219.50,529.12 L1220.00,529.01 L1220.50,528.90 L1221.00,528.79 L1221.50,528.68 L1222.00,528.58 L1222.50,528.47 L1223.00,528.37 L1223.50,528.26 L1224.00,528.16 L1224.50,528.06 L1225.00,527.96 L1225.50,527.86 L1226.00,527.76 L1226.50,527.66 L1227.00,527.57 L1227.50,527.47 L1228.00,527.37 L1228.50,527.28 L1229.00,527.19 L1229.50,527.09 L1230.00,527.00 L1230.50,526.91 L1231.00,526.82 L1231.50,526.73 L1232.00,526.64 L1232.50,526.55 L1233.00,526.47 L1233.50,526.38 L1234.00,526.29 L1234.50,526.21 L1235.00,526.12 L1235.50,526.04 L1236.00,525.96 L1236.50,525.88 L1237.00,525.79 L1237.50,525.71 L1238.00,525.63 L1238.50,525.55 L1239.00,525.47 L1239.50,525.39 L1240.00,525.32 L1240.50,525.24 L1241.00,525.16 L1241.50,525.09 L1242.00,525.01 L1242.50,524.94 L1243.00,524.86 L1243.50,524.79 L1244.00,524.71 L1244.50,524.64 L1245.00,524.57 L1245.50,524.49 L1246.00,524.42 L1246.50,524.35 L1247.00,524.28 L1247.50,524.21 L1248.00,524.14 L1248.50,524.07 L1249.00,524.00 L1249.50,523.93 L1250.00,523.87 L1250.50,523.80 L1251.00,523.73 L1251.50,523.66 L1252.00,523.60 L1252.50,523.53 L1253.00,523.46 L1253.50,523.40 L1254.00,523.33 L1254.50,523.27 L1255.00,523.20 L1255.50,523.14 L1256.00,523.08 L1256.50,523.01 L1257.00,522.95 L1257.50,522.88 L1258.00,522.82 L1258.50,522.76 L1259.00,522.70 L1259.50,522.63 L1260.00,522.57 L1260.50,522.51 L1261.00,522.45 L1261.50,522.39 L1262.00,522.33 L1262.50,522.26 L1263.00,522.20 L1263.50,522.14 L1264.00,522.08 L1264.50,522.02 L1265.00,521.96 L1265.50,521.90 L1266.00,521.84 L1266.50,521.78 L1267.00,521.72 L1267.50,521.66 L1268.00,521.60 L1268.50,521.54 L1269.00,521.48 L1269.50,521.43 L1270.00,521.37 L1270.50,521.31 L1271.00,521.25 L1271.50,521.19 L1272.00,521.13 L1272.50,521.07 L1273.00,521.01 L1273.50,520.95 L1274.00,520.89 L1274.50,520.83 L1275.00,520.78 L1275.50,520.72 L1276.00,520.66 L1276.50,520.60 L1277.00,520.54 L1277.50,520.48 L1278.00,520.42 L1278.50,520.36 L1279.00,520.30 L1279.50,520.24 L1280.00,520.18 L1280.50,520.13 L1281.00,520.07 L1281.50,520.01 L1282.00,519.95 L1282.50,519.89 L1283.00,519.83 L1283.50,519.77 L1284.00,519.71 L1284.50,519.65 L1285.00,519.59 L1285.50,519.52 L1286.00,519.46 L1286.50,519.40 L1287.00,519.34 L1287.50,519.28 L1288.00,519.22 L1288.50,519.16 L1289.00,519.10 L1289.50,519.03 L1290.00,518.97 L1290.50,518.91 L1291.00,518.85 L1291.50,518.78 L1292.00,518.72 L1292.50,518.66 L1293.00,518.59 L1293.50,518.53 L1294.00,518.46 L1294.50,518.40 L1295.00,518.34 L1295.50,518.27 L1296.00,518.20 L1296.50,518.14 L1297.00,518.07 L1297.50,518.01 L1298.00,517.94 L1298.50,517.87 L1299.00,517.81 L1299.50,517.74 L1300.00,517.67 L1300.50,517.60 L1301.00,517.53 L1301.50,517.47 L1302.00,517.40 L1302.50,517.33 L1303.00,517.26 L1303.50,517.19 L1304.00,517.12 L1304.50,517.04" stroke="#ee8489" stroke-width="2.6"/>
<path d="M806.00,532.25 L806.50,532.30 L807.00,532.35 L807.50,532.45 L808.00,532.54 L808.50,532.63 L809.00,532.73 L809.50,532.82 L810.00,532.91 L810.50,533.01 L811.00,533.10 L811.50,533.19 L812.00,533.29 L812.50,533.38 L813.00,533.48 L813.50,533.57 L814.00,533.67 L814.50,533.76 L815.00,533.86 L815.50,533.95 L816.00,534.05 L816.50,534.15 L817.00,534.24 L817.50,534.34 L818.00,534.44 L818.50,534.53 L819.00,534.63 L819.50,534.73 L820.00,534.83 L820.50,534.93 L821.00,535.03 L821.50,535.12 L822.00,535.22 L822.50,535.32 L823.00,535.42 L823.50,535.53 L824.00,535.63 L824.50,535.73 L825.00,535.83 L825.50,535.93 L826.00,536.04 L826.50,536.14 L827.00,536.24 L827.50,536.35 L828.00,536.45 L828.50,536.56 L829.00,536.66 L829.50,536.77 L830.00,536.88 L830.50,536.98 L831.00,537.09 L831.50,537.20 L832.00,537.31 L832.50,537.42 L833.00,537.53 L833.50,537.64 L834.00,537.75 L834.50,537.87 L835.00,537.98 L835.50,538.09 L836.00,538.21 L836.50,538.32 L837.00,538.44 L837.50,538.55 L838.00,538.67 L838.50,538.79 L839.00,538.91 L839.50,539.03 L840.00,539.15 L840.50,539.27 L841.00,539.40 L841.50,539.52 L842.00,539.64 L842.50,539.77 L843.00,539.90 L843.50,540.02 L844.00,540.15 L844.50,540.28 L845.00,540.41 L845.50,540.54 L846.00,540.68 L846.50,540.81 L847.00,540.95 L847.50,541.08 L848.00,541.22 L848.50,541.36 L849.00,541.50 L849.50,541.64 L850.00,541.78 L850.50,541.93 L851.00,542.07 L851.50,542.22 L852.00,542.37 L852.50,542.52 L853.00,542.67 L853.50,542.82 L854.00,542.98 L854.50,543.13 L855.00,543.29 L855.50,543.45 L856.00,543.61 L856.50,543.77 L857.00,543.94 L857.50,544.10 L858.00,544.27 L858.50,544.44 L859.00,544.61 L859.50,544.79 L860.00,544.96 L860.50,545.14 L861.00,545.32 L861.50,545.51 L862.00,545.69 L862.50,545.88 L863.00,546.07 L863.50,546.26 L864.00,546.45 L864.50,546.65 L865.00,546.85 L865.50,547.05 L866.00,547.25 L866.50,547.46 L867.00,547.67 L867.50,547.88 L868.00,548.10 L868.50,548.31 L869.00,548.54 L869.50,548.76 L870.00,548.99 L870.50,549.22 L871.00,549.45 L871.50,549.69 L872.00,549.93 L872.50,550.17 L873.00,550.42 L873.50,550.67 L874.00,550.92 L874.50,551.18 L875.00,551.44 L875.50,551.71 L876.00,551.98 L876.50,552.25 L877.00,552.53 L877.50,552.81 L878.00,553.10 L878.50,553.39 L879.00,553.69 L879.50,553.99 L880.00,554.29 L880.50,554.60 L881.00,554.92 L881.50,555.24 L882.00,555.56 L882.50,555.89 L883.00,556.23 L883.50,556.57 L884.00,556.92 L884.50,557.27 L885.00,557.63 L885.50,557.99 L886.00,558.36 L886.50,558.73 L887.00,559.12 L887.50,559.50 L888.00,559.90 L888.50,560.30 L889.00,560.71 L889.50,561.12 L890.00,561.54 L890.50,561.97 L891.00,562.40 L891.50,562.85 L892.00,563.30 L892.50,563.75 L893.00,564.22 L893.50,564.69 L894.00,565.17 L894.50,565.65 L895.00,566.15 L895.50,566.65 L896.00,567.16 L896.50,567.68 L897.00,568.21 L897.50,568.74 L898.00,569.28 L898.50,569.83 L899.00,570.39 L899.50,570.96 L900.00,571.54 L900.50,572.12 L901.00,572.71 L901.50,573.31 L902.00,573.92 L902.50,574.53 L903.00,575.16 L903.50,575.79 L904.00,576.43 L904.50,577.07 L905.00,577.72 L905.50,578.38 L906.00,579.05 L906.50,579.72 L907.00,580.40 L907.50,581.09 L908.00,581.78 L908.50,582.47 L909.00,583.17 L909.50,583.87 L910.00,584.58 L910.50,585.29 L911.00,586.00 L911.50,586.72 L912.00,587.44 L912.50,588.15 L913.00,588.87 L913.50,589.59 L914.00,590.31 L914.50,591.02 L915.00,591.73 L915.50,592.44 L916.00,593.14 L916.50,593.84 L917.00,594.53 L917.50,595.21 L918.00,595.89 L918.50,596.55 L919.00,597.21 L919.50,597.85 L920.00,598.48 L920.50,599.10 L921.00,599.70 L921.50,600.29 L922.00,600.86 L922.50,601.41 L923.00,601.95 L923.50,602.46 L924.00,602.96 L924.50,603.44 L925.00,603.89 L925.50,604.32 L926.00,604.74 L926.50,605.12 L927.00,605.49 L927.50,605.83 L928.00,606.15 L928.50,606.45 L929.00,606.72 L929.50,606.97 L930.00,607.19 L930.50,607.39 L931.00,607.57 L931.50,607.73 L932.00,607.87 L932.50,607.98 L933.00,608.08 L933.50,608.16 L934.00,608.21 L934.50,608.25 L935.00,608.28 L935.50,608.29 L936.00,608.28 L936.50,608.26 L937.00,608.22 L937.50,608.17 L938.00,608.11 L938.50,608.04 L939.00,607.95 L939.50,607.86 L940.00,607.76 L940.50,607.64 L941.00,607.53 L941.50,607.40 L942.00,607.27 L942.50,607.13 L943.00,606.99 L943.50,606.85 L944.00,606.70 L944.50,606.55 L945.00,606.40 L945.50,606.25 L946.00,606.10 L946.50,605.94 L947.00,605.79 L947.50,605.63 L948.00,605.48 L948.50,605.33 L949.00,605.18 L949.50,605.03 L950.00,604.88 L950.50,604.73 L951.00,604.59 L951.50,604.45 L952.00,604.32 L952.50,604.18 L953.00,604.06 L953.50,603.93 L954.00,603.82 L954.50,603.71 L955.00,603.60 L955.50,603.51 L956.00,603.42 L956.50,603.34 L957.00,603.26 L957.50,603.20 L958.00,603.14 L958.50,603.09 L959.00,603.06 L959.50,603.03 L960.00,603.01 L960.50,603.00 L961.00,603.00 L961.50,603.01 L962.00,603.04 L962.50,603.07 L963.00,603.11 L963.50,603.17 L964.00,603.24 L964.50,603.32 L965.00,603.41 L965.50,603.51 L966.00,603.63 L966.50,603.76 L967.00,603.90 L967.50,604.05 L968.00,604.22 L968.50,604.40 L969.00,604.59 L969.50,604.80 L970.00,605.02 L970.50,605.26 L971.00,605.51 L971.50,605.77 L972.00,606.05 L972.50,606.34 L973.00,606.65 L973.50,606.97 L974.00,607.31 L974.50,607.66 L975.00,608.03 L975.50,608.41 L976.00,608.81 L976.50,609.23 L977.00,609.66 L977.50,610.11 L978.00,610.57 L978.50,611.05 L979.00,611.55 L979.50,612.07 L980.00,612.60 L980.50,613.15 L981.00,613.72 L981.50,614.31 L982.00,614.91 L982.50,615.54 L983.00,616.18 L983.50,616.84 L984.00,617.52 L984.50,618.22 L985.00,618.93 L985.50,619.67 L986.00,620.43 L986.50,621.21 L987.00,622.00 L987.50,622.82 L988.00,623.66 L988.50,624.52 L989.00,625.40 L989.50,626.30 L990.00,627.22 L990.50,628.17 L991.00,629.13 L991.50,630.12 L992.00,631.13 L992.50,632.17 L993.00,633.22 L993.50,634.30 L994.00,635.40 L994.50,636.52 L995.00,637.66 L995.50,638.82 L996.00,640.00 L996.50,641.19 L997.00,642.41 L997.50,643.64 L998.00,644.89 L998.50,646.15 L999.00,647.43 L999.50,648.73 L1000.00,650.03 L1000.50,651.35 L1001.00,652.69 L1001.50,654.03 L1002.00,655.39 L1002.50,656.75 L1003.00,658.13 L1003.50,659.51 L1004.00,660.90 L1004.50,662.30 L1005.00,663.71 L1005.50,665.12 L1006.00,666.54 L1006.50,667.96 L1007.00,669.39 L1007.50,670.82 L1008.00,672.25 L1008.50,673.68 L1009.00,675.11 L1009.50,676.54 L1010.00,677.98 L1010.50,679.40 L1011.00,680.83 L1011.50,682.25 L1012.00,683.68 L1012.50,685.09 L1013.00,686.51 L1013.50,687.91 L1014.00,689.32 L1014.50,690.72 L1015.00,692.11 L1015.50,693.50 L1016.00,694.88 L1016.50,696.25 L1017.00,697.62 L1017.50,698.98 L1018.00,700.33 L1018.50,701.67 L1019.00,703.00 L1019.50,704.32 L1020.00,705.63 L1020.50,706.93 L1021.00,708.22 L1021.50,709.49 L1022.00,710.76 L1022.50,712.01 L1023.00,713.25 L1023.50,714.47 L1024.00,715.69 L1024.50,716.89 L1025.00,718.07 L1025.50,719.24 L1026.00,720.40 L1026.50,721.54 L1027.00,722.67 L1027.50,723.78 L1028.00,724.88 L1028.50,725.96 L1029.00,727.03 L1029.50,728.07 L1030.00,729.10 L1030.50,730.11 L1031.00,731.11 L1031.50,732.08 L1032.00,733.04 L1032.50,733.97 L1033.00,734.89 L1033.50,735.78 L1034.00,736.66 L1034.50,737.51 L1035.00,738.34 L1035.50,739.14 L1036.00,739.93 L1036.50,740.69 L1037.00,741.42 L1037.50,742.13 L1038.00,742.82 L1038.50,743.48 L1039.00,744.11 L1039.50,744.72 L1040.00,745.30 L1040.50,745.85 L1041.00,746.37 L1041.50,746.87 L1042.00,747.33 L1042.50,747.77 L1043.00,748.18 L1043.50,748.56 L1044.00,748.91 L1044.50,749.22 L1045.00,749.51 L1045.50,749.77 L1046.00,749.99 L1046.50,750.18 L1047.00,750.35 L1047.50,750.47 L1048.00,750.57 L1048.50,750.64 L1049.00,750.67 L1049.50,750.68 L1050.00,750.65 L1050.50,750.58 L1051.00,750.49 L1051.50,750.37 L1052.00,750.21 L1052.50,750.02 L1053.00,749.81 L1053.50,749.56 L1054.00,749.30 L1054.50,749.02 L1055.00,748.71 L1055.50,748.39 L1056.00,748.06 L1056.50,747.70 L1057.00,747.34 L1057.50,746.95 L1058.00,746.56 L1058.50,746.15 L1059.00,745.72 L1059.50,745.29 L1060.00,744.85 L1060.50,744.39 L1061.00,743.93 L1061.50,743.46 L1062.00,742.98 L1062.50,742.49 L1063.00,742.00 L1063.50,741.51 L1064.00,741.01 L1064.50,740.50 L1065.00,739.99 L1065.50,739.47 L1066.00,738.95 L1066.50,738.42 L1067.00,737.88 L1067.50,737.33 L1068.00,736.78 L1068.50,736.22 L1069.00,735.65 L1069.50,735.07 L1070.00,734.49 L1070.50,733.89 L1071.00,733.29 L1071.50,732.67 L1072.00,732.05 L1072.50,731.41 L1073.00,730.77 L1073.50,730.11 L1074.00,729.44 L1074.50,728.77 L1075.00,728.08 L1075.50,727.38 L1076.00,726.66 L1076.50,725.94 L1077.00,725.20 L1077.50,724.45 L1078.00,723.69 L1078.50,722.91 L1079.00,722.13 L1079.50,721.32 L1080.00,720.51 L1080.50,719.69 L1081.00,718.85 L1081.50,718.00 L1082.00,717.14 L1082.50,716.27 L1083.00,715.38 L1083.50,714.49 L1084.00,713.59 L1084.50,712.68 L1085.00,711.75 L1085.50,710.82 L1086.00,709.88 L1086.50,708.93 L1087.00,707.97 L1087.50,707.00 L1088.00,706.03 L1088.50,705.04 L1089.00,704.05 L1089.50,703.05 L1090.00,702.04 L1090.50,701.03 L1091.00,700.00 L1091.50,698.97 L1092.00,697.93 L1092.50,696.89 L1093.00,695.84 L1093.50,694.78 L1094.00,693.71 L1094.50,692.64 L1095.00,691.56 L1095.50,690.47 L1096.00,689.38 L1096.50,688.28 L1097.00,687.17 L1097.50,686.06 L1098.00,684.94 L1098.50,683.81 L1099.00,682.68 L1099.50,681.54 L1100.00,680.39 L1100.50,679.24 L1101.00,678.08 L1101.50,676.91 L1102.00,675.74 L1102.50,674.56 L1103.00,673.37 L1103.50,672.18 L1104.00,670.98 L1104.50,669.77 L1105.00,668.55 L1105.50,667.33 L1106.00,666.10 L1106.50,664.87 L1107.00,663.63 L1107.50,662.38 L1108.00,661.13 L1108.50,659.88 L1109.00,658.62 L1109.50,657.35 L1110.00,656.08 L1110.50,654.81 L1111.00,653.54 L1111.50,652.26 L1112.00,650.98 L1112.50,649.69 L1113.00,648.41 L1113.50,647.12 L1114.00,645.83 L1114.50,644.53 L1115.00,643.24 L1115.50,641.94 L1116.00,640.65 L1116.50,639.35 L1117.00,638.05 L1117.50,636.75 L1118.00,635.46 L1118.50,634.16 L1119.00,632.88 L1119.50,631.59 L1120.00,630.31 L1120.50,629.04 L1121.00,627.78 L1121.50,626.53 L1122.00,625.28 L1122.50,624.05 L1123.00,622.83 L1123.50,621.62 L1124.00,620.42 L1124.50,619.25 L1125.00,618.08 L1125.50,616.94 L1126.00,615.81 L1126.50,614.70 L1127.00,613.61 L1127.50,612.53 L1128.00,611.47 L1128.50,610.43 L1129.00,609.40 L1129.50,608.39 L1130.00,607.40 L1130.50,606.42 L1131.00,605.45 L1131.50,604.50 L1132.00,603.56 L1132.50,602.63 L1133.00,601.72 L1133.50,600.82 L1134.00,599.93 L1134.50,599.05 L1135.00,598.19 L1135.50,597.33 L1136.00,596.49 L1136.50,595.65 L1137.00,594.83 L1137.50,594.01 L1138.00,593.21 L1138.50,592.41 L1139.00,591.62 L1139.50,590.84 L1140.00,590.07 L1140.50,589.30 L1141.00,588.55 L1141.50,587.80 L1142.00,587.06 L1142.50,586.33 L1143.00,585.61 L1143.50,584.90 L1144.00,584.19 L1144.50,583.49 L1145.00,582.80 L1145.50,582.12 L1146.00,581.45 L1146.50,580.78 L1147.00,580.12 L1147.50,579.47 L1148.00,578.82 L1148.50,578.18 L1149.00,577.55 L1149.50,576.93 L1150.00,576.31 L1150.50,575.70 L1151.00,575.10 L1151.50,574.50 L1152.00,573.91 L1152.50,573.33 L1153.00,572.76 L1153.50,572.19 L1154.00,571.62 L1154.50,571.07 L1155.00,570.52 L1155.50,569.97 L1156.00,569.43 L1156.50,568.90 L1157.00,568.37 L1157.50,567.85 L1158.00,567.34 L1158.50,566.83 L1159.00,566.33 L1159.50,565.83 L1160.00,565.34 L1160.50,564.85 L1161.00,564.37 L1161.50,563.90 L1162.00,563.43 L1162.50,562.96 L1163.00,562.50 L1163.50,562.05 L1164.00,561.60 L1164.50,561.15 L1165.00,560.71 L1165.50,560.28 L1166.00,559.85 L1166.50,559.42 L1167.00,559.00 L1167.50,558.58 L1168.00,558.17 L1168.50,557.76 L1169.00,557.36 L1169.50,556.96 L1170.00,556.57 L1170.50,556.18 L1171.00,555.79 L1171.50,555.41 L1172.00,555.03 L1172.50,554.65 L1173.00,554.28 L1173.50,553.92 L1174.00,553.55 L1174.50,553.19 L1175.00,552.84 L1175.50,552.49 L1176.00,552.14 L1176.50,551.79 L1177.00,551.45 L1177.50,551.11 L1178.00,550.78 L1178.50,550.45 L1179.00,550.12 L1179.50,549.79 L1180.00,549.47 L1180.50,549.15 L1181.00,548.84 L1181.50,548.53 L1182.00,548.22 L1182.50,547.91 L1183.00,547.61 L1183.50,547.31 L1184.00,547.02 L1184.50,546.72 L1185.00,546.43 L1185.50,546.14 L1186.00,545.86 L1186.50,545.58 L1187.00,545.30 L1187.50,545.02 L1188.00,544.75 L1188.50,544.48 L1189.00,544.21 L1189.50,543.95 L1190.00,543.69 L1190.50,543.43 L1191.00,543.17 L1191.50,542.92 L1192.00,542.67 L1192.50,542.42 L1193.00,542.17 L1193.50,541.93 L1194.00,541.69 L1194.50,541.45 L1195.00,541.21 L1195.50,540.98 L1196.00,540.74 L1196.50,540.52 L1197.00,540.29 L1197.50,540.06 L1198.00,539.84 L1198.50,539.62 L1199.00,539.40 L1199.50,539.19 L1200.00,538.98 L1200.50,538.76 L1201.00,538.56 L1201.50,538.35 L1202.00,538.14 L1202.50,537.94 L1203.00,537.74 L1203.50,537.54 L1204.00,537.35 L1204.50,537.15 L1205.00,536.96 L1205.50,536.77 L1206.00,536.58 L1206.50,536.39 L1207.00,536.21 L1207.50,536.03 L1208.00,535.85 L1208.50,535.67 L1209.00,535.49 L1209.50,535.31 L1210.00,535.14 L1210.50,534.97 L1211.00,534.80 L1211.50,534.63 L1212.00,534.46 L1212.50,534.30 L1213.00,534.14 L1213.50,533.97 L1214.00,533.81 L1214.50,533.66 L1215.00,533.50 L1215.50,533.34 L1216.00,533.19 L1216.50,533.04 L1217.00,532.89 L1217.50,532.74 L1218.00,532.59 L1218.50,532.45 L1219.00,532.30 L1219.50,532.16 L1220.00,532.02 L1220.50,531.88 L1221.00,531.74 L1221.50,531.60 L1222.00,531.47 L1222.50,531.33 L1223.00,531.20 L1223.50,531.07 L1224.00,530.94 L1224.50,530.81 L1225.00,530.68 L1225.50,530.56 L1226.00,530.43 L1226.50,530.31 L1227.00,530.18 L1227.50,530.06 L1228.00,529.94 L1228.50,529.82 L1229.00,529.70 L1229.50,529.59 L1230.00,529.47 L1230.50,529.36 L1231.00,529.25 L1231.50,529.13 L1232.00,529.02 L1232.50,528.91 L1233.00,528.80 L1233.50,528.70 L1234.00,528.59 L1234.50,528.48 L1235.00,528.38 L1235.50,528.27 L1236.00,528.17 L1236.50,528.07 L1237.00,527.97 L1237.50,527.87 L1238.00,527.77 L1238.50,527.67 L1239.00,527.58 L1239.50,527.48 L1240.00,527.39 L1240.50,527.29 L1241.00,527.20 L1241.50,527.11 L1242.00,527.01 L1242.50,526.92 L1243.00,526.83 L1243.50,526.74 L1244.00,526.66 L1244.50,526.57 L1245.00,526.48 L1245.50,526.40 L1246.00,526.31 L1246.50,526.23 L1247.00,526.14 L1247.50,526.06 L1248.00,525.98 L1248.50,525.90 L1249.00,525.81 L1249.50,525.73 L1250.00,525.66 L1250.50,525.58 L1251.00,525.50 L1251.50,525.42 L1252.00,525.34 L1252.50,525.27 L1253.00,525.19 L1253.50,525.12 L1254.00,525.04 L1254.50,524.97 L1255.00,524.90 L1255.50,524.82 L1256.00,524.75 L1256.50,524.68 L1257.00,524.61 L1257.50,524.54 L1258.00,524.47 L1258.50,524.40 L1259.00,524.33 L1259.50,524.26 L1260.00,524.19 L1260.50,524.13 L1261.00,524.06 L1261.50,523.99 L1262.00,523.93 L1262.50,523.86 L1263.00,523.80 L1263.50,523.73 L1264.00,523.67 L1264.50,523.60 L1265.00,523.54 L1265.50,523.48 L1266.00,523.41 L1266.50,523.35 L1267.00,523.29 L1267.50,523.23 L1268.00,523.17 L1268.50,523.11 L1269.00,523.05 L1269.50,522.98 L1270.00,522.92 L1270.50,522.87 L1271.00,522.81 L1271.50,522.75 L1272.00,522.69 L1272.50,522.63 L1273.00,522.57 L1273.50,522.51 L1274.00,522.45 L1274.50,522.40 L1275.00,522.34 L1275.50,522.28 L1276.00,522.23 L1276.50,522.17 L1277.00,522.11 L1277.50,522.06 L1278.00,522.00 L1278.50,521.94 L1279.00,521.89 L1279.50,521.83 L1280.00,521.78 L1280.50,521.72 L1281.00,521.67 L1281.50,521.61 L1282.00,521.56 L1282.50,521.50 L1283.00,521.45 L1283.50,521.39 L1284.00,521.34 L1284.50,521.28 L1285.00,521.23 L1285.50,521.17 L1286.00,521.12 L1286.50,521.07 L1287.00,521.01 L1287.50,520.96 L1288.00,520.90 L1288.50,520.85 L1289.00,520.80 L1289.50,520.74 L1290.00,520.69 L1290.50,520.63 L1291.00,520.58 L1291.50,520.53 L1292.00,520.47 L1292.50,520.42 L1293.00,520.36 L1293.50,520.31 L1294.00,520.26 L1294.50,520.20 L1295.00,520.15 L1295.50,520.09 L1296.00,520.04 L1296.50,519.98 L1297.00,519.93 L1297.50,519.87 L1298.00,519.82 L1298.50,519.76 L1299.00,519.71 L1299.50,519.65 L1300.00,519.60 L1300.50,519.54 L1301.00,519.49 L1301.50,519.43 L1302.00,519.38 L1302.50,519.32 L1303.00,519.26 L1303.50,519.21 L1304.00,519.15 L1304.50,519.09" stroke="#e8525a" stroke-width="2.6"/>
<path d="M806.00,534.09 L806.50,534.15 L807.00,534.20 L807.50,534.33 L808.00,534.47 L808.50,534.60 L809.00,534.73 L809.50,534.86 L810.00,534.99 L810.50,535.13 L811.00,535.26 L811.50,535.39 L812.00,535.52 L812.50,535.65 L813.00,535.78 L813.50,535.91 L814.00,536.04 L814.50,536.17 L815.00,536.30 L815.50,536.43 L816.00,536.56 L816.50,536.69 L817.00,536.82 L817.50,536.95 L818.00,537.08 L818.50,537.20 L819.00,537.33 L819.50,537.46 L820.00,537.59 L820.50,537.72 L821.00,537.85 L821.50,537.98 L822.00,538.11 L822.50,538.24 L823.00,538.37 L823.50,538.50 L824.00,538.63 L824.50,538.76 L825.00,538.89 L825.50,539.02 L826.00,539.15 L826.50,539.28 L827.00,539.41 L827.50,539.54 L828.00,539.67 L828.50,539.80 L829.00,539.93 L829.50,540.07 L830.00,540.20 L830.50,540.33 L831.00,540.46 L831.50,540.60 L832.00,540.73 L832.50,540.87 L833.00,541.00 L833.50,541.14 L834.00,541.27 L834.50,541.41 L835.00,541.55 L835.50,541.68 L836.00,541.82 L836.50,541.96 L837.00,542.10 L837.50,542.24 L838.00,542.38 L838.50,542.52 L839.00,542.67 L839.50,542.81 L840.00,542.95 L840.50,543.10 L841.00,543.24 L841.50,543.39 L842.00,543.54 L842.50,543.68 L843.00,543.83 L843.50,543.98 L844.00,544.14 L844.50,544.29 L845.00,544.44 L845.50,544.60 L846.00,544.75 L846.50,544.91 L847.00,545.07 L847.50,545.23 L848.00,545.39 L848.50,545.55 L849.00,545.71 L849.50,545.88 L850.00,546.04 L850.50,546.21 L851.00,546.38 L851.50,546.55 L852.00,546.72 L852.50,546.89 L853.00,547.07 L853.50,547.25 L854.00,547.43 L854.50,547.61 L855.00,547.79 L855.50,547.97 L856.00,548.16 L856.50,548.35 L857.00,548.54 L857.50,548.73 L858.00,548.93 L858.50,549.12 L859.00,549.32 L859.50,549.52 L860.00,549.73 L860.50,549.93 L861.00,550.14 L861.50,550.35 L862.00,550.57 L862.50,550.78 L863.00,551.00 L863.50,551.23 L864.00,551.45 L864.50,551.68 L865.00,551.91 L865.50,552.14 L866.00,552.38 L866.50,552.62 L867.00,552.87 L867.50,553.11 L868.00,553.36 L868.50,553.62 L869.00,553.88 L869.50,554.14 L870.00,554.40 L870.50,554.67 L871.00,554.94 L871.50,555.22 L872.00,555.50 L872.50,555.79 L873.00,556.08 L873.50,556.37 L874.00,556.67 L874.50,556.98 L875.00,557.28 L875.50,557.60 L876.00,557.92 L876.50,558.24 L877.00,558.57 L877.50,558.90 L878.00,559.24 L878.50,559.59 L879.00,559.94 L879.50,560.30 L880.00,560.66 L880.50,561.03 L881.00,561.40 L881.50,561.79 L882.00,562.17 L882.50,562.57 L883.00,562.97 L883.50,563.38 L884.00,563.80 L884.50,564.22 L885.00,564.65 L885.50,565.09 L886.00,565.53 L886.50,565.99 L887.00,566.45 L887.50,566.92 L888.00,567.40 L888.50,567.89 L889.00,568.38 L889.50,568.89 L890.00,569.40 L890.50,569.93 L891.00,570.46 L891.50,571.00 L892.00,571.55 L892.50,572.12 L893.00,572.69 L893.50,573.27 L894.00,573.86 L894.50,574.47 L895.00,575.08 L895.50,575.71 L896.00,576.34 L896.50,576.99 L897.00,577.65 L897.50,578.32 L898.00,579.00 L898.50,579.69 L899.00,580.40 L899.50,581.11 L900.00,581.84 L900.50,582.58 L901.00,583.33 L901.50,584.09 L902.00,584.87 L902.50,585.65 L903.00,586.45 L903.50,587.26 L904.00,588.08 L904.50,588.91 L905.00,589.76 L905.50,590.61 L906.00,591.47 L906.50,592.35 L907.00,593.23 L907.50,594.13 L908.00,595.03 L908.50,595.94 L909.00,596.86 L909.50,597.78 L910.00,598.72 L910.50,599.66 L911.00,600.60 L911.50,601.55 L912.00,602.50 L912.50,603.46 L913.00,604.41 L913.50,605.37 L914.00,606.33 L914.50,607.28 L915.00,608.23 L915.50,609.18 L916.00,610.12 L916.50,611.05 L917.00,611.98 L917.50,612.89 L918.00,613.80 L918.50,614.69 L919.00,615.57 L919.50,616.43 L920.00,617.28 L920.50,618.11 L921.00,618.91 L921.50,619.70 L922.00,620.46 L922.50,621.20 L923.00,621.91 L923.50,622.60 L924.00,623.25 L924.50,623.88 L925.00,624.47 L925.50,625.04 L926.00,625.57 L926.50,626.06 L927.00,626.52 L927.50,626.95 L928.00,627.34 L928.50,627.70 L929.00,628.02 L929.50,628.31 L930.00,628.56 L930.50,628.78 L931.00,628.96 L931.50,629.10 L932.00,629.22 L932.50,629.30 L933.00,629.35 L933.50,629.38 L934.00,629.37 L934.50,629.34 L935.00,629.28 L935.50,629.20 L936.00,629.09 L936.50,628.97 L937.00,628.82 L937.50,628.66 L938.00,628.48 L938.50,628.28 L939.00,628.08 L939.50,627.85 L940.00,627.62 L940.50,627.38 L941.00,627.12 L941.50,626.86 L942.00,626.59 L942.50,626.32 L943.00,626.03 L943.50,625.75 L944.00,625.46 L944.50,625.17 L945.00,624.88 L945.50,624.58 L946.00,624.29 L946.50,623.99 L947.00,623.70 L947.50,623.40 L948.00,623.11 L948.50,622.82 L949.00,622.53 L949.50,622.25 L950.00,621.96 L950.50,621.68 L951.00,621.40 L951.50,621.13 L952.00,620.85 L952.50,620.58 L953.00,620.31 L953.50,620.05 L954.00,619.78 L954.50,619.53 L955.00,619.28 L955.50,619.03 L956.00,618.79 L956.50,618.56 L957.00,618.33 L957.50,618.11 L958.00,617.90 L958.50,617.70 L959.00,617.51 L959.50,617.32 L960.00,617.15 L960.50,616.98 L961.00,616.83 L961.50,616.68 L962.00,616.55 L962.50,616.42 L963.00,616.31 L963.50,616.21 L964.00,616.12 L964.50,616.05 L965.00,615.98 L965.50,615.93 L966.00,615.89 L966.50,615.86 L967.00,615.85 L967.50,615.85 L968.00,615.86 L968.50,615.89 L969.00,615.93 L969.50,615.98 L970.00,616.05 L970.50,616.14 L971.00,616.24 L971.50,616.35 L972.00,616.48 L972.50,616.62 L973.00,616.79 L973.50,616.96 L974.00,617.16 L974.50,617.37 L975.00,617.59 L975.50,617.84 L976.00,618.10 L976.50,618.38 L977.00,618.68 L977.50,618.99 L978.00,619.32 L978.50,619.67 L979.00,620.05 L979.50,620.43 L980.00,620.84 L980.50,621.27 L981.00,621.72 L981.50,622.19 L982.00,622.68 L982.50,623.18 L983.00,623.71 L983.50,624.27 L984.00,624.84 L984.50,625.43 L985.00,626.05 L985.50,626.69 L986.00,627.35 L986.50,628.03 L987.00,628.74 L987.50,629.47 L988.00,630.22 L988.50,631.00 L989.00,631.80 L989.50,632.62 L990.00,633.47 L990.50,634.35 L991.00,635.24 L991.50,636.16 L992.00,637.10 L992.50,638.06 L993.00,639.05 L993.50,640.05 L994.00,641.07 L994.50,642.12 L995.00,643.18 L995.50,644.26 L996.00,645.35 L996.50,646.47 L997.00,647.60 L997.50,648.75 L998.00,649.91 L998.50,651.09 L999.00,652.28 L999.50,653.49 L1000.00,654.71 L1000.50,655.94 L1001.00,657.19 L1001.50,658.44 L1002.00,659.71 L1002.50,660.99 L1003.00,662.28 L1003.50,663.58 L1004.00,664.88 L1004.50,666.19 L1005.00,667.51 L1005.50,668.83 L1006.00,670.16 L1006.50,671.49 L1007.00,672.82 L1007.50,674.15 L1008.00,675.49 L1008.50,676.82 L1009.00,678.15 L1009.50,679.48 L1010.00,680.81 L1010.50,682.14 L1011.00,683.46 L1011.50,684.78 L1012.00,686.10 L1012.50,687.41 L1013.00,688.72 L1013.50,690.02 L1014.00,691.32 L1014.50,692.61 L1015.00,693.90 L1015.50,695.18 L1016.00,696.46 L1016.50,697.73 L1017.00,698.99 L1017.50,700.24 L1018.00,701.49 L1018.50,702.72 L1019.00,703.95 L1019.50,705.17 L1020.00,706.38 L1020.50,707.58 L1021.00,708.76 L1021.50,709.94 L1022.00,711.10 L1022.50,712.26 L1023.00,713.40 L1023.50,714.53 L1024.00,715.65 L1024.50,716.75 L1025.00,717.84 L1025.50,718.92 L1026.00,719.98 L1026.50,721.03 L1027.00,722.07 L1027.50,723.09 L1028.00,724.09 L1028.50,725.08 L1029.00,726.06 L1029.50,727.01 L1030.00,727.95 L1030.50,728.88 L1031.00,729.78 L1031.50,730.66 L1032.00,731.53 L1032.50,732.38 L1033.00,733.21 L1033.50,734.01 L1034.00,734.80 L1034.50,735.57 L1035.00,736.31 L1035.50,737.03 L1036.00,737.73 L1036.50,738.41 L1037.00,739.06 L1037.50,739.69 L1038.00,740.29 L1038.50,740.87 L1039.00,741.43 L1039.50,741.95 L1040.00,742.46 L1040.50,742.93 L1041.00,743.38 L1041.50,743.80 L1042.00,744.19 L1042.50,744.55 L1043.00,744.89 L1043.50,745.20 L1044.00,745.49 L1044.50,745.75 L1045.00,745.99 L1045.50,746.21 L1046.00,746.41 L1046.50,746.58 L1047.00,746.74 L1047.50,746.88 L1048.00,747.00 L1048.50,747.11 L1049.00,747.20 L1049.50,747.27 L1050.00,747.33 L1050.50,747.38 L1051.00,747.41 L1051.50,747.44 L1052.00,747.46 L1052.50,747.47 L1053.00,747.47 L1053.50,747.46 L1054.00,747.45 L1054.50,747.44 L1055.00,747.42 L1055.50,747.40 L1056.00,747.38 L1056.50,747.37 L1057.00,747.35 L1057.50,747.32 L1058.00,747.30 L1058.50,747.29 L1059.00,747.28 L1059.50,747.28 L1060.00,747.28 L1060.50,747.28 L1061.00,747.29 L1061.50,747.29 L1062.00,747.30 L1062.50,747.30 L1063.00,747.31 L1063.50,747.31 L1064.00,747.30 L1064.50,747.30 L1065.00,747.29 L1065.50,747.27 L1066.00,747.25 L1066.50,747.22 L1067.00,747.19 L1067.50,747.14 L1068.00,747.09 L1068.50,747.02 L1069.00,746.95 L1069.50,746.87 L1070.00,746.77 L1070.50,746.67 L1071.00,746.55 L1071.50,746.42 L1072.00,746.28 L1072.50,746.13 L1073.00,745.96 L1073.50,745.78 L1074.00,745.58 L1074.50,745.37 L1075.00,745.15 L1075.50,744.91 L1076.00,744.66 L1076.50,744.39 L1077.00,744.11 L1077.50,743.81 L1078.00,743.49 L1078.50,743.16 L1079.00,742.81 L1079.50,742.44 L1080.00,742.05 L1080.50,741.65 L1081.00,741.23 L1081.50,740.79 L1082.00,740.33 L1082.50,739.85 L1083.00,739.35 L1083.50,738.83 L1084.00,738.29 L1084.50,737.73 L1085.00,737.15 L1085.50,736.55 L1086.00,735.93 L1086.50,735.29 L1087.00,734.62 L1087.50,733.93 L1088.00,733.23 L1088.50,732.50 L1089.00,731.75 L1089.50,730.99 L1090.00,730.20 L1090.50,729.40 L1091.00,728.58 L1091.50,727.73 L1092.00,726.88 L1092.50,726.00 L1093.00,725.10 L1093.50,724.19 L1094.00,723.26 L1094.50,722.32 L1095.00,721.36 L1095.50,720.38 L1096.00,719.39 L1096.50,718.38 L1097.00,717.36 L1097.50,716.32 L1098.00,715.26 L1098.50,714.20 L1099.00,713.11 L1099.50,712.02 L1100.00,710.91 L1100.50,709.79 L1101.00,708.65 L1101.50,707.50 L1102.00,706.34 L1102.50,705.16 L1103.00,703.98 L1103.50,702.78 L1104.00,701.57 L1104.50,700.35 L1105.00,699.11 L1105.50,697.87 L1106.00,696.61 L1106.50,695.34 L1107.00,694.07 L1107.50,692.78 L1108.00,691.48 L1108.50,690.17 L1109.00,688.85 L1109.50,687.52 L1110.00,686.19 L1110.50,684.84 L1111.00,683.49 L1111.50,682.13 L1112.00,680.76 L1112.50,679.38 L1113.00,678.00 L1113.50,676.62 L1114.00,675.23 L1114.50,673.83 L1115.00,672.43 L1115.50,671.03 L1116.00,669.63 L1116.50,668.22 L1117.00,666.81 L1117.50,665.40 L1118.00,663.99 L1118.50,662.58 L1119.00,661.16 L1119.50,659.75 L1120.00,658.34 L1120.50,656.93 L1121.00,655.53 L1121.50,654.12 L1122.00,652.72 L1122.50,651.33 L1123.00,649.93 L1123.50,648.54 L1124.00,647.16 L1124.50,645.78 L1125.00,644.41 L1125.50,643.04 L1126.00,641.68 L1126.50,640.32 L1127.00,638.98 L1127.50,637.64 L1128.00,636.31 L1128.50,634.99 L1129.00,633.68 L1129.50,632.37 L1130.00,631.08 L1130.50,629.80 L1131.00,628.53 L1131.50,627.27 L1132.00,626.02 L1132.50,624.78 L1133.00,623.56 L1133.50,622.35 L1134.00,621.15 L1134.50,619.97 L1135.00,618.80 L1135.50,617.65 L1136.00,616.51 L1136.50,615.38 L1137.00,614.28 L1137.50,613.18 L1138.00,612.11 L1138.50,611.04 L1139.00,610.00 L1139.50,608.96 L1140.00,607.95 L1140.50,606.94 L1141.00,605.95 L1141.50,604.98 L1142.00,604.02 L1142.50,603.07 L1143.00,602.13 L1143.50,601.21 L1144.00,600.30 L1144.50,599.41 L1145.00,598.53 L1145.50,597.66 L1146.00,596.80 L1146.50,595.96 L1147.00,595.12 L1147.50,594.30 L1148.00,593.50 L1148.50,592.70 L1149.00,591.91 L1149.50,591.14 L1150.00,590.38 L1150.50,589.62 L1151.00,588.88 L1151.50,588.15 L1152.00,587.43 L1152.50,586.72 L1153.00,586.02 L1153.50,585.33 L1154.00,584.65 L1154.50,583.97 L1155.00,583.31 L1155.50,582.66 L1156.00,582.01 L1156.50,581.38 L1157.00,580.75 L1157.50,580.13 L1158.00,579.52 L1158.50,578.92 L1159.00,578.32 L1159.50,577.73 L1160.00,577.15 L1160.50,576.58 L1161.00,576.01 L1161.50,575.45 L1162.00,574.90 L1162.50,574.35 L1163.00,573.81 L1163.50,573.28 L1164.00,572.75 L1164.50,572.23 L1165.00,571.71 L1165.50,571.20 L1166.00,570.69 L1166.50,570.19 L1167.00,569.69 L1167.50,569.20 L1168.00,568.71 L1168.50,568.23 L1169.00,567.75 L1169.50,567.28 L1170.00,566.81 L1170.50,566.34 L1171.00,565.88 L1171.50,565.42 L1172.00,564.96 L1172.50,564.51 L1173.00,564.06 L1173.50,563.62 L1174.00,563.18 L1174.50,562.74 L1175.00,562.31 L1175.50,561.88 L1176.00,561.46 L1176.50,561.04 L1177.00,560.62 L1177.50,560.21 L1178.00,559.80 L1178.50,559.39 L1179.00,558.99 L1179.50,558.59 L1180.00,558.20 L1180.50,557.81 L1181.00,557.42 L1181.50,557.03 L1182.00,556.65 L1182.50,556.27 L1183.00,555.90 L1183.50,555.53 L1184.00,555.16 L1184.50,554.80 L1185.00,554.43 L1185.50,554.08 L1186.00,553.72 L1186.50,553.37 L1187.00,553.02 L1187.50,552.67 L1188.00,552.33 L1188.50,551.99 L1189.00,551.66 L1189.50,551.32 L1190.00,550.99 L1190.50,550.67 L1191.00,550.34 L1191.50,550.02 L1192.00,549.70 L1192.50,549.39 L1193.00,549.07 L1193.50,548.76 L1194.00,548.46 L1194.50,548.15 L1195.00,547.85 L1195.50,547.55 L1196.00,547.26 L1196.50,546.96 L1197.00,546.67 L1197.50,546.39 L1198.00,546.10 L1198.50,545.82 L1199.00,545.54 L1199.50,545.26 L1200.00,544.99 L1200.50,544.71 L1201.00,544.44 L1201.50,544.18 L1202.00,543.91 L1202.50,543.65 L1203.00,543.39 L1203.50,543.13 L1204.00,542.88 L1204.50,542.62 L1205.00,542.37 L1205.50,542.13 L1206.00,541.88 L1206.50,541.64 L1207.00,541.40 L1207.50,541.16 L1208.00,540.92 L1208.50,540.69 L1209.00,540.45 L1209.50,540.22 L1210.00,540.00 L1210.50,539.77 L1211.00,539.55 L1211.50,539.32 L1212.00,539.11 L1212.50,538.89 L1213.00,538.67 L1213.50,538.46 L1214.00,538.25 L1214.50,538.04 L1215.00,537.83 L1215.50,537.63 L1216.00,537.42 L1216.50,537.22 L1217.00,537.02 L1217.50,536.83 L1218.00,536.63 L1218.50,536.44 L1219.00,536.24 L1219.50,536.05 L1220.00,535.87 L1220.50,535.68 L1221.00,535.50 L1221.50,535.31 L1222.00,535.13 L1222.50,534.95 L1223.00,534.78 L1223.50,534.60 L1224.00,534.43 L1224.50,534.25 L1225.00,534.08 L1225.50,533.91 L1226.00,533.75 L1226.50,533.58 L1227.00,533.42 L1227.50,533.25 L1228.00,533.09 L1228.50,532.93 L1229.00,532.78 L1229.50,532.62 L1230.00,532.47 L1230.50,532.31 L1231.00,532.16 L1231.50,532.01 L1232.00,531.86 L1232.50,531.72 L1233.00,531.57 L1233.50,531.43 L1234.00,531.28 L1234.50,531.14 L1235.00,531.00 L1235.50,530.86 L1236.00,530.73 L1236.50,530.59 L1237.00,530.46 L1237.50,530.32 L1238.00,530.19 L1238.50,530.06 L1239.00,529.93 L1239.50,529.81 L1240.00,529.68 L1240.50,529.56 L1241.00,529.43 L1241.50,529.31 L1242.00,529.19 L1242.50,529.07 L1243.00,528.95 L1243.50,528.83 L1244.00,528.72 L1244.50,528.60 L1245.00,528.49 L1245.50,528.37 L1246.00,528.26 L1246.50,528.15 L1247.00,528.04 L1247.50,527.93 L1248.00,527.83 L1248.50,527.72 L1249.00,527.62 L1249.50,527.51 L1250.00,527.41 L1250.50,527.31 L1251.00,527.21 L1251.50,527.11 L1252.00,527.01 L1252.50,526.91 L1253.00,526.82 L1253.50,526.72 L1254.00,526.63 L1254.50,526.54 L1255.00,526.44 L1255.50,526.35 L1256.00,526.26 L1256.50,526.17 L1257.00,526.08 L1257.50,526.00 L1258.00,525.91 L1258.50,525.82 L1259.00,525.74 L1259.50,525.66 L1260.00,525.57 L1260.50,525.49 L1261.00,525.41 L1261.50,525.33 L1262.00,525.25 L1262.50,525.17 L1263.00,525.10 L1263.50,525.02 L1264.00,524.94 L1264.50,524.87 L1265.00,524.80 L1265.50,524.72 L1266.00,524.65 L1266.50,524.58 L1267.00,524.51 L1267.50,524.44 L1268.00,524.37 L1268.50,524.30 L1269.00,524.23 L1269.50,524.16 L1270.00,524.10 L1270.50,524.03 L1271.00,523.97 L1271.50,523.90 L1272.00,523.84 L1272.50,523.78 L1273.00,523.72 L1273.50,523.66 L1274.00,523.60 L1274.50,523.54 L1275.00,523.48 L1275.50,523.42 L1276.00,523.36 L1276.50,523.30 L1277.00,523.25 L1277.50,523.19 L1278.00,523.14 L1278.50,523.08 L1279.00,523.03 L1279.50,522.97 L1280.00,522.92 L1280.50,522.87 L1281.00,522.82 L1281.50,522.77 L1282.00,522.72 L1282.50,522.67 L1283.00,522.62 L1283.50,522.57 L1284.00,522.52 L1284.50,522.47 L1285.00,522.43 L1285.50,522.38 L1286.00,522.34 L1286.50,522.29 L1287.00,522.25 L1287.50,522.20 L1288.00,522.16 L1288.50,522.12 L1289.00,522.07 L1289.50,522.03 L1290.00,521.99 L1290.50,521.95 L1291.00,521.91 L1291.50,521.87 L1292.00,521.83 L1292.50,521.79 L1293.00,521.75 L1293.50,521.71 L1294.00,521.67 L1294.50,521.64 L1295.00,521.60 L1295.50,521.56 L1296.00,521.53 L1296.50,521.49 L1297.00,521.46 L1297.50,521.42 L1298.00,521.39 L1298.50,521.35 L1299.00,521.32 L1299.50,521.29 L1300.00,521.25 L1300.50,521.22 L1301.00,521.19 L1301.50,521.16 L1302.00,521.12 L1302.50,521.09 L1303.00,521.06 L1303.50,521.03 L1304.00,521.00 L1304.50,520.97" stroke="#e01b24" stroke-width="2.6"/>
</g>
<defs><linearGradient id="gOr" x1="0" x2="1" y1="0" y2="0"><stop offset="0" stop-color="#fffbd0" stop-opacity="0.3"/><stop offset="0.35" stop-color="#fff200"/><stop offset="0.7" stop-color="#fcc800"/><stop offset="1" stop-color="#f39000"/></linearGradient><linearGradient id="gPink" x1="0" x2="0" y1="0" y2="1"><stop offset="0" stop-color="#f8b8bc"/><stop offset="1" stop-color="#f0888e"/></linearGradient><linearGradient id="gPinkD" x1="0" x2="0" y1="0" y2="1"><stop offset="0" stop-color="#f6a4aa"/><stop offset="0.7" stop-color="#f4a8ae"/><stop offset="1" stop-color="#f8c4c8"/></linearGradient><linearGradient id="gGreen" x1="0" x2="0" y1="0" y2="1"><stop offset="0" stop-color="#58b058"/><stop offset="1" stop-color="#7cc67c"/></linearGradient><linearGradient id="gRedDn" x1="0" x2="0" y1="0" y2="1"><stop offset="0" stop-color="#ffffff" stop-opacity="0.2"/><stop offset="0.6" stop-color="#f04a58"/><stop offset="1" stop-color="#e01830"/></linearGradient><linearGradient id="gRedUp" x1="0" x2="0" y1="1" y2="0"><stop offset="0" stop-color="#ffffff"/><stop offset="0.55" stop-color="#f47080"/><stop offset="1" stop-color="#ee3444"/></linearGradient><linearGradient id="gRedDbl" x1="0" x2="1" y1="0" y2="0"><stop offset="0" stop-color="#f88e92"/><stop offset="0.5" stop-color="#e8101e"/><stop offset="1" stop-color="#f88e92"/></linearGradient></defs>
<path d="M272.6,352.95 L324.2,352.95 L324.2,347.2 L344.2,356.7 L324.2,366.2 L324.2,360.45 L272.6,360.45 Z" fill="url(#gOr)"/>
<path d="M300.8,810.85 L353.3,810.85 L353.3,805.1 L373.3,814.6 L353.3,824.1 L353.3,818.35 L300.8,818.35 Z" fill="url(#gOr)"/>
<path d="M1111,738.85 L1161.2,738.85 L1161.2,732.6 L1181.2,742.6 L1161.2,752.6 L1161.2,746.35 L1111,746.35 Z" fill="url(#gOr)"/>
<path d="M968.5,128.4 L968.5,154 L961.8,154 L970.8,173 L979.8,154 L973.0999999999999,154 L973.0999999999999,128.4 Z" fill="url(#gPink)"/>
<path d="M929.25,641 L929.25,666.6 L923.0,666.6 L932,684.6 L941.0,666.6 L934.75,666.6 L934.75,641 Z" fill="url(#gPinkD)"/>
<path d="M1057.1000000000001,99.2 L1057.1000000000001,125.19999999999999 L1050.7,125.19999999999999 L1060.2,143.7 L1069.7,125.19999999999999 L1063.3,125.19999999999999 L1063.3,99.2 Z" fill="url(#gGreen)"/>
<path d="M1056.9,764.9 L1056.9,790.0 L1050.7,790.0 L1060.2,808.5 L1069.7,790.0 L1063.5,790.0 L1063.5,764.9 Z" fill="url(#gGreen)"/>
<line x1="529.2" y1="278.5" x2="577.9" y2="278.5" stroke="#111111" stroke-width="2.8"/>
<text x="584" y="285.7" font-size="19.6" font-weight="bold">1.31</text>
<line x1="529.2" y1="304.8" x2="577.9" y2="304.8" stroke="#a8d2ea" stroke-width="2.8"/>
<text x="584" y="312.0" font-size="19.6" font-weight="bold">1.32</text>
<line x1="529.2" y1="331.1" x2="577.9" y2="331.1" stroke="#8cc6e6" stroke-width="2.8"/>
<text x="584" y="338.3" font-size="19.6" font-weight="bold">1.33</text>
<line x1="529.2" y1="357.4" x2="577.9" y2="357.4" stroke="#62b6e2" stroke-width="2.8"/>
<text x="584" y="364.6" font-size="19.6" font-weight="bold">1.34</text>
<line x1="529.2" y1="383.7" x2="577.9" y2="383.7" stroke="#2ea6dc" stroke-width="2.8"/>
<text x="584" y="390.9" font-size="19.6" font-weight="bold">1.35</text>
<line x1="529.2" y1="410.0" x2="577.9" y2="410.0" stroke="#1896cc" stroke-width="2.8"/>
<text x="584" y="417.2" font-size="19.6" font-weight="bold">1.36</text>
<line x1="528" y1="762.3" x2="576.5" y2="762.3" stroke="#111111" stroke-width="2.8"/>
<text x="583" y="769.5" font-size="19.6" font-weight="bold">1.31</text>
<line x1="528" y1="788.6" x2="576.5" y2="788.6" stroke="#ecc4c4" stroke-width="2.8"/>
<text x="583" y="795.9" font-size="19.6" font-weight="bold">1.32</text>
<line x1="528" y1="815.0" x2="576.5" y2="815.0" stroke="#f0a4a8" stroke-width="2.8"/>
<text x="583" y="822.2" font-size="19.6" font-weight="bold">1.33</text>
<line x1="528" y1="841.3" x2="576.5" y2="841.3" stroke="#f07278" stroke-width="2.8"/>
<text x="583" y="848.5" font-size="19.6" font-weight="bold">1.34</text>
<line x1="528" y1="867.7" x2="576.5" y2="867.7" stroke="#da525c" stroke-width="2.8"/>
<text x="583" y="874.9" font-size="19.6" font-weight="bold">1.35</text>
<line x1="528" y1="894.0" x2="576.5" y2="894.0" stroke="#cc3a40" stroke-width="2.8"/>
<text x="583" y="901.2" font-size="19.6" font-weight="bold">1.36</text>
<line x1="1211.8" y1="50.4" x2="1259.6" y2="50.4" stroke="#111111" stroke-width="2.8"/>
<text x="1265.5" y="58.6" font-size="23.5" font-weight="bold">Air</text>
<line x1="1211.8" y1="83.4" x2="1259.6" y2="83.4" stroke="#b4c8dc" stroke-width="2.8"/>
<text x="1265.5" y="90.6" font-size="22.5" font-family="Liberation Serif, serif" stroke="#000" stroke-width="0.35">&#954;</text>
<line x1="1211.8" y1="116.4" x2="1259.6" y2="116.4" stroke="#88a8c8" stroke-width="2.8"/>
<text x="1265.5" y="123.6" font-size="22.5" font-family="Liberation Serif, serif" stroke="#000" stroke-width="0.35">2&#954;</text>
<line x1="1211.8" y1="149.7" x2="1259.6" y2="149.7" stroke="#5888c0" stroke-width="2.8"/>
<text x="1265.5" y="156.9" font-size="22.5" font-family="Liberation Serif, serif" stroke="#000" stroke-width="0.35">3&#954;</text>
<line x1="1211.8" y1="182.8" x2="1259.6" y2="182.8" stroke="#1f6cc0" stroke-width="2.8"/>
<text x="1265.5" y="190.0" font-size="22.5" font-family="Liberation Serif, serif" stroke="#000" stroke-width="0.35">4&#954;</text>
<line x1="1206.2" y1="566.6" x2="1254.7" y2="566.6" stroke="#111111" stroke-width="2.8"/>
<text x="1260" y="574.8" font-size="23.5" font-weight="bold">Air</text>
<line x1="1206.2" y1="600" x2="1254.7" y2="600" stroke="#f0b8b8" stroke-width="2.8"/>
<text x="1260" y="607.2" font-size="22.5" font-family="Liberation Serif, serif" stroke="#000" stroke-width="0.35">&#954;</text>
<line x1="1206.2" y1="633.2" x2="1254.7" y2="633.2" stroke="#ee8a8e" stroke-width="2.8"/>
<text x="1260" y="640.4" font-size="22.5" font-family="Liberation Serif, serif" stroke="#000" stroke-width="0.35">2&#954;</text>
<line x1="1206.2" y1="666.1" x2="1254.7" y2="666.1" stroke="#e8505a" stroke-width="2.8"/>
<text x="1260" y="673.3" font-size="22.5" font-family="Liberation Serif, serif" stroke="#000" stroke-width="0.35">3&#954;</text>
<line x1="1206.2" y1="698.9" x2="1254.7" y2="698.9" stroke="#e01b24" stroke-width="2.8"/>
<text x="1260" y="706.1" font-size="22.5" font-family="Liberation Serif, serif" stroke="#000" stroke-width="0.35">4&#954;</text>
<defs><radialGradient id="gC" cx="0.38" cy="0.3" r="0.75"><stop offset="0" stop-color="#c8c8c8"/><stop offset="0.3" stop-color="#7a7a7a"/><stop offset="0.8" stop-color="#4a4a4a"/><stop offset="1" stop-color="#2e2e2e"/></radialGradient><radialGradient id="gN" cx="0.38" cy="0.3" r="0.75"><stop offset="0" stop-color="#8ab0ea"/><stop offset="0.35" stop-color="#3d6cbc"/><stop offset="0.8" stop-color="#274f98"/><stop offset="1" stop-color="#1b3a78"/></radialGradient><radialGradient id="gO" cx="0.4" cy="0.3" r="0.75"><stop offset="0" stop-color="#ff8a8a"/><stop offset="0.3" stop-color="#ee1418"/><stop offset="0.8" stop-color="#c80a10"/><stop offset="1" stop-color="#8e0408"/></radialGradient><radialGradient id="gH" cx="0.4" cy="0.3" r="0.75"><stop offset="0" stop-color="#ffffff"/><stop offset="0.45" stop-color="#dedede"/><stop offset="0.85" stop-color="#a8a8a8"/><stop offset="1" stop-color="#808080"/></radialGradient><linearGradient id="gArc" x1="0" x2="0" y1="0" y2="1"><stop offset="0" stop-color="#9ad8a8" stop-opacity="0.7"/><stop offset="0.5" stop-color="#2fae52"/><stop offset="1" stop-color="#9ad8a8" stop-opacity="0.7"/></linearGradient></defs>
<g stroke-linecap="round">
<line x1="923.8" y1="188.4" x2="957.1" y2="234.2" stroke="#4a7cc8" stroke-width="3.4"/>
<line x1="925" y1="404.5" x2="956.1" y2="357.7" stroke="#4a7cc8" stroke-width="3.4"/>
<line x1="930.2" y1="296.6" x2="957.1" y2="234.2" stroke="#3f70c0" stroke-width="4.4"/>
<line x1="930.2" y1="296.6" x2="956.1" y2="357.7" stroke="#3f70c0" stroke-width="4.4"/>
<line x1="876" y1="283" x2="915" y2="288" stroke="#6ea2dc" stroke-width="2" opacity="0.85"/>
<line x1="876" y1="289" x2="915" y2="292" stroke="#6ea2dc" stroke-width="2" opacity="0.85"/>
<line x1="876" y1="295" x2="915" y2="296" stroke="#6ea2dc" stroke-width="2" opacity="0.85"/>
<line x1="876" y1="301" x2="915" y2="300" stroke="#6ea2dc" stroke-width="2" opacity="0.85"/>
<line x1="876" y1="307" x2="915" y2="304" stroke="#6ea2dc" stroke-width="2" opacity="0.85"/>
<line x1="975" y1="229.7" x2="1006" y2="229.7" stroke="#5a4a58" stroke-width="3.6"/>
<line x1="975" y1="238.7" x2="1006" y2="238.7" stroke="#5a4a58" stroke-width="3.6"/>
<line x1="990" y1="229.7" x2="1006" y2="229.7" stroke="#d84050" stroke-width="3.6" opacity="0.6"/>
<line x1="990" y1="238.7" x2="1006" y2="238.7" stroke="#d84050" stroke-width="3.6" opacity="0.6"/>
</g>
<circle cx="1047" cy="234.2" r="27" fill="#e04850" opacity="0.28"/>
<circle cx="1040" cy="234.2" r="27" fill="#d02830" opacity="0.35"/>
<circle cx="1018" cy="234.2" r="27" fill="#e85058" opacity="0.3"/>
<circle cx="1031.7" cy="234.2" r="27.1" fill="url(#gO)"/>
<circle cx="867" cy="279.5" r="15" fill="#e8e8e8" opacity="0.6"/>
<circle cx="868.3" cy="313.4" r="15" fill="#e4e4e4" opacity="0.6"/>
<circle cx="865" cy="295.5" r="15.6" fill="url(#gH)"/>
<circle cx="957.1" cy="234.2" r="20.3" fill="url(#gC)"/>
<circle cx="956.1" cy="357.7" r="20.6" fill="url(#gC)"/>
<circle cx="930.2" cy="296.6" r="22.1" fill="url(#gN)"/>
<text x="956" y="229.5" font-size="17.5" font-weight="bold" text-anchor="middle" fill="#fff" stroke="#2a2a2a" stroke-width="1.6" paint-order="stroke">C</text>
<text x="952" y="352" font-size="17.5" font-weight="bold" text-anchor="middle" fill="#fff" stroke="#2a2a2a" stroke-width="1.6" paint-order="stroke">C</text>
<text x="928" y="291.5" font-size="17" font-weight="bold" text-anchor="middle" fill="#eef4ff" stroke="#1c3c80" stroke-width="1.2" paint-order="stroke">N</text>
<text x="1031.7" y="221.6" font-size="16.5" font-weight="bold" text-anchor="middle" fill="#fff" stroke="#900" stroke-width="1.2" paint-order="stroke">O</text>
<text x="862.5" y="300" font-size="17" font-weight="bold" text-anchor="middle" fill="#555">H</text>
<path d="M850,264 A35.5,35.5 0 0 0 850,331" fill="none" stroke="url(#gArc)" stroke-width="5.5"/>
<path d="M860,253 L840.5,257 L850.5,269.5 Z" fill="#9cd8a8" opacity="0.85"/>
<path d="M861,342.5 L841,339 L851.5,326 Z" fill="#9cd8a8" opacity="0.85"/>
<path d="M989.3,191.9 L1008,183.2 L1008,188.9 L1050.3,188.9 L1050.3,183.2 L1068.9,191.9 L1050.3,200.6 L1050.3,194.9 L1008,194.9 L1008,200.6 Z" fill="url(#gRedDbl)" opacity="0.9"/>
<rect x="1117.6" y="334.9" width="176.9000000000001" height="42.30000000000001" fill="#ffff00"/>
<rect x="1117.6" y="377.2" width="176.9000000000001" height="17.100000000000023" fill="#4472c4"/>
<rect x="1156.2" y="372" width="99.29999999999995" height="5.699999999999989" fill="#4472c4"/>
<rect x="1156.2" y="356" width="99.29999999999995" height="16" fill="#bfbfc2"/>
<rect x="1117.6" y="394.3" width="176.9000000000001" height="15.099999999999966" fill="#bfbfbf"/>
<rect x="1110.7" y="821.7" width="176.0" height="41.89999999999998" fill="#ffff00"/>
<rect x="1110.7" y="863.6" width="176.0" height="16.600000000000023" fill="#4472c4"/>
<rect x="1148.8" y="858.6" width="98.60000000000014" height="5.5" fill="#4472c4"/>
<rect x="1148.8" y="842.6" width="98.60000000000014" height="16.0" fill="#bfbfc2"/>
<rect x="1110.7" y="880.2" width="176.0" height="15.699999999999932" fill="#bfbfbf"/>
<path d="M1202.5,318.6 L1202.5,334.1 L1197.7,334.1 L1204.2,347.1 L1210.7,334.1 L1205.9,334.1 L1205.9,318.6 Z" fill="url(#gRedDn)"/>
<path d="M1217.8999999999999,346.3 L1217.8999999999999,326.7 L1213.1,326.7 L1219.6,313.7 L1226.1,326.7 L1221.3,326.7 L1221.3,346.3 Z" fill="url(#gRedUp)"/>
<path d="M1195.2,804.8 L1195.2,820.5 L1190.65,820.5 L1196.9,833.8 L1203.15,820.5 L1198.6000000000001,820.5 L1198.6000000000001,804.8 Z" fill="url(#gRedDn)"/>
<path d="M1210.1,834.6 L1210.1,813.9 L1205.1,813.9 L1211.8,800.6 L1218.5,813.9 L1213.5,813.9 L1213.5,834.6 Z" fill="url(#gRedUp)"/>
<text x="1254" y="291" font-size="21" font-style="italic" fill="#000" stroke="#000" stroke-width="0.7">E</text>
<circle cx="1260.3" cy="315.3" r="15.2" fill="none" stroke="#000" stroke-width="2.6"/>
<circle cx="1260.3" cy="315.3" r="5.6" fill="#000"/>
<text x="1253.5" y="795.7" font-size="21" font-style="italic" fill="#000" stroke="#000" stroke-width="0.7">E</text>
<path d="M1239.1,802.5999999999999 L1277,802.5999999999999 L1277,798.8 L1288,804.3 L1277,809.8 L1277,806.0 L1239.1,806.0 Z" fill="#000"/>
<rect x="128" y="19.7" width="498" height="400.6" fill="none" stroke="#000" stroke-width="2.2"/>
<line x1="120" y1="420.30" x2="128" y2="420.30" stroke="#000" stroke-width="2"/>
<line x1="123.5" y1="370.23" x2="128" y2="370.23" stroke="#000" stroke-width="2"/>
<line x1="120" y1="320.15" x2="128" y2="320.15" stroke="#000" stroke-width="2"/>
<line x1="123.5" y1="270.07" x2="128" y2="270.07" stroke="#000" stroke-width="2"/>
<line x1="120" y1="220.00" x2="128" y2="220.00" stroke="#000" stroke-width="2"/>
<line x1="123.5" y1="169.93" x2="128" y2="169.93" stroke="#000" stroke-width="2"/>
<line x1="120" y1="119.85" x2="128" y2="119.85" stroke="#000" stroke-width="2"/>
<line x1="123.5" y1="69.77" x2="128" y2="69.77" stroke="#000" stroke-width="2"/>
<line x1="120" y1="19.70" x2="128" y2="19.70" stroke="#000" stroke-width="2"/>
<line x1="128.00" y1="420.3" x2="128.00" y2="427.8" stroke="#000" stroke-width="2"/>
<line x1="294.00" y1="420.3" x2="294.00" y2="427.8" stroke="#000" stroke-width="2"/>
<line x1="460.00" y1="420.3" x2="460.00" y2="427.8" stroke="#000" stroke-width="2"/>
<line x1="626.00" y1="420.3" x2="626.00" y2="427.8" stroke="#000" stroke-width="2"/>
<line x1="211.00" y1="420.3" x2="211.00" y2="424.8" stroke="#000" stroke-width="2"/>
<line x1="377.00" y1="420.3" x2="377.00" y2="424.8" stroke="#000" stroke-width="2"/>
<line x1="543.00" y1="420.3" x2="543.00" y2="424.8" stroke="#000" stroke-width="2"/>
<text x="113.6" y="428.90" text-anchor="end" font-size="24" font-weight="bold">0.00</text>
<text x="113.6" y="328.75" text-anchor="end" font-size="24" font-weight="bold">0.25</text>
<text x="113.6" y="228.60" text-anchor="end" font-size="24" font-weight="bold">0.50</text>
<text x="113.6" y="128.45" text-anchor="end" font-size="24" font-weight="bold">0.75</text>
<text x="113.6" y="28.30" text-anchor="end" font-size="24" font-weight="bold">1.00</text>
<text x="128.00" y="452.6" text-anchor="middle" font-size="24" font-weight="bold">1.0</text>
<text x="294.00" y="452.6" text-anchor="middle" font-size="24" font-weight="bold">1.5</text>
<text x="460.00" y="452.6" text-anchor="middle" font-size="24" font-weight="bold">2.0</text>
<text x="626.00" y="452.6" text-anchor="middle" font-size="24" font-weight="bold">2.5</text>
<text transform="translate(58,220.00) rotate(-90)" text-anchor="middle" font-size="26.6" font-weight="bold">Reflectance</text>
<text x="261" y="481.3" font-size="26.3" font-weight="bold">Wavelength <tspan font-weight="normal">(</tspan><tspan font-weight="normal" dx="1">&#956;</tspan><tspan dx="1">m</tspan><tspan font-weight="normal" dx="1.5">)</tspan></text>
<text x="1" y="33.5" font-size="42" font-weight="bold">(A)</text>
<rect x="806" y="19.7" width="498" height="400.6" fill="none" stroke="#000" stroke-width="2.2"/>
<line x1="798" y1="420.30" x2="806" y2="420.30" stroke="#000" stroke-width="2"/>
<line x1="801.5" y1="370.23" x2="806" y2="370.23" stroke="#000" stroke-width="2"/>
<line x1="798" y1="320.15" x2="806" y2="320.15" stroke="#000" stroke-width="2"/>
<line x1="801.5" y1="270.07" x2="806" y2="270.07" stroke="#000" stroke-width="2"/>
<line x1="798" y1="220.00" x2="806" y2="220.00" stroke="#000" stroke-width="2"/>
<line x1="801.5" y1="169.93" x2="806" y2="169.93" stroke="#000" stroke-width="2"/>
<line x1="798" y1="119.85" x2="806" y2="119.85" stroke="#000" stroke-width="2"/>
<line x1="801.5" y1="69.77" x2="806" y2="69.77" stroke="#000" stroke-width="2"/>
<line x1="798" y1="19.70" x2="806" y2="19.70" stroke="#000" stroke-width="2"/>
<line x1="806.00" y1="420.3" x2="806.00" y2="427.8" stroke="#000" stroke-width="2"/>
<line x1="889.00" y1="420.3" x2="889.00" y2="427.8" stroke="#000" stroke-width="2"/>
<line x1="972.00" y1="420.3" x2="972.00" y2="427.8" stroke="#000" stroke-width="2"/>
<line x1="1055.00" y1="420.3" x2="1055.00" y2="427.8" stroke="#000" stroke-width="2"/>
<line x1="1138.00" y1="420.3" x2="1138.00" y2="427.8" stroke="#000" stroke-width="2"/>
<line x1="1221.00" y1="420.3" x2="1221.00" y2="427.8" stroke="#000" stroke-width="2"/>
<line x1="1304.00" y1="420.3" x2="1304.00" y2="427.8" stroke="#000" stroke-width="2"/>
<line x1="847.50" y1="420.3" x2="847.50" y2="424.8" stroke="#000" stroke-width="2"/>
<line x1="930.50" y1="420.3" x2="930.50" y2="424.8" stroke="#000" stroke-width="2"/>
<line x1="1013.50" y1="420.3" x2="1013.50" y2="424.8" stroke="#000" stroke-width="2"/>
<line x1="1096.50" y1="420.3" x2="1096.50" y2="424.8" stroke="#000" stroke-width="2"/>
<line x1="1179.50" y1="420.3" x2="1179.50" y2="424.8" stroke="#000" stroke-width="2"/>
<line x1="1262.50" y1="420.3" x2="1262.50" y2="424.8" stroke="#000" stroke-width="2"/>
<text x="791.6" y="428.90" text-anchor="end" font-size="24" font-weight="bold">0.00</text>
<text x="791.6" y="328.75" text-anchor="end" font-size="24" font-weight="bold">0.25</text>
<text x="791.6" y="228.60" text-anchor="end" font-size="24" font-weight="bold">0.50</text>
<text x="791.6" y="128.45" text-anchor="end" font-size="24" font-weight="bold">0.75</text>
<text x="791.6" y="28.30" text-anchor="end" font-size="24" font-weight="bold">1.00</text>
<text x="806.00" y="452.6" text-anchor="middle" font-size="24" font-weight="bold">5.0</text>
<text x="889.00" y="452.6" text-anchor="middle" font-size="24" font-weight="bold">5.5</text>
<text x="972.00" y="452.6" text-anchor="middle" font-size="24" font-weight="bold">6.0</text>
<text x="1055.00" y="452.6" text-anchor="middle" font-size="24" font-weight="bold">6.5</text>
<text x="1138.00" y="452.6" text-anchor="middle" font-size="24" font-weight="bold">7.0</text>
<text x="1221.00" y="452.6" text-anchor="middle" font-size="24" font-weight="bold">7.5</text>
<text x="1304.00" y="452.6" text-anchor="middle" font-size="24" font-weight="bold">8.0</text>
<text transform="translate(736,220.00) rotate(-90)" text-anchor="middle" font-size="26.6" font-weight="bold">Reflectance</text>
<text x="940" y="481.3" font-size="26.3" font-weight="bold">Wavelength <tspan font-weight="normal">(</tspan><tspan font-weight="normal" dx="1">&#956;</tspan><tspan dx="1">m</tspan><tspan font-weight="normal" dx="1.5">)</tspan></text>
<text x="680.5" y="33.5" font-size="42" font-weight="bold">(B)</text>
<rect x="127.5" y="503.7" width="498.0" height="400.59999999999997" fill="none" stroke="#000" stroke-width="2.2"/>
<line x1="119.5" y1="904.30" x2="127.5" y2="904.30" stroke="#000" stroke-width="2"/>
<line x1="123.0" y1="854.22" x2="127.5" y2="854.22" stroke="#000" stroke-width="2"/>
<line x1="119.5" y1="804.15" x2="127.5" y2="804.15" stroke="#000" stroke-width="2"/>
<line x1="123.0" y1="754.07" x2="127.5" y2="754.07" stroke="#000" stroke-width="2"/>
<line x1="119.5" y1="704.00" x2="127.5" y2="704.00" stroke="#000" stroke-width="2"/>
<line x1="123.0" y1="653.92" x2="127.5" y2="653.92" stroke="#000" stroke-width="2"/>
<line x1="119.5" y1="603.85" x2="127.5" y2="603.85" stroke="#000" stroke-width="2"/>
<line x1="123.0" y1="553.77" x2="127.5" y2="553.77" stroke="#000" stroke-width="2"/>
<line x1="119.5" y1="503.70" x2="127.5" y2="503.70" stroke="#000" stroke-width="2"/>
<line x1="127.50" y1="904.3" x2="127.50" y2="911.8" stroke="#000" stroke-width="2"/>
<line x1="293.50" y1="904.3" x2="293.50" y2="911.8" stroke="#000" stroke-width="2"/>
<line x1="459.50" y1="904.3" x2="459.50" y2="911.8" stroke="#000" stroke-width="2"/>
<line x1="625.50" y1="904.3" x2="625.50" y2="911.8" stroke="#000" stroke-width="2"/>
<line x1="210.50" y1="904.3" x2="210.50" y2="908.8" stroke="#000" stroke-width="2"/>
<line x1="376.50" y1="904.3" x2="376.50" y2="908.8" stroke="#000" stroke-width="2"/>
<line x1="542.50" y1="904.3" x2="542.50" y2="908.8" stroke="#000" stroke-width="2"/>
<text x="113.1" y="912.90" text-anchor="end" font-size="24" font-weight="bold">0.00</text>
<text x="113.1" y="812.75" text-anchor="end" font-size="24" font-weight="bold">0.25</text>
<text x="113.1" y="712.60" text-anchor="end" font-size="24" font-weight="bold">0.50</text>
<text x="113.1" y="612.45" text-anchor="end" font-size="24" font-weight="bold">0.75</text>
<text x="113.1" y="512.30" text-anchor="end" font-size="24" font-weight="bold">1.00</text>
<text x="127.50" y="936.5999999999999" text-anchor="middle" font-size="24" font-weight="bold">1.0</text>
<text x="293.50" y="936.5999999999999" text-anchor="middle" font-size="24" font-weight="bold">1.5</text>
<text x="459.50" y="936.5999999999999" text-anchor="middle" font-size="24" font-weight="bold">2.0</text>
<text x="625.50" y="936.5999999999999" text-anchor="middle" font-size="24" font-weight="bold">2.5</text>
<text transform="translate(57.5,704.00) rotate(-90)" text-anchor="middle" font-size="26.6" font-weight="bold">Reflectance</text>
<text x="270" y="967.8" font-size="26.3" font-weight="bold">Wavelength <tspan font-weight="normal">(</tspan><tspan font-weight="normal" dx="1">&#956;</tspan><tspan dx="1">m</tspan><tspan font-weight="normal" dx="1.5">)</tspan></text>
<text x="1" y="515.6" font-size="42" font-weight="bold">(C)</text>
<rect x="806.2" y="503.5" width="498.0" height="400.6" fill="none" stroke="#000" stroke-width="2.2"/>
<line x1="798.2" y1="904.10" x2="806.2" y2="904.10" stroke="#000" stroke-width="2"/>
<line x1="801.7" y1="854.02" x2="806.2" y2="854.02" stroke="#000" stroke-width="2"/>
<line x1="798.2" y1="803.95" x2="806.2" y2="803.95" stroke="#000" stroke-width="2"/>
<line x1="801.7" y1="753.88" x2="806.2" y2="753.88" stroke="#000" stroke-width="2"/>
<line x1="798.2" y1="703.80" x2="806.2" y2="703.80" stroke="#000" stroke-width="2"/>
<line x1="801.7" y1="653.73" x2="806.2" y2="653.73" stroke="#000" stroke-width="2"/>
<line x1="798.2" y1="603.65" x2="806.2" y2="603.65" stroke="#000" stroke-width="2"/>
<line x1="801.7" y1="553.58" x2="806.2" y2="553.58" stroke="#000" stroke-width="2"/>
<line x1="798.2" y1="503.50" x2="806.2" y2="503.50" stroke="#000" stroke-width="2"/>
<line x1="806.20" y1="904.1" x2="806.20" y2="911.6" stroke="#000" stroke-width="2"/>
<line x1="930.70" y1="904.1" x2="930.70" y2="911.6" stroke="#000" stroke-width="2"/>
<line x1="1055.20" y1="904.1" x2="1055.20" y2="911.6" stroke="#000" stroke-width="2"/>
<line x1="1179.70" y1="904.1" x2="1179.70" y2="911.6" stroke="#000" stroke-width="2"/>
<line x1="1304.20" y1="904.1" x2="1304.20" y2="911.6" stroke="#000" stroke-width="2"/>
<line x1="868.45" y1="904.1" x2="868.45" y2="908.6" stroke="#000" stroke-width="2"/>
<line x1="992.95" y1="904.1" x2="992.95" y2="908.6" stroke="#000" stroke-width="2"/>
<line x1="1117.45" y1="904.1" x2="1117.45" y2="908.6" stroke="#000" stroke-width="2"/>
<line x1="1241.95" y1="904.1" x2="1241.95" y2="908.6" stroke="#000" stroke-width="2"/>
<text x="791.8" y="912.70" text-anchor="end" font-size="24" font-weight="bold">0.00</text>
<text x="791.8" y="812.55" text-anchor="end" font-size="24" font-weight="bold">0.25</text>
<text x="791.8" y="712.40" text-anchor="end" font-size="24" font-weight="bold">0.50</text>
<text x="791.8" y="612.25" text-anchor="end" font-size="24" font-weight="bold">0.75</text>
<text x="791.8" y="512.10" text-anchor="end" font-size="24" font-weight="bold">1.00</text>
<text x="806.20" y="936.4" text-anchor="middle" font-size="24" font-weight="bold">5.5</text>
<text x="930.70" y="936.4" text-anchor="middle" font-size="24" font-weight="bold">6.0</text>
<text x="1055.20" y="936.4" text-anchor="middle" font-size="24" font-weight="bold">6.5</text>
<text x="1179.70" y="936.4" text-anchor="middle" font-size="24" font-weight="bold">7.0</text>
<text x="1304.20" y="936.4" text-anchor="middle" font-size="24" font-weight="bold">7.5</text>
<text transform="translate(736.2,703.80) rotate(-90)" text-anchor="middle" font-size="26.6" font-weight="bold">Reflectance</text>
<text x="949" y="967.6" font-size="26.3" font-weight="bold">Wavelength <tspan font-weight="normal">(</tspan><tspan font-weight="normal" dx="1">&#956;</tspan><tspan dx="1">m</tspan><tspan font-weight="normal" dx="1.5">)</tspan></text>
<text x="680.5" y="515.6" font-size="42" font-weight="bold">(D)</text>
</svg></body></html>
